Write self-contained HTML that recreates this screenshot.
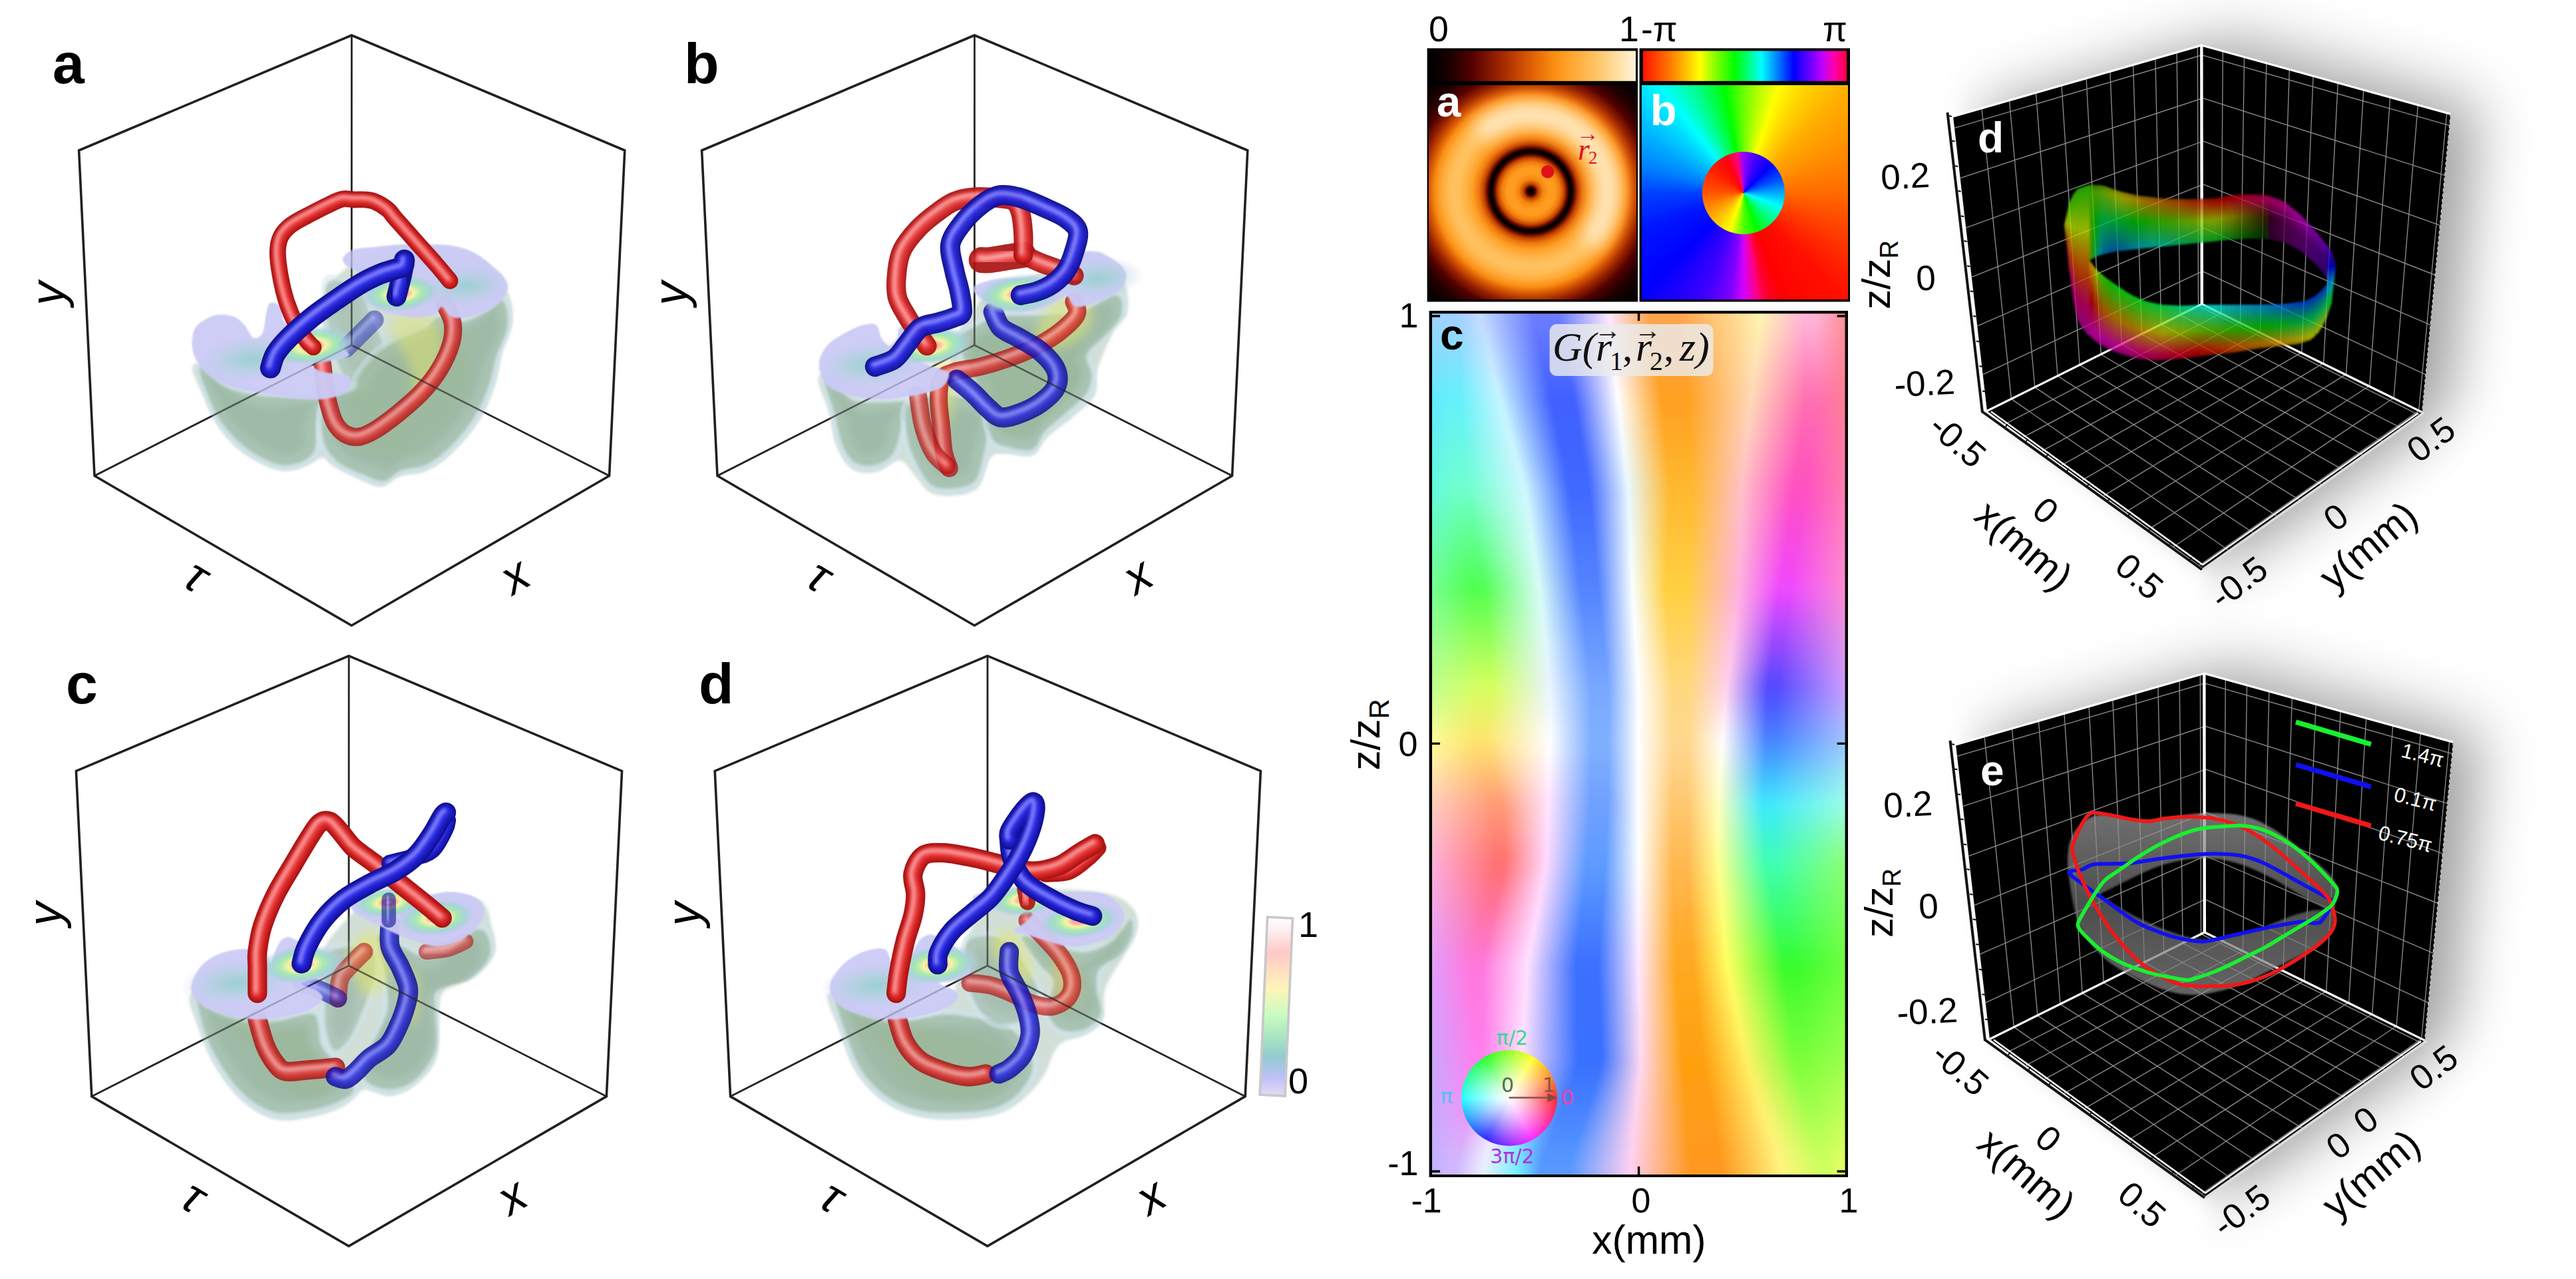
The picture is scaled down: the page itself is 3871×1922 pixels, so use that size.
<!DOCTYPE html>
<html><head><meta charset="utf-8"><title>figure</title>
<style>
html,body{margin:0;padding:0;background:#fff;}
body{width:3871px;height:1922px;position:relative;overflow:hidden;font-family:"Liberation Sans",sans-serif;}
svg{position:absolute;left:0;top:0;}
.abs{position:absolute;}
</style></head><body>
<svg width="3871" height="1922" viewBox="0 0 3871 1922" font-family="Liberation Sans, sans-serif"><defs>
<filter id="b1" x="-20%" y="-20%" width="140%" height="140%"><feGaussianBlur stdDeviation="1"/></filter>
<filter id="b2" x="-20%" y="-20%" width="140%" height="140%"><feGaussianBlur stdDeviation="2"/></filter>
<filter id="b4" x="-20%" y="-20%" width="140%" height="140%"><feGaussianBlur stdDeviation="4"/></filter>
<filter id="b8" x="-30%" y="-30%" width="160%" height="160%"><feGaussianBlur stdDeviation="8"/></filter>
<filter id="b14" x="-30%" y="-30%" width="160%" height="160%"><feGaussianBlur stdDeviation="14"/></filter>
<radialGradient id="core"><stop offset="0" stop-color="#fff"/><stop offset=".14" stop-color="#ff9a9a"/><stop offset=".32" stop-color="#f6f4a4"/><stop offset=".52" stop-color="#a8e8b2"/><stop offset=".74" stop-color="#a2d6d4" stop-opacity=".85"/><stop offset="1" stop-color="#c8c8f0" stop-opacity="0"/></radialGradient>
<radialGradient id="core2"><stop offset="0" stop-color="#8fd0c8" stop-opacity=".8"/><stop offset=".5" stop-color="#a8d4d8" stop-opacity=".55"/><stop offset="1" stop-color="#c8c8f0" stop-opacity="0"/></radialGradient>
<linearGradient id="cbar" x1="0" y1="0" x2="0" y2="1"><stop offset="0" stop-color="#fff"/><stop offset=".06" stop-color="#fdf2f2"/><stop offset=".2" stop-color="#ffc8c8"/><stop offset=".4" stop-color="#fff4b8"/><stop offset=".55" stop-color="#c8fcc0"/><stop offset=".68" stop-color="#a8e2c0"/><stop offset=".78" stop-color="#92ccd0"/><stop offset=".9" stop-color="#c0c0f8"/><stop offset="1" stop-color="#e2def2"/></linearGradient>
<linearGradient id="cr0"><stop offset="0%" stop-color="#99d4ff"/><stop offset="6%" stop-color="#a3d0ff"/><stop offset="7.3%" stop-color="#a3d0ff"/><stop offset="12.5%" stop-color="#c4dcff"/><stop offset="24.9%" stop-color="#6a7cff"/><stop offset="28%" stop-color="#6a7cff"/><stop offset="31%" stop-color="#6a7cff"/><stop offset="43%" stop-color="#fce8ff"/><stop offset="52.6%" stop-color="#ffa44c"/><stop offset="55%" stop-color="#ffa44c"/><stop offset="59.8%" stop-color="#ffa44c"/><stop offset="79%" stop-color="#fff2b0"/><stop offset="89.4%" stop-color="#ffb3d8"/><stop offset="92%" stop-color="#ffb3d8"/><stop offset="100%" stop-color="#ff8a90"/></linearGradient><linearGradient id="cr1"><stop offset="0%" stop-color="#8fd8ff"/><stop offset="5.8%" stop-color="#98d6fe"/><stop offset="7.3%" stop-color="#98d6fe"/><stop offset="13.3%" stop-color="#c5e0ff"/><stop offset="25.6%" stop-color="#6277ff"/><stop offset="28.7%" stop-color="#6277ff"/><stop offset="31.7%" stop-color="#6277ff"/><stop offset="43.4%" stop-color="#fdecff"/><stop offset="53.1%" stop-color="#ffa344"/><stop offset="55.5%" stop-color="#ffa344"/><stop offset="60.2%" stop-color="#ffa344"/><stop offset="78.6%" stop-color="#ffedb1"/><stop offset="89.5%" stop-color="#ffa8d1"/><stop offset="92.2%" stop-color="#ffa8d1"/><stop offset="100%" stop-color="#ff8890"/></linearGradient><linearGradient id="cr2"><stop offset="0%" stop-color="#85dbff"/><stop offset="5.6%" stop-color="#8ddbfe"/><stop offset="7.3%" stop-color="#8ddbfe"/><stop offset="14.1%" stop-color="#c5e4ff"/><stop offset="26.4%" stop-color="#5b72ff"/><stop offset="29.4%" stop-color="#5b72ff"/><stop offset="32.3%" stop-color="#5b72ff"/><stop offset="43.7%" stop-color="#fdf0ff"/><stop offset="53.6%" stop-color="#ffa33c"/><stop offset="56.1%" stop-color="#ffa33c"/><stop offset="60.5%" stop-color="#ffa33c"/><stop offset="78.3%" stop-color="#ffe9b3"/><stop offset="89.5%" stop-color="#ff9cca"/><stop offset="92.4%" stop-color="#ff9cca"/><stop offset="100%" stop-color="#ff8690"/></linearGradient><linearGradient id="cr3"><stop offset="0%" stop-color="#7cdfff"/><stop offset="5.5%" stop-color="#82e1fd"/><stop offset="7.4%" stop-color="#82e1fd"/><stop offset="14.9%" stop-color="#c6e9ff"/><stop offset="27.1%" stop-color="#546dff"/><stop offset="30.1%" stop-color="#546dff"/><stop offset="32.9%" stop-color="#546dff"/><stop offset="44.1%" stop-color="#fef4ff"/><stop offset="54.1%" stop-color="#ffa235"/><stop offset="56.6%" stop-color="#ffa235"/><stop offset="60.9%" stop-color="#ffa235"/><stop offset="77.9%" stop-color="#ffe4b4"/><stop offset="89.6%" stop-color="#ff90c3"/><stop offset="92.5%" stop-color="#ff90c3"/><stop offset="100%" stop-color="#ff8590"/></linearGradient><linearGradient id="cr4"><stop offset="0%" stop-color="#72e2ff"/><stop offset="5.3%" stop-color="#77e6fd"/><stop offset="7.4%" stop-color="#77e6fd"/><stop offset="15.6%" stop-color="#c7edff"/><stop offset="27.8%" stop-color="#4d69ff"/><stop offset="30.8%" stop-color="#4d69ff"/><stop offset="33.5%" stop-color="#4d69ff"/><stop offset="44.4%" stop-color="#fef8ff"/><stop offset="54.5%" stop-color="#ffa12d"/><stop offset="57.1%" stop-color="#ffa12d"/><stop offset="61.2%" stop-color="#ffa12d"/><stop offset="77.6%" stop-color="#ffe0b6"/><stop offset="89.7%" stop-color="#ff85bc"/><stop offset="92.7%" stop-color="#ff85bc"/><stop offset="100%" stop-color="#ff8390"/></linearGradient><linearGradient id="cr5"><stop offset="0%" stop-color="#68e5ff"/><stop offset="5.1%" stop-color="#6cecfc"/><stop offset="7.4%" stop-color="#6cecfc"/><stop offset="16.4%" stop-color="#c7f1ff"/><stop offset="28.5%" stop-color="#4664ff"/><stop offset="31.5%" stop-color="#4664ff"/><stop offset="34.1%" stop-color="#4664ff"/><stop offset="44.7%" stop-color="#fffcff"/><stop offset="55%" stop-color="#ffa126"/><stop offset="57.6%" stop-color="#ffa126"/><stop offset="61.5%" stop-color="#ffa126"/><stop offset="77.3%" stop-color="#ffdbb7"/><stop offset="89.7%" stop-color="#ff79b5"/><stop offset="92.9%" stop-color="#ff79b5"/><stop offset="100%" stop-color="#ff8190"/></linearGradient><linearGradient id="cr6"><stop offset="0%" stop-color="#60e9fe"/><stop offset="5%" stop-color="#64f1fb"/><stop offset="7.5%" stop-color="#64f1fb"/><stop offset="17.2%" stop-color="#c8f4ff"/><stop offset="29.1%" stop-color="#4060ff"/><stop offset="32.1%" stop-color="#4060ff"/><stop offset="34.7%" stop-color="#4060ff"/><stop offset="45.1%" stop-color="#feffff"/><stop offset="55.5%" stop-color="#ffa121"/><stop offset="58.1%" stop-color="#ffa121"/><stop offset="61.8%" stop-color="#ffa121"/><stop offset="76.9%" stop-color="#ffd7b9"/><stop offset="89.7%" stop-color="#ff6fb1"/><stop offset="92.9%" stop-color="#ff6fb1"/><stop offset="100%" stop-color="#ff8091"/></linearGradient><linearGradient id="cr7"><stop offset="0%" stop-color="#60ebf9"/><stop offset="5.2%" stop-color="#66f3f4"/><stop offset="7.8%" stop-color="#66f3f4"/><stop offset="18.1%" stop-color="#c9f5ff"/><stop offset="29.8%" stop-color="#4061ff"/><stop offset="32.7%" stop-color="#4061ff"/><stop offset="35.3%" stop-color="#4061ff"/><stop offset="45.5%" stop-color="#fbfeff"/><stop offset="55.8%" stop-color="#ffa423"/><stop offset="58.4%" stop-color="#ffa423"/><stop offset="62%" stop-color="#ffa423"/><stop offset="76.5%" stop-color="#ffd4bb"/><stop offset="89.3%" stop-color="#ff6ab3"/><stop offset="92.5%" stop-color="#ff6ab3"/><stop offset="100%" stop-color="#ff8096"/></linearGradient><linearGradient id="cr8"><stop offset="0%" stop-color="#60edf5"/><stop offset="5.3%" stop-color="#68f5ee"/><stop offset="8.1%" stop-color="#68f5ee"/><stop offset="19%" stop-color="#cbf5ff"/><stop offset="30.4%" stop-color="#4063ff"/><stop offset="33.3%" stop-color="#4063ff"/><stop offset="35.8%" stop-color="#4063ff"/><stop offset="45.8%" stop-color="#f7fdff"/><stop offset="56.1%" stop-color="#ffa825"/><stop offset="58.7%" stop-color="#ffa825"/><stop offset="62.2%" stop-color="#ffa825"/><stop offset="76.2%" stop-color="#ffd0bd"/><stop offset="88.8%" stop-color="#ff65b5"/><stop offset="92%" stop-color="#ff65b5"/><stop offset="100%" stop-color="#ff809b"/></linearGradient><linearGradient id="cr9"><stop offset="0%" stop-color="#60f0f0"/><stop offset="5.5%" stop-color="#6af7e7"/><stop offset="8.4%" stop-color="#6af7e7"/><stop offset="19.9%" stop-color="#ccf6ff"/><stop offset="31.1%" stop-color="#4064ff"/><stop offset="33.9%" stop-color="#4064ff"/><stop offset="36.4%" stop-color="#4064ff"/><stop offset="46.2%" stop-color="#f4fcff"/><stop offset="56.4%" stop-color="#ffab28"/><stop offset="59%" stop-color="#ffab28"/><stop offset="62.3%" stop-color="#ffab28"/><stop offset="75.8%" stop-color="#ffcdc0"/><stop offset="88.4%" stop-color="#ff61b8"/><stop offset="91.6%" stop-color="#ff61b8"/><stop offset="100%" stop-color="#ff809f"/></linearGradient><linearGradient id="cr10"><stop offset="0%" stop-color="#60f2ec"/><stop offset="5.6%" stop-color="#6bf9e1"/><stop offset="8.6%" stop-color="#6bf9e1"/><stop offset="20.7%" stop-color="#cdf6ff"/><stop offset="31.7%" stop-color="#4065ff"/><stop offset="34.5%" stop-color="#4065ff"/><stop offset="36.9%" stop-color="#4065ff"/><stop offset="46.6%" stop-color="#f1fbff"/><stop offset="56.7%" stop-color="#ffaf2a"/><stop offset="59.2%" stop-color="#ffaf2a"/><stop offset="62.5%" stop-color="#ffaf2a"/><stop offset="75.4%" stop-color="#ffc9c2"/><stop offset="88%" stop-color="#ff5cba"/><stop offset="91.1%" stop-color="#ff5cba"/><stop offset="100%" stop-color="#ff80a4"/></linearGradient><linearGradient id="cr11"><stop offset="0%" stop-color="#60f4e7"/><stop offset="5.8%" stop-color="#6dfcda"/><stop offset="8.9%" stop-color="#6dfcda"/><stop offset="21.6%" stop-color="#cef7ff"/><stop offset="32.4%" stop-color="#4066ff"/><stop offset="35.1%" stop-color="#4066ff"/><stop offset="37.5%" stop-color="#4066ff"/><stop offset="46.9%" stop-color="#edfaff"/><stop offset="57%" stop-color="#ffb32c"/><stop offset="59.5%" stop-color="#ffb32c"/><stop offset="62.6%" stop-color="#ffb32c"/><stop offset="75.1%" stop-color="#ffc5c4"/><stop offset="87.6%" stop-color="#ff57bc"/><stop offset="90.7%" stop-color="#ff57bc"/><stop offset="100%" stop-color="#ff80a9"/></linearGradient><linearGradient id="cr12"><stop offset="0%" stop-color="#60f7e3"/><stop offset="5.9%" stop-color="#6ffed4"/><stop offset="9.2%" stop-color="#6ffed4"/><stop offset="22.5%" stop-color="#cff8ff"/><stop offset="33%" stop-color="#4067ff"/><stop offset="35.7%" stop-color="#4067ff"/><stop offset="38%" stop-color="#4067ff"/><stop offset="47.3%" stop-color="#eaf9ff"/><stop offset="57.3%" stop-color="#ffb62f"/><stop offset="59.8%" stop-color="#ffb62f"/><stop offset="62.8%" stop-color="#ffb62f"/><stop offset="74.7%" stop-color="#ffc2c7"/><stop offset="87.1%" stop-color="#ff53bf"/><stop offset="90.2%" stop-color="#ff53bf"/><stop offset="100%" stop-color="#ff80ad"/></linearGradient><linearGradient id="cr13"><stop offset="0%" stop-color="#61f8dc"/><stop offset="6.2%" stop-color="#6effc8"/><stop offset="9.6%" stop-color="#6effc8"/><stop offset="23.2%" stop-color="#d0f8ff"/><stop offset="33.6%" stop-color="#416aff"/><stop offset="36.2%" stop-color="#416aff"/><stop offset="38.4%" stop-color="#416aff"/><stop offset="47.6%" stop-color="#e9f8ff"/><stop offset="57.4%" stop-color="#ffb931"/><stop offset="59.9%" stop-color="#ffb931"/><stop offset="62.8%" stop-color="#ffb931"/><stop offset="74.5%" stop-color="#ffbfc9"/><stop offset="86.7%" stop-color="#fe50c4"/><stop offset="89.8%" stop-color="#fe50c4"/><stop offset="100%" stop-color="#ff81b2"/></linearGradient><linearGradient id="cr14"><stop offset="0%" stop-color="#65f9d2"/><stop offset="6.8%" stop-color="#6affb7"/><stop offset="10.2%" stop-color="#6affb7"/><stop offset="23.7%" stop-color="#d2f9fe"/><stop offset="33.9%" stop-color="#446dff"/><stop offset="36.5%" stop-color="#446dff"/><stop offset="38.7%" stop-color="#446dff"/><stop offset="47.7%" stop-color="#ebf9ff"/><stop offset="57.3%" stop-color="#ffbd33"/><stop offset="59.7%" stop-color="#ffbd33"/><stop offset="62.6%" stop-color="#ffbd33"/><stop offset="74.4%" stop-color="#ffbdcd"/><stop offset="86.3%" stop-color="#fc4ecc"/><stop offset="89.2%" stop-color="#fc4ecc"/><stop offset="100%" stop-color="#ff83b6"/></linearGradient><linearGradient id="cr15"><stop offset="0%" stop-color="#68fac8"/><stop offset="7.3%" stop-color="#65ffa6"/><stop offset="10.7%" stop-color="#65ffa6"/><stop offset="24.2%" stop-color="#d3f9fd"/><stop offset="34.3%" stop-color="#4771ff"/><stop offset="36.8%" stop-color="#4771ff"/><stop offset="39%" stop-color="#4771ff"/><stop offset="47.8%" stop-color="#edfaff"/><stop offset="57.2%" stop-color="#ffc035"/><stop offset="59.5%" stop-color="#ffc035"/><stop offset="62.5%" stop-color="#ffc035"/><stop offset="74.3%" stop-color="#ffbbd0"/><stop offset="85.8%" stop-color="#fa4dd5"/><stop offset="88.7%" stop-color="#fa4dd5"/><stop offset="100%" stop-color="#ff85bb"/></linearGradient><linearGradient id="cr16"><stop offset="0%" stop-color="#6bfbbf"/><stop offset="7.9%" stop-color="#61ff94"/><stop offset="11.2%" stop-color="#61ff94"/><stop offset="24.6%" stop-color="#d4fafc"/><stop offset="34.7%" stop-color="#4975ff"/><stop offset="37.2%" stop-color="#4975ff"/><stop offset="39.3%" stop-color="#4975ff"/><stop offset="48%" stop-color="#effbff"/><stop offset="57%" stop-color="#ffc337"/><stop offset="59.3%" stop-color="#ffc337"/><stop offset="62.3%" stop-color="#ffc337"/><stop offset="74.3%" stop-color="#ffb9d3"/><stop offset="85.4%" stop-color="#f84cdd"/><stop offset="88.1%" stop-color="#f84cdd"/><stop offset="100%" stop-color="#ff87bf"/></linearGradient><linearGradient id="cr17"><stop offset="0%" stop-color="#6efcb5"/><stop offset="8.4%" stop-color="#5dff83"/><stop offset="11.7%" stop-color="#5dff83"/><stop offset="25.1%" stop-color="#d5fafb"/><stop offset="35%" stop-color="#4c79ff"/><stop offset="37.5%" stop-color="#4c79ff"/><stop offset="39.6%" stop-color="#4c79ff"/><stop offset="48.1%" stop-color="#f2fcff"/><stop offset="56.9%" stop-color="#ffc63a"/><stop offset="59.1%" stop-color="#ffc63a"/><stop offset="62.1%" stop-color="#ffc63a"/><stop offset="74.2%" stop-color="#ffb6d6"/><stop offset="84.9%" stop-color="#f64be6"/><stop offset="87.6%" stop-color="#f64be6"/><stop offset="100%" stop-color="#ff8ac3"/></linearGradient><linearGradient id="cr18"><stop offset="0%" stop-color="#72fdab"/><stop offset="8.9%" stop-color="#58ff72"/><stop offset="12.3%" stop-color="#58ff72"/><stop offset="25.6%" stop-color="#d6fbfa"/><stop offset="35.4%" stop-color="#4f7dff"/><stop offset="37.8%" stop-color="#4f7dff"/><stop offset="39.9%" stop-color="#4f7dff"/><stop offset="48.2%" stop-color="#f4fdff"/><stop offset="56.8%" stop-color="#ffca3c"/><stop offset="58.9%" stop-color="#ffca3c"/><stop offset="61.9%" stop-color="#ffca3c"/><stop offset="74.1%" stop-color="#ffb4da"/><stop offset="84.5%" stop-color="#f44aee"/><stop offset="87.1%" stop-color="#f44aee"/><stop offset="100%" stop-color="#ff8cc8"/></linearGradient><linearGradient id="cr19"><stop offset="0%" stop-color="#75fea1"/><stop offset="9.5%" stop-color="#54ff61"/><stop offset="12.8%" stop-color="#54ff61"/><stop offset="26%" stop-color="#d7fbf9"/><stop offset="35.7%" stop-color="#5180ff"/><stop offset="38.2%" stop-color="#5180ff"/><stop offset="40.2%" stop-color="#5180ff"/><stop offset="48.4%" stop-color="#f6feff"/><stop offset="56.6%" stop-color="#ffcd3e"/><stop offset="58.7%" stop-color="#ffcd3e"/><stop offset="61.8%" stop-color="#ffcd3e"/><stop offset="74.1%" stop-color="#ffb2dd"/><stop offset="84%" stop-color="#f249f7"/><stop offset="86.5%" stop-color="#f249f7"/><stop offset="100%" stop-color="#ff8ecc"/></linearGradient><linearGradient id="cr20"><stop offset="0%" stop-color="#78ff98"/><stop offset="10%" stop-color="#51ff50"/><stop offset="13.3%" stop-color="#51ff50"/><stop offset="26.5%" stop-color="#d8fcf8"/><stop offset="36.1%" stop-color="#5484ff"/><stop offset="38.5%" stop-color="#5484ff"/><stop offset="40.5%" stop-color="#5484ff"/><stop offset="48.5%" stop-color="#f8ffff"/><stop offset="56.5%" stop-color="#ffd040"/><stop offset="58.5%" stop-color="#ffd040"/><stop offset="61.6%" stop-color="#ffd040"/><stop offset="74%" stop-color="#ffb0e0"/><stop offset="83.6%" stop-color="#ef48ff"/><stop offset="86%" stop-color="#ef48ff"/><stop offset="100%" stop-color="#ff90d0"/></linearGradient><linearGradient id="cr21"><stop offset="0%" stop-color="#82ff97"/><stop offset="10.3%" stop-color="#63ff52"/><stop offset="13.6%" stop-color="#63ff52"/><stop offset="26.8%" stop-color="#dafbf9"/><stop offset="36.4%" stop-color="#5989ff"/><stop offset="38.8%" stop-color="#5989ff"/><stop offset="40.8%" stop-color="#5989ff"/><stop offset="48.7%" stop-color="#f9ffff"/><stop offset="56.7%" stop-color="#ffd149"/><stop offset="58.7%" stop-color="#ffd149"/><stop offset="61.7%" stop-color="#ffd149"/><stop offset="73.6%" stop-color="#ffb4e2"/><stop offset="83.2%" stop-color="#da48ff"/><stop offset="85.6%" stop-color="#da48ff"/><stop offset="100%" stop-color="#f892d7"/></linearGradient><linearGradient id="cr22"><stop offset="0%" stop-color="#8cff96"/><stop offset="10.5%" stop-color="#75ff54"/><stop offset="13.9%" stop-color="#75ff54"/><stop offset="27.2%" stop-color="#dcfafa"/><stop offset="36.8%" stop-color="#5e8eff"/><stop offset="39.2%" stop-color="#5e8eff"/><stop offset="41.1%" stop-color="#5e8eff"/><stop offset="48.9%" stop-color="#faffff"/><stop offset="56.9%" stop-color="#ffd252"/><stop offset="58.9%" stop-color="#ffd252"/><stop offset="61.8%" stop-color="#ffd252"/><stop offset="73.2%" stop-color="#ffb9e4"/><stop offset="82.8%" stop-color="#c448ff"/><stop offset="85.2%" stop-color="#c448ff"/><stop offset="100%" stop-color="#f294dd"/></linearGradient><linearGradient id="cr23"><stop offset="0%" stop-color="#95ff95"/><stop offset="10.8%" stop-color="#88ff57"/><stop offset="14.2%" stop-color="#88ff57"/><stop offset="27.5%" stop-color="#dff9fb"/><stop offset="37.1%" stop-color="#6393ff"/><stop offset="39.5%" stop-color="#6393ff"/><stop offset="41.4%" stop-color="#6393ff"/><stop offset="49.1%" stop-color="#fbffff"/><stop offset="57.1%" stop-color="#ffd35a"/><stop offset="59.1%" stop-color="#ffd35a"/><stop offset="61.8%" stop-color="#ffd35a"/><stop offset="72.8%" stop-color="#ffbde7"/><stop offset="82.4%" stop-color="#af48ff"/><stop offset="84.8%" stop-color="#af48ff"/><stop offset="100%" stop-color="#ec97e3"/></linearGradient><linearGradient id="cr24"><stop offset="0%" stop-color="#9fff94"/><stop offset="11.1%" stop-color="#9aff59"/><stop offset="14.4%" stop-color="#9aff59"/><stop offset="27.9%" stop-color="#e1f8fc"/><stop offset="37.5%" stop-color="#6898ff"/><stop offset="39.9%" stop-color="#6898ff"/><stop offset="41.7%" stop-color="#6898ff"/><stop offset="49.3%" stop-color="#fcffff"/><stop offset="57.3%" stop-color="#ffd463"/><stop offset="59.3%" stop-color="#ffd463"/><stop offset="61.9%" stop-color="#ffd463"/><stop offset="72.4%" stop-color="#ffc1e9"/><stop offset="82%" stop-color="#9948ff"/><stop offset="84.4%" stop-color="#9948ff"/><stop offset="100%" stop-color="#e599ea"/></linearGradient><linearGradient id="cr25"><stop offset="0%" stop-color="#a9ff93"/><stop offset="11.4%" stop-color="#acff5b"/><stop offset="14.7%" stop-color="#acff5b"/><stop offset="28.2%" stop-color="#e3f7fd"/><stop offset="37.8%" stop-color="#6c9cff"/><stop offset="40.2%" stop-color="#6c9cff"/><stop offset="42.1%" stop-color="#6c9cff"/><stop offset="49.5%" stop-color="#fdffff"/><stop offset="57.5%" stop-color="#ffd56b"/><stop offset="59.5%" stop-color="#ffd56b"/><stop offset="62%" stop-color="#ffd56b"/><stop offset="72%" stop-color="#ffc6eb"/><stop offset="81.6%" stop-color="#8448ff"/><stop offset="84%" stop-color="#8448ff"/><stop offset="100%" stop-color="#df9bf0"/></linearGradient><linearGradient id="cr26"><stop offset="0%" stop-color="#b3ff91"/><stop offset="11.6%" stop-color="#bfff5d"/><stop offset="15%" stop-color="#bfff5d"/><stop offset="28.5%" stop-color="#e5f5fe"/><stop offset="38.1%" stop-color="#71a1ff"/><stop offset="40.5%" stop-color="#71a1ff"/><stop offset="42.4%" stop-color="#71a1ff"/><stop offset="49.7%" stop-color="#feffff"/><stop offset="57.7%" stop-color="#ffd774"/><stop offset="59.7%" stop-color="#ffd774"/><stop offset="62.1%" stop-color="#ffd774"/><stop offset="71.6%" stop-color="#ffcaed"/><stop offset="81.2%" stop-color="#6e48ff"/><stop offset="83.6%" stop-color="#6e48ff"/><stop offset="100%" stop-color="#d99df6"/></linearGradient><linearGradient id="cr27"><stop offset="0%" stop-color="#bcff90"/><stop offset="11.9%" stop-color="#d1ff5f"/><stop offset="15.3%" stop-color="#d1ff5f"/><stop offset="28.9%" stop-color="#e7f4ff"/><stop offset="38.5%" stop-color="#76a6ff"/><stop offset="40.9%" stop-color="#76a6ff"/><stop offset="42.7%" stop-color="#76a6ff"/><stop offset="49.9%" stop-color="#ffffff"/><stop offset="57.9%" stop-color="#ffd87d"/><stop offset="59.9%" stop-color="#ffd87d"/><stop offset="62.2%" stop-color="#ffd87d"/><stop offset="71.2%" stop-color="#ffceef"/><stop offset="80.8%" stop-color="#5848ff"/><stop offset="83.2%" stop-color="#5848ff"/><stop offset="100%" stop-color="#d29ffd"/></linearGradient><linearGradient id="cr28"><stop offset="0%" stop-color="#c9ff92"/><stop offset="11.7%" stop-color="#defb62"/><stop offset="15.2%" stop-color="#defb62"/><stop offset="29%" stop-color="#ebf6ff"/><stop offset="38.6%" stop-color="#79a9ff"/><stop offset="41%" stop-color="#79a9ff"/><stop offset="42.8%" stop-color="#79a9ff"/><stop offset="50%" stop-color="#ffffff"/><stop offset="58%" stop-color="#ffd882"/><stop offset="60%" stop-color="#ffd882"/><stop offset="62.2%" stop-color="#ffd882"/><stop offset="70.8%" stop-color="#ffd7f2"/><stop offset="80.6%" stop-color="#4f52ff"/><stop offset="83%" stop-color="#4f52ff"/><stop offset="100%" stop-color="#c9a6ff"/></linearGradient><linearGradient id="cr29"><stop offset="0%" stop-color="#d9ff96"/><stop offset="11.2%" stop-color="#e7f466"/><stop offset="14.8%" stop-color="#e7f466"/><stop offset="29%" stop-color="#f1f8ff"/><stop offset="38.6%" stop-color="#7babff"/><stop offset="41%" stop-color="#7babff"/><stop offset="42.8%" stop-color="#7babff"/><stop offset="50%" stop-color="#ffffff"/><stop offset="58%" stop-color="#ffd886"/><stop offset="60%" stop-color="#ffd886"/><stop offset="62.1%" stop-color="#ffd886"/><stop offset="70.6%" stop-color="#ffe3f6"/><stop offset="80.5%" stop-color="#4d61ff"/><stop offset="83%" stop-color="#4d61ff"/><stop offset="100%" stop-color="#bdb0ff"/></linearGradient><linearGradient id="cr30"><stop offset="0%" stop-color="#e9ff9a"/><stop offset="10.7%" stop-color="#f1ee6a"/><stop offset="14.4%" stop-color="#f1ee6a"/><stop offset="29%" stop-color="#f7fbff"/><stop offset="38.6%" stop-color="#7dadff"/><stop offset="41%" stop-color="#7dadff"/><stop offset="42.8%" stop-color="#7dadff"/><stop offset="50%" stop-color="#ffffff"/><stop offset="58%" stop-color="#ffd88a"/><stop offset="60%" stop-color="#ffd88a"/><stop offset="62.1%" stop-color="#ffd88a"/><stop offset="70.4%" stop-color="#ffeefa"/><stop offset="80.5%" stop-color="#4b71ff"/><stop offset="83%" stop-color="#4b71ff"/><stop offset="100%" stop-color="#b1baff"/></linearGradient><linearGradient id="cr31"><stop offset="0%" stop-color="#f8ff9e"/><stop offset="10.2%" stop-color="#fbe76e"/><stop offset="14%" stop-color="#fbe76e"/><stop offset="29%" stop-color="#fcfeff"/><stop offset="38.6%" stop-color="#7fafff"/><stop offset="41%" stop-color="#7fafff"/><stop offset="42.8%" stop-color="#7fafff"/><stop offset="50%" stop-color="#ffffff"/><stop offset="58%" stop-color="#ffd88e"/><stop offset="60%" stop-color="#ffd88e"/><stop offset="62%" stop-color="#ffd88e"/><stop offset="70.1%" stop-color="#fffafd"/><stop offset="80.4%" stop-color="#4981ff"/><stop offset="83%" stop-color="#4981ff"/><stop offset="100%" stop-color="#a5c4ff"/></linearGradient><linearGradient id="cr32"><stop offset="0%" stop-color="#fff9a4"/><stop offset="10.6%" stop-color="#ffdb71"/><stop offset="14.3%" stop-color="#ffdb71"/><stop offset="28.9%" stop-color="#fffcff"/><stop offset="38.6%" stop-color="#7eaeff"/><stop offset="41%" stop-color="#7eaeff"/><stop offset="42.8%" stop-color="#7eaeff"/><stop offset="50%" stop-color="#ffffff"/><stop offset="58%" stop-color="#ffd68c"/><stop offset="60%" stop-color="#ffd68c"/><stop offset="62%" stop-color="#ffd68c"/><stop offset="69.9%" stop-color="#fffff7"/><stop offset="80.3%" stop-color="#4794ff"/><stop offset="82.9%" stop-color="#4794ff"/><stop offset="100%" stop-color="#a0cffc"/></linearGradient><linearGradient id="cr33"><stop offset="0%" stop-color="#ffefab"/><stop offset="11.7%" stop-color="#ffcb73"/><stop offset="15.2%" stop-color="#ffcb73"/><stop offset="28.8%" stop-color="#fff6ff"/><stop offset="38.6%" stop-color="#7aaaff"/><stop offset="41%" stop-color="#7aaaff"/><stop offset="42.8%" stop-color="#7aaaff"/><stop offset="50%" stop-color="#ffffff"/><stop offset="58%" stop-color="#ffd285"/><stop offset="60%" stop-color="#ffd285"/><stop offset="61.9%" stop-color="#ffd285"/><stop offset="69.7%" stop-color="#ffffe9"/><stop offset="80.1%" stop-color="#45aaff"/><stop offset="82.7%" stop-color="#45aaff"/><stop offset="100%" stop-color="#a0dbf7"/></linearGradient><linearGradient id="cr34"><stop offset="0%" stop-color="#ffe4b2"/><stop offset="12.9%" stop-color="#ffbb75"/><stop offset="16%" stop-color="#ffbb75"/><stop offset="28.7%" stop-color="#fff0ff"/><stop offset="38.5%" stop-color="#77a7ff"/><stop offset="41%" stop-color="#77a7ff"/><stop offset="42.8%" stop-color="#77a7ff"/><stop offset="50%" stop-color="#ffffff"/><stop offset="58%" stop-color="#ffcf7e"/><stop offset="60%" stop-color="#ffcf7e"/><stop offset="61.9%" stop-color="#ffcf7e"/><stop offset="69.4%" stop-color="#ffffdb"/><stop offset="79.8%" stop-color="#43bfff"/><stop offset="82.4%" stop-color="#43bfff"/><stop offset="100%" stop-color="#a0e8f2"/></linearGradient><linearGradient id="cr35"><stop offset="0%" stop-color="#ffd9ba"/><stop offset="14%" stop-color="#ffab76"/><stop offset="16.9%" stop-color="#ffab76"/><stop offset="28.6%" stop-color="#ffe9ff"/><stop offset="38.5%" stop-color="#73a3ff"/><stop offset="41%" stop-color="#73a3ff"/><stop offset="42.8%" stop-color="#73a3ff"/><stop offset="50%" stop-color="#ffffff"/><stop offset="58%" stop-color="#ffcb76"/><stop offset="60%" stop-color="#ffcb76"/><stop offset="61.8%" stop-color="#ffcb76"/><stop offset="69.2%" stop-color="#ffffcd"/><stop offset="79.6%" stop-color="#42d5ff"/><stop offset="82.2%" stop-color="#42d5ff"/><stop offset="100%" stop-color="#a0f4ed"/></linearGradient><linearGradient id="cr36"><stop offset="0%" stop-color="#ffcfc1"/><stop offset="15%" stop-color="#ff9b78"/><stop offset="17.7%" stop-color="#ff9b78"/><stop offset="28.5%" stop-color="#ffe4ff"/><stop offset="38.5%" stop-color="#70a0ff"/><stop offset="41%" stop-color="#70a0ff"/><stop offset="42.8%" stop-color="#70a0ff"/><stop offset="50%" stop-color="#ffffff"/><stop offset="58%" stop-color="#ffc86f"/><stop offset="60%" stop-color="#ffc86f"/><stop offset="61.8%" stop-color="#ffc86f"/><stop offset="69%" stop-color="#ffffbf"/><stop offset="79.4%" stop-color="#40e9fd"/><stop offset="82%" stop-color="#40e9fd"/><stop offset="100%" stop-color="#a0ffe5"/></linearGradient><linearGradient id="cr37"><stop offset="0%" stop-color="#ffc8c8"/><stop offset="15.2%" stop-color="#ff9176"/><stop offset="17.9%" stop-color="#ff9176"/><stop offset="28.4%" stop-color="#ffe1ff"/><stop offset="38.3%" stop-color="#6b9fff"/><stop offset="40.8%" stop-color="#6b9fff"/><stop offset="42.6%" stop-color="#6b9fff"/><stop offset="50%" stop-color="#ffffff"/><stop offset="58%" stop-color="#ffc468"/><stop offset="60%" stop-color="#ffc468"/><stop offset="61.8%" stop-color="#ffc468"/><stop offset="69%" stop-color="#ffffb4"/><stop offset="79.6%" stop-color="#40eeec"/><stop offset="82.2%" stop-color="#40eeec"/><stop offset="100%" stop-color="#9cffcb"/></linearGradient><linearGradient id="cr38"><stop offset="0%" stop-color="#ffc1cf"/><stop offset="15.5%" stop-color="#ff8874"/><stop offset="18%" stop-color="#ff8874"/><stop offset="28.3%" stop-color="#ffdfff"/><stop offset="38.1%" stop-color="#679eff"/><stop offset="40.5%" stop-color="#679eff"/><stop offset="42.4%" stop-color="#679eff"/><stop offset="50%" stop-color="#ffffff"/><stop offset="58%" stop-color="#ffc161"/><stop offset="60%" stop-color="#ffc161"/><stop offset="61.8%" stop-color="#ffc161"/><stop offset="69%" stop-color="#ffffaa"/><stop offset="79.8%" stop-color="#40f3db"/><stop offset="82.5%" stop-color="#40f3db"/><stop offset="100%" stop-color="#99ffb1"/></linearGradient><linearGradient id="cr39"><stop offset="0%" stop-color="#ffbad6"/><stop offset="15.7%" stop-color="#ff7e73"/><stop offset="18.2%" stop-color="#ff7e73"/><stop offset="28.2%" stop-color="#ffdcff"/><stop offset="37.9%" stop-color="#639dff"/><stop offset="40.3%" stop-color="#639dff"/><stop offset="42.3%" stop-color="#639dff"/><stop offset="50%" stop-color="#ffffff"/><stop offset="58%" stop-color="#ffbd5a"/><stop offset="60%" stop-color="#ffbd5a"/><stop offset="61.8%" stop-color="#ffbd5a"/><stop offset="69%" stop-color="#ffffa0"/><stop offset="79.9%" stop-color="#40f8ca"/><stop offset="82.7%" stop-color="#40f8ca"/><stop offset="100%" stop-color="#95ff97"/></linearGradient><linearGradient id="cr40"><stop offset="0%" stop-color="#ffb3dd"/><stop offset="15.9%" stop-color="#ff7571"/><stop offset="18.3%" stop-color="#ff7571"/><stop offset="28.1%" stop-color="#ffd9ff"/><stop offset="37.7%" stop-color="#5e9cff"/><stop offset="40.1%" stop-color="#5e9cff"/><stop offset="42.1%" stop-color="#5e9cff"/><stop offset="50%" stop-color="#ffffff"/><stop offset="58%" stop-color="#ffba53"/><stop offset="60%" stop-color="#ffba53"/><stop offset="61.8%" stop-color="#ffba53"/><stop offset="69%" stop-color="#ffff95"/><stop offset="80.1%" stop-color="#40fdb9"/><stop offset="82.9%" stop-color="#40fdb9"/><stop offset="100%" stop-color="#92ff7d"/></linearGradient><linearGradient id="cr41"><stop offset="0%" stop-color="#fdafe2"/><stop offset="15.6%" stop-color="#ff7177"/><stop offset="18%" stop-color="#ff7177"/><stop offset="27.7%" stop-color="#ffd9ff"/><stop offset="37.4%" stop-color="#5a99ff"/><stop offset="39.9%" stop-color="#5a99ff"/><stop offset="41.9%" stop-color="#5a99ff"/><stop offset="50%" stop-color="#fffdff"/><stop offset="58.1%" stop-color="#ffb74d"/><stop offset="60.1%" stop-color="#ffb74d"/><stop offset="61.9%" stop-color="#ffb74d"/><stop offset="69.1%" stop-color="#ffff8d"/><stop offset="80.5%" stop-color="#3fffa7"/><stop offset="83.3%" stop-color="#3fffa7"/><stop offset="100%" stop-color="#8eff6d"/></linearGradient><linearGradient id="cr42"><stop offset="0%" stop-color="#f9ade6"/><stop offset="14.8%" stop-color="#ff7286"/><stop offset="17.2%" stop-color="#ff7286"/><stop offset="27.1%" stop-color="#ffdaff"/><stop offset="37.1%" stop-color="#5693ff"/><stop offset="39.6%" stop-color="#5693ff"/><stop offset="41.7%" stop-color="#5693ff"/><stop offset="50%" stop-color="#fffaff"/><stop offset="58.2%" stop-color="#ffb546"/><stop offset="60.2%" stop-color="#ffb546"/><stop offset="62%" stop-color="#ffb546"/><stop offset="69.4%" stop-color="#ffff86"/><stop offset="81.1%" stop-color="#3efe95"/><stop offset="84%" stop-color="#3efe95"/><stop offset="100%" stop-color="#8aff66"/></linearGradient><linearGradient id="cr43"><stop offset="0%" stop-color="#f5abea"/><stop offset="14%" stop-color="#ff7394"/><stop offset="16.5%" stop-color="#ff7394"/><stop offset="26.5%" stop-color="#ffdbff"/><stop offset="36.8%" stop-color="#518dff"/><stop offset="39.3%" stop-color="#518dff"/><stop offset="41.5%" stop-color="#518dff"/><stop offset="50%" stop-color="#fff7ff"/><stop offset="58.3%" stop-color="#ffb340"/><stop offset="60.3%" stop-color="#ffb340"/><stop offset="62.2%" stop-color="#ffb340"/><stop offset="69.7%" stop-color="#ffff80"/><stop offset="81.7%" stop-color="#3dfe83"/><stop offset="84.7%" stop-color="#3dfe83"/><stop offset="100%" stop-color="#85ff60"/></linearGradient><linearGradient id="cr44"><stop offset="0%" stop-color="#f0a8ef"/><stop offset="13.2%" stop-color="#ff74a3"/><stop offset="15.7%" stop-color="#ff74a3"/><stop offset="25.9%" stop-color="#ffdcff"/><stop offset="36.4%" stop-color="#4d87ff"/><stop offset="39.1%" stop-color="#4d87ff"/><stop offset="41.2%" stop-color="#4d87ff"/><stop offset="50%" stop-color="#fff4ff"/><stop offset="58.4%" stop-color="#ffb039"/><stop offset="60.5%" stop-color="#ffb039"/><stop offset="62.4%" stop-color="#ffb039"/><stop offset="69.9%" stop-color="#ffff79"/><stop offset="82.3%" stop-color="#3cfe72"/><stop offset="85.4%" stop-color="#3cfe72"/><stop offset="100%" stop-color="#81ff59"/></linearGradient><linearGradient id="cr45"><stop offset="0%" stop-color="#eca6f3"/><stop offset="12.4%" stop-color="#ff75b2"/><stop offset="14.9%" stop-color="#ff75b2"/><stop offset="25.3%" stop-color="#ffddff"/><stop offset="36.1%" stop-color="#4981ff"/><stop offset="38.8%" stop-color="#4981ff"/><stop offset="41%" stop-color="#4981ff"/><stop offset="50%" stop-color="#fff1ff"/><stop offset="58.5%" stop-color="#ffae33"/><stop offset="60.6%" stop-color="#ffae33"/><stop offset="62.5%" stop-color="#ffae33"/><stop offset="70.2%" stop-color="#ffff73"/><stop offset="82.9%" stop-color="#3bfd60"/><stop offset="86%" stop-color="#3bfd60"/><stop offset="100%" stop-color="#7dff53"/></linearGradient><linearGradient id="cr46"><stop offset="0%" stop-color="#e8a4f7"/><stop offset="11.6%" stop-color="#ff76c0"/><stop offset="14.2%" stop-color="#ff76c0"/><stop offset="24.7%" stop-color="#ffdeff"/><stop offset="35.7%" stop-color="#447bff"/><stop offset="38.5%" stop-color="#447bff"/><stop offset="40.8%" stop-color="#447bff"/><stop offset="50%" stop-color="#ffeeff"/><stop offset="58.6%" stop-color="#ffac2c"/><stop offset="60.7%" stop-color="#ffac2c"/><stop offset="62.7%" stop-color="#ffac2c"/><stop offset="70.5%" stop-color="#ffff6c"/><stop offset="83.5%" stop-color="#3afd4e"/><stop offset="86.7%" stop-color="#3afd4e"/><stop offset="100%" stop-color="#78ff4c"/></linearGradient><linearGradient id="cr47"><stop offset="0%" stop-color="#e4a2fb"/><stop offset="10.7%" stop-color="#ff77cf"/><stop offset="13.4%" stop-color="#ff77cf"/><stop offset="24.1%" stop-color="#ffdfff"/><stop offset="35.4%" stop-color="#4075ff"/><stop offset="38.2%" stop-color="#4075ff"/><stop offset="40.6%" stop-color="#4075ff"/><stop offset="50%" stop-color="#ffebff"/><stop offset="58.7%" stop-color="#ffaa26"/><stop offset="60.9%" stop-color="#ffaa26"/><stop offset="62.9%" stop-color="#ffaa26"/><stop offset="70.8%" stop-color="#ffff66"/><stop offset="84.1%" stop-color="#39fc3c"/><stop offset="87.4%" stop-color="#39fc3c"/><stop offset="100%" stop-color="#74ff46"/></linearGradient><linearGradient id="cr48"><stop offset="0%" stop-color="#e0a0ff"/><stop offset="10%" stop-color="#ff78dc"/><stop offset="12.7%" stop-color="#ff78dc"/><stop offset="23.5%" stop-color="#ffe0ff"/><stop offset="35.1%" stop-color="#3c70ff"/><stop offset="38%" stop-color="#3c70ff"/><stop offset="40.4%" stop-color="#3c70ff"/><stop offset="50%" stop-color="#ffe8ff"/><stop offset="58.8%" stop-color="#ffa820"/><stop offset="61%" stop-color="#ffa820"/><stop offset="63%" stop-color="#ffa820"/><stop offset="71.1%" stop-color="#ffff60"/><stop offset="84.6%" stop-color="#39fc2c"/><stop offset="88%" stop-color="#39fc2c"/><stop offset="100%" stop-color="#71ff40"/></linearGradient><linearGradient id="cr49"><stop offset="0%" stop-color="#dda1ff"/><stop offset="10.1%" stop-color="#ff79df"/><stop offset="12.8%" stop-color="#ff79df"/><stop offset="23.3%" stop-color="#ffe0ff"/><stop offset="35.2%" stop-color="#3b70ff"/><stop offset="38.1%" stop-color="#3b70ff"/><stop offset="40.5%" stop-color="#3b70ff"/><stop offset="50.1%" stop-color="#ffe6fd"/><stop offset="59%" stop-color="#ffa71e"/><stop offset="61.3%" stop-color="#ffa71e"/><stop offset="63.4%" stop-color="#ffa71e"/><stop offset="71.7%" stop-color="#fffd61"/><stop offset="85%" stop-color="#42fc2e"/><stop offset="88.3%" stop-color="#42fc2e"/><stop offset="100%" stop-color="#77ff42"/></linearGradient><linearGradient id="cr50"><stop offset="0%" stop-color="#d9a2ff"/><stop offset="10.3%" stop-color="#ff7ae2"/><stop offset="12.8%" stop-color="#ff7ae2"/><stop offset="23.1%" stop-color="#ffe0ff"/><stop offset="35.2%" stop-color="#3b70ff"/><stop offset="38.3%" stop-color="#3b70ff"/><stop offset="40.7%" stop-color="#3b70ff"/><stop offset="50.1%" stop-color="#ffe4fb"/><stop offset="59.3%" stop-color="#ffa61c"/><stop offset="61.6%" stop-color="#ffa61c"/><stop offset="63.7%" stop-color="#ffa61c"/><stop offset="72.4%" stop-color="#fffb61"/><stop offset="85.3%" stop-color="#4cfd30"/><stop offset="88.6%" stop-color="#4cfd30"/><stop offset="100%" stop-color="#7dff44"/></linearGradient><linearGradient id="cr51"><stop offset="0%" stop-color="#d6a3ff"/><stop offset="10.4%" stop-color="#ff7be4"/><stop offset="12.9%" stop-color="#ff7be4"/><stop offset="22.9%" stop-color="#ffe0ff"/><stop offset="35.3%" stop-color="#3a70ff"/><stop offset="38.4%" stop-color="#3a70ff"/><stop offset="40.8%" stop-color="#3a70ff"/><stop offset="50.2%" stop-color="#ffe1f9"/><stop offset="59.5%" stop-color="#ffa519"/><stop offset="61.8%" stop-color="#ffa519"/><stop offset="64.1%" stop-color="#ffa519"/><stop offset="73.1%" stop-color="#fff962"/><stop offset="85.7%" stop-color="#56fd33"/><stop offset="88.8%" stop-color="#56fd33"/><stop offset="100%" stop-color="#84ff47"/></linearGradient><linearGradient id="cr52"><stop offset="0%" stop-color="#d3a4ff"/><stop offset="10.6%" stop-color="#ff7ce7"/><stop offset="13%" stop-color="#ff7ce7"/><stop offset="22.7%" stop-color="#ffe0ff"/><stop offset="35.4%" stop-color="#3a70ff"/><stop offset="38.6%" stop-color="#3a70ff"/><stop offset="40.9%" stop-color="#3a70ff"/><stop offset="50.3%" stop-color="#ffdff7"/><stop offset="59.7%" stop-color="#ffa417"/><stop offset="62.1%" stop-color="#ffa417"/><stop offset="64.4%" stop-color="#ffa417"/><stop offset="73.8%" stop-color="#fff762"/><stop offset="86%" stop-color="#60fe35"/><stop offset="89.1%" stop-color="#60fe35"/><stop offset="100%" stop-color="#8aff49"/></linearGradient><linearGradient id="cr53"><stop offset="0%" stop-color="#d0a5ff"/><stop offset="10.7%" stop-color="#ff7dea"/><stop offset="13%" stop-color="#ff7dea"/><stop offset="22.5%" stop-color="#ffe0ff"/><stop offset="35.4%" stop-color="#3970ff"/><stop offset="38.7%" stop-color="#3970ff"/><stop offset="41%" stop-color="#3970ff"/><stop offset="50.3%" stop-color="#ffddf5"/><stop offset="60%" stop-color="#ffa315"/><stop offset="62.4%" stop-color="#ffa315"/><stop offset="64.8%" stop-color="#ffa315"/><stop offset="74.4%" stop-color="#fff563"/><stop offset="86.4%" stop-color="#69fe37"/><stop offset="89.4%" stop-color="#69fe37"/><stop offset="100%" stop-color="#91ff4b"/></linearGradient><linearGradient id="cr54"><stop offset="0%" stop-color="#cca7ff"/><stop offset="10.8%" stop-color="#ff7fec"/><stop offset="13.1%" stop-color="#ff7fec"/><stop offset="22.3%" stop-color="#ffe0ff"/><stop offset="35.5%" stop-color="#3970ff"/><stop offset="38.8%" stop-color="#3970ff"/><stop offset="41.1%" stop-color="#3970ff"/><stop offset="50.4%" stop-color="#ffdbf3"/><stop offset="60.2%" stop-color="#ffa113"/><stop offset="62.6%" stop-color="#ffa113"/><stop offset="65.1%" stop-color="#ffa113"/><stop offset="75.1%" stop-color="#fff363"/><stop offset="86.7%" stop-color="#73fe39"/><stop offset="89.6%" stop-color="#73fe39"/><stop offset="100%" stop-color="#97ff4d"/></linearGradient><linearGradient id="cr55"><stop offset="0%" stop-color="#c9a8ff"/><stop offset="11%" stop-color="#ff80ef"/><stop offset="13.2%" stop-color="#ff80ef"/><stop offset="22.1%" stop-color="#ffe0ff"/><stop offset="35.6%" stop-color="#3870ff"/><stop offset="39%" stop-color="#3870ff"/><stop offset="41.3%" stop-color="#3870ff"/><stop offset="50.5%" stop-color="#ffd9f1"/><stop offset="60.4%" stop-color="#ffa011"/><stop offset="62.9%" stop-color="#ffa011"/><stop offset="65.5%" stop-color="#ffa011"/><stop offset="75.8%" stop-color="#fff164"/><stop offset="87.1%" stop-color="#7dff3b"/><stop offset="89.9%" stop-color="#7dff3b"/><stop offset="100%" stop-color="#9eff4f"/></linearGradient><linearGradient id="cr56"><stop offset="0%" stop-color="#c7a9ff"/><stop offset="10.5%" stop-color="#fb85f1"/><stop offset="12.6%" stop-color="#fb85f1"/><stop offset="21.2%" stop-color="#fde1ff"/><stop offset="34.8%" stop-color="#3b74ff"/><stop offset="38.2%" stop-color="#3b74ff"/><stop offset="40.6%" stop-color="#3b74ff"/><stop offset="50.3%" stop-color="#ffd7f0"/><stop offset="60.7%" stop-color="#ff9f11"/><stop offset="63.3%" stop-color="#ff9f11"/><stop offset="66%" stop-color="#ff9f11"/><stop offset="76.7%" stop-color="#fff066"/><stop offset="87.7%" stop-color="#87ff3f"/><stop offset="90.4%" stop-color="#87ff3f"/><stop offset="100%" stop-color="#a6ff51"/></linearGradient><linearGradient id="cr57"><stop offset="0%" stop-color="#c6aaff"/><stop offset="9.7%" stop-color="#f48df3"/><stop offset="11.7%" stop-color="#f48df3"/><stop offset="20%" stop-color="#fbe4ff"/><stop offset="33.6%" stop-color="#3f79ff"/><stop offset="37%" stop-color="#3f79ff"/><stop offset="39.6%" stop-color="#3f79ff"/><stop offset="49.9%" stop-color="#ffd6f0"/><stop offset="60.9%" stop-color="#ff9e14"/><stop offset="63.7%" stop-color="#ff9e14"/><stop offset="66.5%" stop-color="#ff9e14"/><stop offset="77.8%" stop-color="#fff16a"/><stop offset="88.5%" stop-color="#92ff44"/><stop offset="91.1%" stop-color="#92ff44"/><stop offset="100%" stop-color="#b0ff54"/></linearGradient><linearGradient id="cr58"><stop offset="0%" stop-color="#c5abff"/><stop offset="8.8%" stop-color="#ee94f5"/><stop offset="10.8%" stop-color="#ee94f5"/><stop offset="18.8%" stop-color="#f8e6ff"/><stop offset="21%" stop-color="#cdd9ff"/><stop offset="32.4%" stop-color="#437eff"/><stop offset="35.8%" stop-color="#437eff"/><stop offset="38.5%" stop-color="#437eff"/><stop offset="49.6%" stop-color="#ffd5f0"/><stop offset="61.2%" stop-color="#ff9d16"/><stop offset="64.1%" stop-color="#ff9d16"/><stop offset="67%" stop-color="#ff9d16"/><stop offset="78.9%" stop-color="#fff16e"/><stop offset="89.2%" stop-color="#9dff49"/><stop offset="91.8%" stop-color="#9dff49"/><stop offset="100%" stop-color="#baff56"/></linearGradient><linearGradient id="cr59"><stop offset="0%" stop-color="#c4acff"/><stop offset="8%" stop-color="#e89cf7"/><stop offset="9.9%" stop-color="#e89cf7"/><stop offset="17.6%" stop-color="#f6e8ff"/><stop offset="21%" stop-color="#aedaff"/><stop offset="31.2%" stop-color="#4884ff"/><stop offset="34.6%" stop-color="#4884ff"/><stop offset="37.5%" stop-color="#4884ff"/><stop offset="49.3%" stop-color="#ffd4f0"/><stop offset="61.4%" stop-color="#ff9c18"/><stop offset="64.5%" stop-color="#ff9c18"/><stop offset="67.6%" stop-color="#ff9c18"/><stop offset="79.9%" stop-color="#fff272"/><stop offset="90%" stop-color="#a7ff4e"/><stop offset="92.5%" stop-color="#a7ff4e"/><stop offset="100%" stop-color="#c4ff58"/></linearGradient><linearGradient id="cr60"><stop offset="0%" stop-color="#c3adff"/><stop offset="7.2%" stop-color="#e1a3f9"/><stop offset="9.1%" stop-color="#e1a3f9"/><stop offset="16.3%" stop-color="#f3eaff"/><stop offset="21%" stop-color="#96deff"/><stop offset="29.9%" stop-color="#4c89ff"/><stop offset="33.3%" stop-color="#4c89ff"/><stop offset="36.5%" stop-color="#4c89ff"/><stop offset="48.9%" stop-color="#ffd3f0"/><stop offset="61.7%" stop-color="#ff9b1a"/><stop offset="64.9%" stop-color="#ff9b1a"/><stop offset="68.1%" stop-color="#ff9b1a"/><stop offset="81%" stop-color="#fff376"/><stop offset="90.7%" stop-color="#b2ff53"/><stop offset="93.1%" stop-color="#b2ff53"/><stop offset="100%" stop-color="#cdff5a"/></linearGradient><linearGradient id="cr61"><stop offset="0%" stop-color="#c2aeff"/><stop offset="6.4%" stop-color="#dbabfb"/><stop offset="8.2%" stop-color="#dbabfb"/><stop offset="15.1%" stop-color="#f1ecff"/><stop offset="21%" stop-color="#85e5ff"/><stop offset="28.7%" stop-color="#508fff"/><stop offset="32.1%" stop-color="#508fff"/><stop offset="35.4%" stop-color="#508fff"/><stop offset="48.6%" stop-color="#ffd2f0"/><stop offset="61.9%" stop-color="#ff9a1c"/><stop offset="65.3%" stop-color="#ff9a1c"/><stop offset="68.7%" stop-color="#ff9a1c"/><stop offset="82.1%" stop-color="#fff379"/><stop offset="91.5%" stop-color="#bdff57"/><stop offset="93.8%" stop-color="#bdff57"/><stop offset="100%" stop-color="#d7ff5c"/></linearGradient><linearGradient id="cr62"><stop offset="0%" stop-color="#c1afff"/><stop offset="5.6%" stop-color="#d5b2fd"/><stop offset="7.3%" stop-color="#d5b2fd"/><stop offset="13.9%" stop-color="#eeeeff"/><stop offset="21%" stop-color="#7aedff"/><stop offset="27.5%" stop-color="#5594ff"/><stop offset="30.9%" stop-color="#5594ff"/><stop offset="34.4%" stop-color="#5594ff"/><stop offset="48.3%" stop-color="#ffd1f0"/><stop offset="62.2%" stop-color="#ff991e"/><stop offset="65.7%" stop-color="#ff991e"/><stop offset="69.2%" stop-color="#ff991e"/><stop offset="83.2%" stop-color="#fff47d"/><stop offset="92.2%" stop-color="#c8ff5c"/><stop offset="94.5%" stop-color="#c8ff5c"/><stop offset="100%" stop-color="#e1ff5e"/></linearGradient><linearGradient id="cr63"><stop offset="0%" stop-color="#c0b0ff"/><stop offset="5%" stop-color="#d0b8ff"/><stop offset="6.6%" stop-color="#d0b8ff"/><stop offset="13%" stop-color="#ecf0ff"/><stop offset="21%" stop-color="#78f0ff"/><stop offset="26.6%" stop-color="#5898ff"/><stop offset="30%" stop-color="#5898ff"/><stop offset="33.6%" stop-color="#5898ff"/><stop offset="48%" stop-color="#ffd0f0"/><stop offset="62.4%" stop-color="#ff9820"/><stop offset="66%" stop-color="#ff9820"/><stop offset="69.6%" stop-color="#ff9820"/><stop offset="84%" stop-color="#fff480"/><stop offset="92.8%" stop-color="#d0ff60"/><stop offset="95%" stop-color="#d0ff60"/><stop offset="100%" stop-color="#e8ff60"/></linearGradient><clipPath id="cclip"><rect x="2152" y="471.2" width="620.6" height="1293.8"/></clipPath><filter id="cblur" x="-5%" y="-5%" width="110%" height="110%"><feGaussianBlur stdDeviation="0 9"/></filter><linearGradient id="hotbar"><stop offset="0%" stop-color="#000000"/><stop offset="5%" stop-color="#100000"/><stop offset="10%" stop-color="#200000"/><stop offset="15%" stop-color="#390000"/><stop offset="20%" stop-color="#520000"/><stop offset="25%" stop-color="#6d0d00"/><stop offset="30%" stop-color="#891b00"/><stop offset="35%" stop-color="#a42800"/><stop offset="40%" stop-color="#b93b01"/><stop offset="45%" stop-color="#cd4f03"/><stop offset="50%" stop-color="#e26204"/><stop offset="55%" stop-color="#ee780c"/><stop offset="60%" stop-color="#fa8d13"/><stop offset="65%" stop-color="#ff9d22"/><stop offset="70%" stop-color="#ffaa37"/><stop offset="75%" stop-color="#ffb64b"/><stop offset="80%" stop-color="#ffc260"/><stop offset="85%" stop-color="#ffcf7e"/><stop offset="90%" stop-color="#ffdd9c"/><stop offset="95%" stop-color="#ffe9bb"/><stop offset="100%" stop-color="#fff4dc"/></linearGradient><linearGradient id="hsvbar"><stop offset="0%" stop-color="#ff1100"/><stop offset="14%" stop-color="#ff8000"/><stop offset="28%" stop-color="#ffff00"/><stop offset="36%" stop-color="#80ff00"/><stop offset="45%" stop-color="#00ff00"/><stop offset="52%" stop-color="#00ff80"/><stop offset="58%" stop-color="#00ffff"/><stop offset="66%" stop-color="#0080ff"/><stop offset="74%" stop-color="#0000ff"/><stop offset="82%" stop-color="#6a00ff"/><stop offset="88%" stop-color="#bf00ff"/><stop offset="94%" stop-color="#ff00aa"/><stop offset="100%" stop-color="#ff0040"/></linearGradient><radialGradient id="inten" gradientUnits="userSpaceOnUse" cx="2300.5" cy="287.5" r="235"><stop offset="0%" stop-color="#000000"/><stop offset="0.9%" stop-color="#000000"/><stop offset="2.6%" stop-color="#390000"/><stop offset="4.7%" stop-color="#c14302"/><stop offset="7.7%" stop-color="#f58510"/><stop offset="11.1%" stop-color="#ff9b1e"/><stop offset="15.3%" stop-color="#ff9b1e"/><stop offset="18.7%" stop-color="#f07c0d"/><stop offset="21.3%" stop-color="#c14302"/><stop offset="23%" stop-color="#6d0d00"/><stop offset="24.5%" stop-color="#130000"/><stop offset="25.5%" stop-color="#000000"/><stop offset="26.6%" stop-color="#130000"/><stop offset="28.1%" stop-color="#6d0d00"/><stop offset="30.2%" stop-color="#c14302"/><stop offset="33.2%" stop-color="#ee780c"/><stop offset="37.4%" stop-color="#ffa026"/><stop offset="41.7%" stop-color="#ffb347"/><stop offset="46%" stop-color="#ffc05c"/><stop offset="49.4%" stop-color="#ffc260"/><stop offset="52.8%" stop-color="#ffbb54"/><stop offset="57%" stop-color="#ffaa37"/><stop offset="61.3%" stop-color="#fa8d13"/><stop offset="65.5%" stop-color="#d65603"/><stop offset="70.6%" stop-color="#992300"/><stop offset="76.6%" stop-color="#520000"/><stop offset="83.8%" stop-color="#200000"/><stop offset="91.5%" stop-color="#0a0000"/><stop offset="100%" stop-color="#000000"/></radialGradient><radialGradient id="whl"><stop offset="0" stop-color="#fff" stop-opacity="1"/><stop offset="1" stop-color="#fff" stop-opacity="0"/></radialGradient><filter id="crb" filterUnits="userSpaceOnUse" x="2100" y="80" width="420" height="420"><feGaussianBlur stdDeviation="13"/></filter><clipPath id="aclip"><rect x="2147" y="128" width="312" height="322"/></clipPath><filter id="shb" x="-30%" y="-30%" width="160%" height="160%"><feGaussianBlur stdDeviation="44"/></filter><filter id="rb" x="-10%" y="-10%" width="120%" height="120%"><feGaussianBlur stdDeviation="1.6"/></filter><linearGradient id="gband" x1="0" y1="0" x2="0" y2="1"><stop offset="0" stop-color="#9a9a9a"/><stop offset=".5" stop-color="#6c6c6c"/><stop offset="1" stop-color="#8a8a8a"/></linearGradient><linearGradient id="rg0" x1="0" y1="0" x2="0" y2="1"><stop offset="0" stop-color="#22cc00"/><stop offset="0.3" stop-color="#bfe600"/><stop offset="0.6" stop-color="#d94800"/><stop offset="0.8" stop-color="#cc0066"/><stop offset="1" stop-color="#b200a4"/></linearGradient><linearGradient id="rg1" x1="0" y1="0" x2="0" y2="1"><stop offset="0" stop-color="#22cc00"/><stop offset="0.3" stop-color="#bfe600"/><stop offset="0.6" stop-color="#d94800"/><stop offset="0.8" stop-color="#cc0066"/><stop offset="1" stop-color="#b200a4"/></linearGradient><linearGradient id="rg2" x1="0" y1="0" x2="0" y2="1"><stop offset="0" stop-color="#22cc00"/><stop offset="0.3" stop-color="#bfe600"/><stop offset="0.6" stop-color="#d94800"/><stop offset="0.8" stop-color="#cc0066"/><stop offset="1" stop-color="#b200a4"/></linearGradient><linearGradient id="rg3" x1="0" y1="0" x2="0" y2="1"><stop offset="0" stop-color="#22cc00"/><stop offset="0.3" stop-color="#bfe600"/><stop offset="0.6" stop-color="#d94800"/><stop offset="0.8" stop-color="#cc0066"/><stop offset="1" stop-color="#b200a4"/></linearGradient><linearGradient id="rg4" x1="0" y1="0" x2="0" y2="1"><stop offset="0" stop-color="#22cc00"/><stop offset="0.3" stop-color="#bfe600"/><stop offset="0.6" stop-color="#d94800"/><stop offset="0.8" stop-color="#cc0066"/><stop offset="1" stop-color="#b200a4"/></linearGradient><linearGradient id="rg5" x1="0" y1="0" x2="0" y2="1"><stop offset="0" stop-color="#22cc00"/><stop offset="0.3" stop-color="#bfe600"/><stop offset="0.6" stop-color="#d94800"/><stop offset="0.8" stop-color="#cc0066"/><stop offset="1" stop-color="#b200a4"/></linearGradient><linearGradient id="rg6" x1="0" y1="0" x2="0" y2="1"><stop offset="0" stop-color="#3c9900"/><stop offset="0.1" stop-color="#4dc700"/><stop offset="0.5" stop-color="#3ec900"/><stop offset="1" stop-color="#2bbf00"/></linearGradient><linearGradient id="rg7" x1="0" y1="0" x2="0" y2="1"><stop offset="0" stop-color="#f2c100"/><stop offset="0.5" stop-color="#cc0007"/><stop offset="0.9" stop-color="#d900bc"/><stop offset="1" stop-color="#990085"/></linearGradient><linearGradient id="rg8" x1="0" y1="0" x2="0" y2="1"><stop offset="0" stop-color="#459900"/><stop offset="0.1" stop-color="#5ac700"/><stop offset="0.5" stop-color="#00c903"/><stop offset="1" stop-color="#00bf5c"/></linearGradient><linearGradient id="rg9" x1="0" y1="0" x2="0" y2="1"><stop offset="0" stop-color="#b2f200"/><stop offset="0.5" stop-color="#cc2900"/><stop offset="0.9" stop-color="#d900bb"/><stop offset="1" stop-color="#990084"/></linearGradient><linearGradient id="rg10" x1="0" y1="0" x2="0" y2="1"><stop offset="0" stop-color="#539900"/><stop offset="0.1" stop-color="#6cc700"/><stop offset="0.5" stop-color="#00c940"/><stop offset="1" stop-color="#009cbf"/></linearGradient><linearGradient id="rg11" x1="0" y1="0" x2="0" y2="1"><stop offset="0" stop-color="#40f200"/><stop offset="0.5" stop-color="#cc5a00"/><stop offset="0.9" stop-color="#d900b9"/><stop offset="1" stop-color="#990083"/></linearGradient><linearGradient id="rg12" x1="0" y1="0" x2="0" y2="1"><stop offset="0" stop-color="#619900"/><stop offset="0.1" stop-color="#7ec700"/><stop offset="0.5" stop-color="#00c94a"/><stop offset="1" stop-color="#0078bf"/></linearGradient><linearGradient id="rg13" x1="0" y1="0" x2="0" y2="1"><stop offset="0" stop-color="#19f200"/><stop offset="0.5" stop-color="#cc6b00"/><stop offset="0.9" stop-color="#d900b7"/><stop offset="1" stop-color="#990081"/></linearGradient><linearGradient id="rg14" x1="0" y1="0" x2="0" y2="1"><stop offset="0" stop-color="#6f9900"/><stop offset="0.1" stop-color="#90c700"/><stop offset="0.5" stop-color="#00c946"/><stop offset="1" stop-color="#006ebf"/></linearGradient><linearGradient id="rg15" x1="0" y1="0" x2="0" y2="1"><stop offset="0" stop-color="#05f200"/><stop offset="0.5" stop-color="#cc7500"/><stop offset="0.9" stop-color="#d900b6"/><stop offset="1" stop-color="#990080"/></linearGradient><linearGradient id="rg16" x1="0" y1="0" x2="0" y2="1"><stop offset="0" stop-color="#7d9900"/><stop offset="0.1" stop-color="#a2c700"/><stop offset="0.5" stop-color="#00c942"/><stop offset="1" stop-color="#0064bf"/></linearGradient><linearGradient id="rg17" x1="0" y1="0" x2="0" y2="1"><stop offset="0" stop-color="#00f20f"/><stop offset="0.5" stop-color="#cc7f00"/><stop offset="0.9" stop-color="#d900b1"/><stop offset="1" stop-color="#99007d"/></linearGradient><linearGradient id="rg18" x1="0" y1="0" x2="0" y2="1"><stop offset="0" stop-color="#8b9900"/><stop offset="0.1" stop-color="#b4c700"/><stop offset="0.5" stop-color="#00c938"/><stop offset="1" stop-color="#0066bf"/></linearGradient><linearGradient id="rg19" x1="0" y1="0" x2="0" y2="1"><stop offset="0" stop-color="#00f218"/><stop offset="0.5" stop-color="#cc8700"/><stop offset="0.9" stop-color="#d900a8"/><stop offset="1" stop-color="#990077"/></linearGradient><linearGradient id="rg20" x1="0" y1="0" x2="0" y2="1"><stop offset="0" stop-color="#979900"/><stop offset="0.1" stop-color="#c4c700"/><stop offset="0.5" stop-color="#00c92a"/><stop offset="1" stop-color="#0072bf"/></linearGradient><linearGradient id="rg21" x1="0" y1="0" x2="0" y2="1"><stop offset="0" stop-color="#00f216"/><stop offset="0.5" stop-color="#cc8a00"/><stop offset="0.9" stop-color="#d900a0"/><stop offset="1" stop-color="#990071"/></linearGradient><linearGradient id="rg22" x1="0" y1="0" x2="0" y2="1"><stop offset="0" stop-color="#999300"/><stop offset="0.1" stop-color="#c7bf00"/><stop offset="0.5" stop-color="#00c91e"/><stop offset="1" stop-color="#007fbf"/></linearGradient><linearGradient id="rg23" x1="0" y1="0" x2="0" y2="1"><stop offset="0" stop-color="#00f215"/><stop offset="0.5" stop-color="#cc8e00"/><stop offset="0.9" stop-color="#d90097"/><stop offset="1" stop-color="#99006a"/></linearGradient><linearGradient id="rg24" x1="0" y1="0" x2="0" y2="1"><stop offset="0" stop-color="#998a00"/><stop offset="0.1" stop-color="#c7b400"/><stop offset="0.5" stop-color="#00c912"/><stop offset="1" stop-color="#008bbf"/></linearGradient><linearGradient id="rg25" x1="0" y1="0" x2="0" y2="1"><stop offset="0" stop-color="#00f217"/><stop offset="0.5" stop-color="#cc9300"/><stop offset="0.9" stop-color="#d9008e"/><stop offset="1" stop-color="#990064"/></linearGradient><linearGradient id="rg26" x1="0" y1="0" x2="0" y2="1"><stop offset="0" stop-color="#998200"/><stop offset="0.1" stop-color="#c7a900"/><stop offset="0.5" stop-color="#00c906"/><stop offset="1" stop-color="#0097bf"/></linearGradient><linearGradient id="rg27" x1="0" y1="0" x2="0" y2="1"><stop offset="0" stop-color="#00f21e"/><stop offset="0.5" stop-color="#cc9a00"/><stop offset="0.9" stop-color="#d90085"/><stop offset="1" stop-color="#99005e"/></linearGradient><linearGradient id="rg28" x1="0" y1="0" x2="0" y2="1"><stop offset="0" stop-color="#997a00"/><stop offset="0.1" stop-color="#c79e00"/><stop offset="0.5" stop-color="#05c900"/><stop offset="1" stop-color="#00a2bf"/></linearGradient><linearGradient id="rg29" x1="0" y1="0" x2="0" y2="1"><stop offset="0" stop-color="#00f225"/><stop offset="0.5" stop-color="#cca100"/><stop offset="0.9" stop-color="#d9007c"/><stop offset="1" stop-color="#990057"/></linearGradient><linearGradient id="rg30" x1="0" y1="0" x2="0" y2="1"><stop offset="0" stop-color="#997100"/><stop offset="0.1" stop-color="#c79300"/><stop offset="0.5" stop-color="#10c900"/><stop offset="1" stop-color="#00adbf"/></linearGradient><linearGradient id="rg31" x1="0" y1="0" x2="0" y2="1"><stop offset="0" stop-color="#00f22d"/><stop offset="0.5" stop-color="#cca900"/><stop offset="0.9" stop-color="#d90073"/><stop offset="1" stop-color="#990051"/></linearGradient><linearGradient id="rg32" x1="0" y1="0" x2="0" y2="1"><stop offset="0" stop-color="#996a00"/><stop offset="0.1" stop-color="#c78900"/><stop offset="0.5" stop-color="#1bc900"/><stop offset="1" stop-color="#00b7bf"/></linearGradient><linearGradient id="rg33" x1="0" y1="0" x2="0" y2="1"><stop offset="0" stop-color="#00f234"/><stop offset="0.5" stop-color="#ccb000"/><stop offset="0.9" stop-color="#d9006a"/><stop offset="1" stop-color="#99004b"/></linearGradient><linearGradient id="rg34" x1="0" y1="0" x2="0" y2="1"><stop offset="0" stop-color="#996400"/><stop offset="0.1" stop-color="#c78200"/><stop offset="0.5" stop-color="#24c900"/><stop offset="1" stop-color="#00bfbd"/></linearGradient><linearGradient id="rg35" x1="0" y1="0" x2="0" y2="1"><stop offset="0" stop-color="#00f23c"/><stop offset="0.5" stop-color="#ccb800"/><stop offset="0.9" stop-color="#d90061"/><stop offset="1" stop-color="#990045"/></linearGradient><linearGradient id="rg36" x1="0" y1="0" x2="0" y2="1"><stop offset="0" stop-color="#995f00"/><stop offset="0.1" stop-color="#c77c00"/><stop offset="0.5" stop-color="#2dc900"/><stop offset="1" stop-color="#00bfb2"/></linearGradient><linearGradient id="rg37" x1="0" y1="0" x2="0" y2="1"><stop offset="0" stop-color="#00f243"/><stop offset="0.5" stop-color="#ccbf00"/><stop offset="0.9" stop-color="#d90058"/><stop offset="1" stop-color="#99003e"/></linearGradient><linearGradient id="rg38" x1="0" y1="0" x2="0" y2="1"><stop offset="0" stop-color="#995a00"/><stop offset="0.1" stop-color="#c77500"/><stop offset="0.5" stop-color="#36c900"/><stop offset="1" stop-color="#00bfa8"/></linearGradient><linearGradient id="rg39" x1="0" y1="0" x2="0" y2="1"><stop offset="0" stop-color="#00f24b"/><stop offset="0.5" stop-color="#ccc600"/><stop offset="0.9" stop-color="#d9004f"/><stop offset="1" stop-color="#990038"/></linearGradient><linearGradient id="rg40" x1="0" y1="0" x2="0" y2="1"><stop offset="0" stop-color="#995400"/><stop offset="0.1" stop-color="#c76e00"/><stop offset="0.5" stop-color="#3fc900"/><stop offset="1" stop-color="#00bf9d"/></linearGradient><linearGradient id="rg41" x1="0" y1="0" x2="0" y2="1"><stop offset="0" stop-color="#00f254"/><stop offset="0.5" stop-color="#cacc00"/><stop offset="0.9" stop-color="#d90046"/><stop offset="1" stop-color="#990032"/></linearGradient><linearGradient id="rg42" x1="0" y1="0" x2="0" y2="1"><stop offset="0" stop-color="#994f00"/><stop offset="0.1" stop-color="#c76700"/><stop offset="0.5" stop-color="#49c900"/><stop offset="1" stop-color="#00bf91"/></linearGradient><linearGradient id="rg43" x1="0" y1="0" x2="0" y2="1"><stop offset="0" stop-color="#00f263"/><stop offset="0.5" stop-color="#bfcc00"/><stop offset="0.9" stop-color="#d9003d"/><stop offset="1" stop-color="#99002b"/></linearGradient><linearGradient id="rg44" x1="0" y1="0" x2="0" y2="1"><stop offset="0" stop-color="#994a00"/><stop offset="0.1" stop-color="#c76000"/><stop offset="0.5" stop-color="#53c900"/><stop offset="1" stop-color="#00bf85"/></linearGradient><linearGradient id="rg45" x1="0" y1="0" x2="0" y2="1"><stop offset="0" stop-color="#00f272"/><stop offset="0.5" stop-color="#b5cc00"/><stop offset="0.9" stop-color="#d90035"/><stop offset="1" stop-color="#990025"/></linearGradient><linearGradient id="rg46" x1="0" y1="0" x2="0" y2="1"><stop offset="0" stop-color="#994400"/><stop offset="0.1" stop-color="#c75900"/><stop offset="0.5" stop-color="#5cc900"/><stop offset="1" stop-color="#00bf79"/></linearGradient><linearGradient id="rg47" x1="0" y1="0" x2="0" y2="1"><stop offset="0" stop-color="#00f281"/><stop offset="0.5" stop-color="#aacc00"/><stop offset="0.9" stop-color="#d9002c"/><stop offset="1" stop-color="#99001f"/></linearGradient><linearGradient id="rg48" x1="0" y1="0" x2="0" y2="1"><stop offset="0" stop-color="#993f00"/><stop offset="0.1" stop-color="#c75200"/><stop offset="0.5" stop-color="#66c900"/><stop offset="1" stop-color="#00bf6e"/></linearGradient><linearGradient id="rg49" x1="0" y1="0" x2="0" y2="1"><stop offset="0" stop-color="#00f290"/><stop offset="0.5" stop-color="#a0cc00"/><stop offset="0.9" stop-color="#d90023"/><stop offset="1" stop-color="#990019"/></linearGradient><linearGradient id="rg50" x1="0" y1="0" x2="0" y2="1"><stop offset="0" stop-color="#993800"/><stop offset="0.1" stop-color="#c74900"/><stop offset="0.5" stop-color="#70c900"/><stop offset="1" stop-color="#00bf62"/></linearGradient><linearGradient id="rg51" x1="0" y1="0" x2="0" y2="1"><stop offset="0" stop-color="#00f29f"/><stop offset="0.5" stop-color="#95cc00"/><stop offset="0.9" stop-color="#d9001a"/><stop offset="1" stop-color="#990012"/></linearGradient><linearGradient id="rg52" x1="0" y1="0" x2="0" y2="1"><stop offset="0" stop-color="#993200"/><stop offset="0.1" stop-color="#c74100"/><stop offset="0.5" stop-color="#7bc900"/><stop offset="1" stop-color="#00bf56"/></linearGradient><linearGradient id="rg53" x1="0" y1="0" x2="0" y2="1"><stop offset="0" stop-color="#00f2ae"/><stop offset="0.5" stop-color="#8bcc00"/><stop offset="0.9" stop-color="#d90011"/><stop offset="1" stop-color="#99000c"/></linearGradient><linearGradient id="rg54" x1="0" y1="0" x2="0" y2="1"><stop offset="0" stop-color="#992c00"/><stop offset="0.1" stop-color="#c73900"/><stop offset="0.5" stop-color="#85c900"/><stop offset="1" stop-color="#00bf4a"/></linearGradient><linearGradient id="rg55" x1="0" y1="0" x2="0" y2="1"><stop offset="0" stop-color="#00f2bd"/><stop offset="0.5" stop-color="#80cc00"/><stop offset="0.9" stop-color="#d90008"/><stop offset="1" stop-color="#990006"/></linearGradient><linearGradient id="rg56" x1="0" y1="0" x2="0" y2="1"><stop offset="0" stop-color="#992600"/><stop offset="0.1" stop-color="#c73100"/><stop offset="0.5" stop-color="#8fc900"/><stop offset="1" stop-color="#00bf3f"/></linearGradient><linearGradient id="rg57" x1="0" y1="0" x2="0" y2="1"><stop offset="0" stop-color="#00f2cb"/><stop offset="0.5" stop-color="#76cc00"/><stop offset="0.9" stop-color="#d90100"/><stop offset="1" stop-color="#990100"/></linearGradient><linearGradient id="rg58" x1="0" y1="0" x2="0" y2="1"><stop offset="0" stop-color="#991f00"/><stop offset="0.1" stop-color="#c72900"/><stop offset="0.5" stop-color="#96c900"/><stop offset="1" stop-color="#00bf39"/></linearGradient><linearGradient id="rg59" x1="0" y1="0" x2="0" y2="1"><stop offset="0" stop-color="#00f2d5"/><stop offset="0.5" stop-color="#6ecc00"/><stop offset="0.9" stop-color="#d90a00"/><stop offset="1" stop-color="#990700"/></linearGradient><linearGradient id="rg60" x1="0" y1="0" x2="0" y2="1"><stop offset="0" stop-color="#991900"/><stop offset="0.1" stop-color="#c72000"/><stop offset="0.5" stop-color="#9dc900"/><stop offset="1" stop-color="#00bf33"/></linearGradient><linearGradient id="rg61" x1="0" y1="0" x2="0" y2="1"><stop offset="0" stop-color="#00f2df"/><stop offset="0.5" stop-color="#65cc00"/><stop offset="0.9" stop-color="#d91300"/><stop offset="1" stop-color="#990d00"/></linearGradient><linearGradient id="rg62" x1="0" y1="0" x2="0" y2="1"><stop offset="0" stop-color="#991300"/><stop offset="0.1" stop-color="#c71800"/><stop offset="0.5" stop-color="#a5c900"/><stop offset="1" stop-color="#00bf2d"/></linearGradient><linearGradient id="rg63" x1="0" y1="0" x2="0" y2="1"><stop offset="0" stop-color="#00f2e9"/><stop offset="0.5" stop-color="#5dcc00"/><stop offset="0.9" stop-color="#d91c00"/><stop offset="1" stop-color="#991400"/></linearGradient><linearGradient id="rg64" x1="0" y1="0" x2="0" y2="1"><stop offset="0" stop-color="#990c00"/><stop offset="0.1" stop-color="#c71000"/><stop offset="0.5" stop-color="#abc800"/><stop offset="1" stop-color="#00bf27"/></linearGradient><linearGradient id="rg65" x1="0" y1="0" x2="0" y2="1"><stop offset="0" stop-color="#00f2f2"/><stop offset="0.5" stop-color="#55cc00"/><stop offset="0.9" stop-color="#d92500"/><stop offset="1" stop-color="#991a00"/></linearGradient><linearGradient id="rg66" x1="0" y1="0" x2="0" y2="1"><stop offset="0" stop-color="#990600"/><stop offset="0.1" stop-color="#c70800"/><stop offset="0.5" stop-color="#a8bc00"/><stop offset="1" stop-color="#00b31f"/></linearGradient><linearGradient id="rg67" x1="0" y1="0" x2="0" y2="1"><stop offset="0" stop-color="#00e8f2"/><stop offset="0.5" stop-color="#4ccc00"/><stop offset="0.9" stop-color="#d92e00"/><stop offset="1" stop-color="#992000"/></linearGradient><linearGradient id="rg68" x1="0" y1="0" x2="0" y2="1"><stop offset="0" stop-color="#990000"/><stop offset="0.1" stop-color="#c70000"/><stop offset="0.5" stop-color="#a3b000"/><stop offset="1" stop-color="#00a818"/></linearGradient><linearGradient id="rg69" x1="0" y1="0" x2="0" y2="1"><stop offset="0" stop-color="#00def2"/><stop offset="0.5" stop-color="#44cc00"/><stop offset="0.9" stop-color="#d93600"/><stop offset="1" stop-color="#992600"/></linearGradient><linearGradient id="rg70" x1="0" y1="0" x2="0" y2="1"><stop offset="0" stop-color="#990006"/><stop offset="0.1" stop-color="#c70008"/><stop offset="0.5" stop-color="#9ea400"/><stop offset="1" stop-color="#009c12"/></linearGradient><linearGradient id="rg71" x1="0" y1="0" x2="0" y2="1"><stop offset="0" stop-color="#00d4f2"/><stop offset="0.5" stop-color="#3bcc00"/><stop offset="0.9" stop-color="#d93f00"/><stop offset="1" stop-color="#992d00"/></linearGradient><linearGradient id="rg72" x1="0" y1="0" x2="0" y2="1"><stop offset="0" stop-color="#99000d"/><stop offset="0.1" stop-color="#c70011"/><stop offset="0.5" stop-color="#989800"/><stop offset="1" stop-color="#00900c"/></linearGradient><linearGradient id="rg73" x1="0" y1="0" x2="0" y2="1"><stop offset="0" stop-color="#00caf2"/><stop offset="0.5" stop-color="#33cc00"/><stop offset="0.9" stop-color="#d94800"/><stop offset="1" stop-color="#993300"/></linearGradient><linearGradient id="rg74" x1="0" y1="0" x2="0" y2="1"><stop offset="0" stop-color="#990013"/><stop offset="0.1" stop-color="#c70019"/><stop offset="0.5" stop-color="#8c8800"/><stop offset="1" stop-color="#008509"/></linearGradient><linearGradient id="rg75" x1="0" y1="0" x2="0" y2="1"><stop offset="0" stop-color="#00c2f2"/><stop offset="0.5" stop-color="#2ccc00"/><stop offset="0.9" stop-color="#d95100"/><stop offset="1" stop-color="#993900"/></linearGradient><linearGradient id="rg76" x1="0" y1="0" x2="0" y2="1"><stop offset="0" stop-color="#990019"/><stop offset="0.1" stop-color="#c70021"/><stop offset="0.5" stop-color="#7f7800"/><stop offset="1" stop-color="#007907"/></linearGradient><linearGradient id="rg77" x1="0" y1="0" x2="0" y2="1"><stop offset="0" stop-color="#00bbf2"/><stop offset="0.5" stop-color="#24cc00"/><stop offset="0.9" stop-color="#d95a00"/><stop offset="1" stop-color="#994000"/></linearGradient><linearGradient id="rg78" x1="0" y1="0" x2="0" y2="1"><stop offset="0" stop-color="#990022"/><stop offset="0.1" stop-color="#c7002c"/><stop offset="0.5" stop-color="#736900"/><stop offset="1" stop-color="#006e05"/></linearGradient><linearGradient id="rg79" x1="0" y1="0" x2="0" y2="1"><stop offset="0" stop-color="#00b3f2"/><stop offset="0.5" stop-color="#1dcc00"/><stop offset="0.9" stop-color="#d96300"/><stop offset="1" stop-color="#994600"/></linearGradient><linearGradient id="rg80" x1="0" y1="0" x2="0" y2="1"><stop offset="0" stop-color="#99002a"/><stop offset="0.1" stop-color="#c70037"/><stop offset="0.5" stop-color="#675a00"/><stop offset="1" stop-color="#006203"/></linearGradient><linearGradient id="rg81" x1="0" y1="0" x2="0" y2="1"><stop offset="0" stop-color="#00acf2"/><stop offset="0.5" stop-color="#16cc00"/><stop offset="0.9" stop-color="#d96c00"/><stop offset="1" stop-color="#994c00"/></linearGradient><linearGradient id="rg82" x1="0" y1="0" x2="0" y2="1"><stop offset="0" stop-color="#990033"/><stop offset="0.1" stop-color="#c70042"/><stop offset="0.5" stop-color="#5b4d00"/><stop offset="1" stop-color="#005701"/></linearGradient><linearGradient id="rg83" x1="0" y1="0" x2="0" y2="1"><stop offset="0" stop-color="#00a4f2"/><stop offset="0.5" stop-color="#0fcc00"/><stop offset="0.9" stop-color="#d97300"/><stop offset="1" stop-color="#995100"/></linearGradient><linearGradient id="rg84" x1="0" y1="0" x2="0" y2="1"><stop offset="0" stop-color="#99003b"/><stop offset="0.1" stop-color="#c7004d"/><stop offset="0.5" stop-color="#4f4000"/><stop offset="1" stop-color="#004b00"/></linearGradient><linearGradient id="rg85" x1="0" y1="0" x2="0" y2="1"><stop offset="0" stop-color="#009df2"/><stop offset="0.5" stop-color="#09cc00"/><stop offset="0.9" stop-color="#d97900"/><stop offset="1" stop-color="#995600"/></linearGradient><linearGradient id="rg86" x1="0" y1="0" x2="0" y2="1"><stop offset="0" stop-color="#990043"/><stop offset="0.1" stop-color="#c70058"/><stop offset="0.5" stop-color="#433400"/><stop offset="1" stop-color="#014000"/></linearGradient><linearGradient id="rg87" x1="0" y1="0" x2="0" y2="1"><stop offset="0" stop-color="#0095f2"/><stop offset="0.5" stop-color="#03cc00"/><stop offset="0.9" stop-color="#d98000"/><stop offset="1" stop-color="#995a00"/></linearGradient><linearGradient id="rg88" x1="0" y1="0" x2="0" y2="1"><stop offset="0" stop-color="#99004c"/><stop offset="0.1" stop-color="#c70062"/><stop offset="0.5" stop-color="#372800"/><stop offset="1" stop-color="#023400"/></linearGradient><linearGradient id="rg89" x1="0" y1="0" x2="0" y2="1"><stop offset="0" stop-color="#008ef2"/><stop offset="0.5" stop-color="#00cc04"/><stop offset="0.9" stop-color="#d98700"/><stop offset="1" stop-color="#995f00"/></linearGradient><linearGradient id="rg90" x1="0" y1="0" x2="0" y2="1"><stop offset="0" stop-color="#990055"/><stop offset="0.1" stop-color="#c7006f"/><stop offset="0.5" stop-color="#3d002c"/><stop offset="1" stop-color="#3a0033"/></linearGradient><linearGradient id="rg91" x1="0" y1="0" x2="0" y2="1"><stop offset="0" stop-color="#0084f2"/><stop offset="0.5" stop-color="#00cc0b"/><stop offset="0.9" stop-color="#d98e00"/><stop offset="1" stop-color="#996400"/></linearGradient><linearGradient id="rg92" x1="0" y1="0" x2="0" y2="1"><stop offset="0" stop-color="#99005e"/><stop offset="0.1" stop-color="#c7007b"/><stop offset="0.5" stop-color="#450035"/><stop offset="1" stop-color="#41003d"/></linearGradient><linearGradient id="rg93" x1="0" y1="0" x2="0" y2="1"><stop offset="0" stop-color="#007af2"/><stop offset="0.5" stop-color="#00cc12"/><stop offset="0.9" stop-color="#d99400"/><stop offset="1" stop-color="#996900"/></linearGradient><linearGradient id="rg94" x1="0" y1="0" x2="0" y2="1"><stop offset="0" stop-color="#990068"/><stop offset="0.1" stop-color="#c70087"/><stop offset="0.5" stop-color="#4d0040"/><stop offset="1" stop-color="#490047"/></linearGradient><linearGradient id="rg95" x1="0" y1="0" x2="0" y2="1"><stop offset="0" stop-color="#0070f2"/><stop offset="0.5" stop-color="#00cc1a"/><stop offset="0.9" stop-color="#d99b00"/><stop offset="1" stop-color="#996d00"/></linearGradient><linearGradient id="rg96" x1="0" y1="0" x2="0" y2="1"><stop offset="0" stop-color="#990071"/><stop offset="0.1" stop-color="#c70093"/><stop offset="0.5" stop-color="#55004b"/><stop offset="1" stop-color="#4e0051"/></linearGradient><linearGradient id="rg97" x1="0" y1="0" x2="0" y2="1"><stop offset="0" stop-color="#0066f2"/><stop offset="0.5" stop-color="#00cc21"/><stop offset="0.9" stop-color="#d9a200"/><stop offset="1" stop-color="#997200"/></linearGradient><linearGradient id="rg98" x1="0" y1="0" x2="0" y2="1"><stop offset="0" stop-color="#99007b"/><stop offset="0.1" stop-color="#c700a0"/><stop offset="0.5" stop-color="#5c0057"/><stop offset="1" stop-color="#510058"/></linearGradient><linearGradient id="rg99" x1="0" y1="0" x2="0" y2="1"><stop offset="0" stop-color="#005cf2"/><stop offset="0.5" stop-color="#00cc29"/><stop offset="0.9" stop-color="#d9aa00"/><stop offset="1" stop-color="#997800"/></linearGradient><linearGradient id="rg100" x1="0" y1="0" x2="0" y2="1"><stop offset="0" stop-color="#990084"/><stop offset="0.1" stop-color="#c700ac"/><stop offset="0.5" stop-color="#640064"/><stop offset="1" stop-color="#530060"/></linearGradient><linearGradient id="rg101" x1="0" y1="0" x2="0" y2="1"><stop offset="0" stop-color="#0052f2"/><stop offset="0.5" stop-color="#00cc32"/><stop offset="0.9" stop-color="#d9b300"/><stop offset="1" stop-color="#997e00"/></linearGradient><linearGradient id="rg102" x1="0" y1="0" x2="0" y2="1"><stop offset="0" stop-color="#99008e"/><stop offset="0.1" stop-color="#c700b8"/><stop offset="0.5" stop-color="#66006c"/><stop offset="1" stop-color="#540067"/></linearGradient><linearGradient id="rg103" x1="0" y1="0" x2="0" y2="1"><stop offset="0" stop-color="#0048f2"/><stop offset="0.5" stop-color="#00cc3a"/><stop offset="0.9" stop-color="#d9bc00"/><stop offset="1" stop-color="#998500"/></linearGradient><linearGradient id="rg104" x1="0" y1="0" x2="0" y2="1"><stop offset="0" stop-color="#990097"/><stop offset="0.1" stop-color="#c700c4"/><stop offset="0.5" stop-color="#670074"/><stop offset="1" stop-color="#55006f"/></linearGradient><linearGradient id="rg105" x1="0" y1="0" x2="0" y2="1"><stop offset="0" stop-color="#003ff2"/><stop offset="0.5" stop-color="#00cc42"/><stop offset="0.9" stop-color="#d9c500"/><stop offset="1" stop-color="#998b00"/></linearGradient><linearGradient id="rg106" x1="0" y1="0" x2="0" y2="1"><stop offset="0" stop-color="#900099"/><stop offset="0.1" stop-color="#bc00c7"/><stop offset="0.5" stop-color="#67007c"/><stop offset="1" stop-color="#550076"/></linearGradient><linearGradient id="rg107" x1="0" y1="0" x2="0" y2="1"><stop offset="0" stop-color="#0039f2"/><stop offset="0.5" stop-color="#00cc49"/><stop offset="0.9" stop-color="#d9ce00"/><stop offset="1" stop-color="#999100"/></linearGradient><linearGradient id="rg108" x1="0" y1="0" x2="0" y2="1"><stop offset="0" stop-color="#860099"/><stop offset="0.1" stop-color="#ae00c7"/><stop offset="0.5" stop-color="#660084"/><stop offset="1" stop-color="#54007e"/></linearGradient><linearGradient id="rg109" x1="0" y1="0" x2="0" y2="1"><stop offset="0" stop-color="#0034f2"/><stop offset="0.5" stop-color="#00cc4f"/><stop offset="0.9" stop-color="#d9d700"/><stop offset="1" stop-color="#999800"/></linearGradient><linearGradient id="rg110" x1="0" y1="0" x2="0" y2="1"><stop offset="0" stop-color="#7b0099"/><stop offset="0.1" stop-color="#a000c7"/><stop offset="0.5" stop-color="#5f0086"/><stop offset="1" stop-color="#4e0080"/></linearGradient><linearGradient id="rg111" x1="0" y1="0" x2="0" y2="1"><stop offset="0" stop-color="#002ff2"/><stop offset="0.5" stop-color="#00cc56"/><stop offset="0.9" stop-color="#d0d900"/><stop offset="1" stop-color="#939900"/></linearGradient><linearGradient id="rg112" x1="0" y1="0" x2="0" y2="1"><stop offset="0" stop-color="#700099"/><stop offset="0.1" stop-color="#9200c7"/><stop offset="0.5" stop-color="#570086"/><stop offset="1" stop-color="#480080"/></linearGradient><linearGradient id="rg113" x1="0" y1="0" x2="0" y2="1"><stop offset="0" stop-color="#002af2"/><stop offset="0.5" stop-color="#00cc5e"/><stop offset="0.9" stop-color="#c4d900"/><stop offset="1" stop-color="#8b9900"/></linearGradient><linearGradient id="rg114" x1="0" y1="0" x2="0" y2="1"><stop offset="0" stop-color="#650099"/><stop offset="0.1" stop-color="#8400c7"/><stop offset="0.5" stop-color="#4f0086"/><stop offset="1" stop-color="#410080"/></linearGradient><linearGradient id="rg115" x1="0" y1="0" x2="0" y2="1"><stop offset="0" stop-color="#0025f2"/><stop offset="0.5" stop-color="#00cc65"/><stop offset="0.9" stop-color="#b9d900"/><stop offset="1" stop-color="#829900"/></linearGradient><linearGradient id="rg116" x1="0" y1="0" x2="0" y2="1"><stop offset="0" stop-color="#5b0099"/><stop offset="0.1" stop-color="#7600c7"/><stop offset="0.5" stop-color="#460086"/><stop offset="1" stop-color="#3b0080"/></linearGradient><linearGradient id="rg117" x1="0" y1="0" x2="0" y2="1"><stop offset="0" stop-color="#0020f2"/><stop offset="0.5" stop-color="#00cc6d"/><stop offset="0.9" stop-color="#add900"/><stop offset="1" stop-color="#7a9900"/></linearGradient><linearGradient id="rg118" x1="0" y1="0" x2="0" y2="1"><stop offset="0" stop-color="#5900b2"/><stop offset="0.3" stop-color="#0000d9"/><stop offset="0.6" stop-color="#00bfe6"/><stop offset="0.8" stop-color="#00e626"/><stop offset="1" stop-color="#88cc00"/></linearGradient><linearGradient id="rg119" x1="0" y1="0" x2="0" y2="1"><stop offset="0" stop-color="#5900b2"/><stop offset="0.3" stop-color="#0000d9"/><stop offset="0.6" stop-color="#00bfe6"/><stop offset="0.8" stop-color="#00e626"/><stop offset="1" stop-color="#88cc00"/></linearGradient><mask id="shc0" maskUnits="userSpaceOnUse" x="2700" y="-80" width="1200" height="1100"><path d="M2890 -60L2940 170L2990 622L3316 866L3300 1000L3900 1000L3900 -60Z" fill="#fff" filter="url(#b14)"/></mask><mask id="shc944" maskUnits="userSpaceOnUse" x="2700" y="864" width="1200" height="1100"><path d="M2894 884L2944 1114L2994 1566L3320 1810L3304 1944L3904 1944L3904 884Z" fill="#fff" filter="url(#b14)"/></mask></defs><path d="M528.4 53L528.3 518.6M142 715L528.3 518.6L915.6 715" fill="none" stroke="#262626" stroke-width="2.6"/><path d="M293 547.1C280 549.7 302.8 586.2 308.6 601.8C314.5 617.4 319.7 628.5 328.2 640.9C336.6 653.3 347.7 666.3 359.5 676.1C371.2 685.9 386.8 694.3 398.5 699.5C410.3 704.7 419.4 707.4 429.8 707.4C440.2 707.4 452 702.8 461.1 699.5C470.2 696.3 478 687.8 484.5 687.8C491.1 687.8 489.8 693.7 500.2 699.5C510.6 705.4 534.7 717.8 547.1 723C559.5 728.2 565.3 732.1 574.4 730.8C583.6 729.5 590.7 719.1 601.8 715.2C612.9 711.3 627.9 713.2 640.9 707.4C653.9 701.5 667 692.4 680 680C693 667.6 708.7 649.4 719.1 633.1C729.5 616.8 736.7 599.2 742.5 582.3C748.4 565.3 749.7 547.7 754.3 531.4C758.8 515.2 768.6 500.2 769.9 484.5C771.2 468.9 770.5 453.9 762.1 437.6C753.6 421.3 739.3 397.9 719.1 386.8C698.9 375.7 667 372.5 640.9 371.2C614.8 369.9 586.2 370.5 562.7 379C539.3 387.5 513.2 407 500.2 422C487.1 437 487.1 440.2 484.5 468.9C481.9 497.6 500.8 574.4 484.5 594C468.3 613.5 418.7 594 386.8 586.2C354.9 578.4 306 544.5 293 547.1Z" fill="#b4ccc0" fill-opacity=".62" filter="url(#b2)"/><path d="M293 547.1C289.7 551.6 302.8 586.2 308.6 601.8C314.5 617.4 319.7 628.5 328.2 640.9C336.6 653.3 347.7 666.3 359.5 676.1C371.2 685.9 386.8 694.3 398.5 699.5C410.3 704.7 419.4 707.4 429.8 707.4C440.2 707.4 452.6 704.1 461.1 699.5C469.6 695 476.7 689.8 480.6 680C484.5 670.2 482.6 653.9 484.5 640.9C486.5 627.9 492.4 609.6 492.4 601.8C492.4 594 502.1 596.6 484.5 594C466.9 591.4 412.9 589.4 386.8 586.2C360.8 582.9 343.8 581 328.2 574.4C312.5 567.9 296.3 542.5 293 547.1Z" fill="#cfe4ec" fill-opacity="0.65" filter="url(#b1)"/><path d="M300 552.7C297 556.8 310.9 590.2 317.1 604.8C323.3 619.3 329 629.3 337.1 640.1C345.3 651 355.6 661.5 365.9 669.9C376.3 678.3 389 685.7 399.1 690.6C409.2 695.4 417.4 698.5 426.7 698.9C436 699.3 447.4 696.7 455.1 692.8C462.8 688.9 469.4 684.2 472.9 675.5C476.3 666.7 473.7 652 475.6 640.2C477.4 628.4 483.8 611.9 483.9 604.9C484.1 597.9 492.2 599.7 476.5 598C460.8 596.3 413.2 597.7 389.6 594.7C366.1 591.7 350.1 587.1 335.2 580.1C320.3 573.1 303 548.6 300 552.7Z" fill="#9ab7a1" fill-opacity="0.72" filter="url(#b2)"/><path d="M313.3 563.3C310.8 566.6 326.4 597.8 333.2 610.4C340 622.9 346.6 630.8 354.1 638.7C361.6 646.7 370.5 652.3 378.2 658.1C385.9 663.9 393.1 669.4 400.2 673.6C407.3 677.7 413.5 681.9 420.8 683C428 684.1 437.5 682.9 443.7 680.2C449.9 677.5 455.7 673.8 458.2 666.9C460.7 660 457 648.3 458.6 638.9C460.2 629.5 467.5 616.3 467.9 610.7C468.4 605.2 473.4 605.5 461.3 605.6C449.1 605.6 413.8 613.3 394.9 610.9C376.1 608.4 362 598.7 348.4 590.8C334.8 582.8 315.9 560 313.3 563.3Z" fill="#86a78e" fill-opacity="0.27" filter="url(#b4)"/><path d="M484.5 422C489.8 404.4 513.2 416.1 523.6 418.1C534.1 420 540.6 425.3 547.1 433.7C553.6 442.2 556.9 453.9 562.7 468.9C568.6 483.9 582.3 508 582.3 523.6C582.3 539.3 572.5 552.9 562.7 562.7C552.9 572.5 535.4 588.8 523.6 582.3C511.9 575.8 498.9 550.3 492.4 523.6C485.8 496.9 479.3 439.6 484.5 422Z" fill="#cfe4ec" fill-opacity="0.45" filter="url(#b1)"/><path d="M489.8 429.3C494 414.1 515.7 424.8 525 427C534.2 429.2 540.1 434.6 545.2 442.5C550.4 450.5 550.9 461.9 555.8 474.6C560.7 487.3 574.2 505.3 574.8 518.6C575.4 531.9 567.8 545.2 559.4 554.3C551.1 563.5 534.7 579.4 524.7 573.3C514.8 567.3 505.4 542.2 499.6 518.2C493.7 494.2 485.6 444.5 489.8 429.3Z" fill="#9ab7a1" fill-opacity="0.52" filter="url(#b2)"/><path d="M499.7 443.1C502.1 432.4 520.5 441.1 527.5 443.8C534.5 446.5 539.1 452.3 541.7 459.2C544.4 466 540.1 476.6 543.2 485C546.4 493.3 559 500.2 560.7 509.2C562.3 518.1 558.8 530.6 553.2 538.5C547.6 546.4 533.5 561.5 526.8 556.5C520.2 551.4 517.7 527 513.2 508.1C508.7 489.2 497.3 453.8 499.7 443.1Z" fill="#86a78e" fill-opacity="0.18000000000000002" filter="url(#b4)"/><path d="M480.6 601.8C472.8 614.2 473.5 644.2 476.7 660.4C480 676.7 488.4 689.1 500.2 699.5C511.9 710 534.7 717.8 547.1 723C559.5 728.2 565.3 732.1 574.4 730.8C583.6 729.5 590.7 719.1 601.8 715.2C612.9 711.3 627.9 713.2 640.9 707.4C653.9 701.5 667 692.4 680 680C693 667.6 708.7 649.4 719.1 633.1C729.5 616.8 736.7 599.2 742.5 582.3C748.4 565.3 749.7 547.7 754.3 531.4C758.8 515.2 768.6 498.9 769.9 484.5C771.2 470.2 767.3 449.4 762.1 445.5C756.9 441.5 749 455.9 738.6 461.1C728.2 466.3 712.6 475.4 699.5 476.7C686.5 478 670.2 467.6 660.4 468.9C650.7 470.2 650.7 479.3 640.9 484.5C631.1 489.8 614.8 493.7 601.8 500.2C588.8 506.7 574.4 513.2 562.7 523.6C551 534.1 538 552.3 531.4 562.7C524.9 573.1 532.1 579.7 523.6 586.2C515.2 592.7 488.4 589.4 480.6 601.8Z" fill="#cfe4ec" fill-opacity="0.65" filter="url(#b1)"/><path d="M489.6 600.7C481.6 612.5 481.9 640.9 484.8 656.4C487.6 671.9 495.7 683.7 506.9 693.5C518 703.3 539.9 710.4 551.6 715.2C563.4 720 568.9 723.8 577.6 722.4C586.2 720.9 593.2 710.4 603.6 706.4C614 702.4 628 704.1 640 698.4C652.1 692.7 663.9 683.6 675.8 672C687.6 660.4 701.6 643.7 711.2 628.8C720.8 613.8 727.7 598 733.5 582.4C739.3 566.7 741.1 550.4 746 534.9C750.8 519.5 760.9 503.6 762.5 489.7C764.2 475.9 760.8 455.6 755.8 451.9C750.9 448.3 742.8 462.4 732.6 467.8C722.4 473.2 707 482.6 694.6 484.2C682.2 485.9 667.2 476 658.1 477.6C648.9 479.1 648.7 488.3 639.8 493.5C630.9 498.7 616.3 502.7 604.6 508.7C592.9 514.8 580.1 520.4 569.4 529.7C558.7 539 546.4 555.2 540.2 564.6C534.1 574 541.1 579.9 532.6 586C524.2 592 497.5 589 489.6 600.7Z" fill="#9ab7a1" fill-opacity="0.72" filter="url(#b2)"/><path d="M506.4 598.7C498.2 609.2 497.8 634.8 499.9 648.7C502.1 662.7 509.5 673.5 519.5 682.2C529.6 690.8 549.6 696.5 560.3 700.6C570.9 704.6 575.7 708.2 583.5 706.4C591.3 704.6 597.9 693.9 607.1 689.7C616.2 685.6 628.3 686.9 638.4 681.5C648.5 676 658.2 667.2 667.8 657C677.5 646.9 688.2 633 696.3 620.6C704.4 608.2 710.9 595.8 716.5 582.6C722.2 569.4 724.9 555.3 730.3 541.5C735.6 527.6 746.3 512.4 748.6 499.5C750.9 486.6 748.6 467.4 744.1 464.2C739.5 461 731.1 474.8 721.3 480.5C711.5 486.2 696.5 496.2 685.2 498.4C673.9 500.7 661.5 492 653.6 494C645.7 496 645.1 505.2 637.8 510.4C630.5 515.5 619.2 519.8 609.8 524.9C600.5 530 590.8 533.9 582 541.1C573.1 548.3 562.3 560.8 556.9 568.2C551.5 575.6 558 580.5 549.6 585.6C541.2 590.7 514.7 588.1 506.4 598.7Z" fill="#86a78e" fill-opacity="0.27" filter="url(#b4)"/><path d="M531.4 570.5C538 552.3 551 542.5 562.7 531.4C574.4 520.4 588.8 510.6 601.8 504.1C614.8 497.6 629.2 493 640.9 492.4C652.6 491.7 662.4 495 672.2 500.2C681.9 505.4 693 513.2 699.5 523.6C706.1 534.1 714.5 546.4 711.3 562.7C708 579 691.7 605.1 680 621.4C668.3 637.6 655.2 649.4 640.9 660.4C626.6 671.5 609.6 684.6 594 687.8C578.4 691.1 558.8 687.8 547.1 680C535.4 672.2 526.2 659.1 523.6 640.9C521 622.7 524.9 588.8 531.4 570.5Z" fill="#9ab690" fill-opacity="0.4" filter="url(#b8)"/><path d="M586.2 484.5C590.1 475.4 613.5 468.9 625.3 468.9C637 468.9 650 474.1 656.5 484.5C663.1 495 667 515.2 664.4 531.4C661.7 547.7 647.4 570.5 640.9 582.3C634.4 594 629.2 606.4 625.3 601.8C621.4 597.2 621.4 567.9 617.4 554.9C613.5 541.9 607 535.4 601.8 523.6C596.6 511.9 582.3 493.7 586.2 484.5Z" fill="#e2e672" fill-opacity="0.5" filter="url(#b8)"/><g opacity="0.82" fill="none" stroke-linecap="round" stroke-linejoin="round"><path d="M668.3 457.2C670.2 461.7 678.4 474.8 680 484.5C681.6 494.3 681.3 504.1 678 515.8C674.8 527.5 667.9 542.5 660.4 554.9C653 567.3 643.5 579 633.1 590.1C622.7 601.2 609.6 611.9 597.9 621.4C586.2 630.8 572.5 640.9 562.7 646.8C552.9 652.6 546.4 655.6 539.3 656.5C532.1 657.5 525.6 655.9 519.7 652.6C513.9 649.4 508.3 644.2 504.1 637C499.9 629.8 496.9 619.4 494.3 609.6C491.7 599.9 490.1 588.8 488.4 578.4C486.8 567.9 485.2 552.3 484.5 547.1" stroke="#a81414" stroke-width="27"/><g filter="url(#b2)"><path d="M668.3 457.2C670.2 461.7 678.4 474.8 680 484.5C681.6 494.3 681.3 504.1 678 515.8C674.8 527.5 667.9 542.5 660.4 554.9C653 567.3 643.5 579 633.1 590.1C622.7 601.2 609.6 611.9 597.9 621.4C586.2 630.8 572.5 640.9 562.7 646.8C552.9 652.6 546.4 655.6 539.3 656.5C532.1 657.5 525.6 655.9 519.7 652.6C513.9 649.4 508.3 644.2 504.1 637C499.9 629.8 496.9 619.4 494.3 609.6C491.7 599.9 490.1 588.8 488.4 578.4C486.8 567.9 485.2 552.3 484.5 547.1" stroke="#d42424" stroke-width="19.4"/><path d="M668.3 457.2C670.2 461.7 678.4 474.8 680 484.5C681.6 494.3 681.3 504.1 678 515.8C674.8 527.5 667.9 542.5 660.4 554.9C653 567.3 643.5 579 633.1 590.1C622.7 601.2 609.6 611.9 597.9 621.4C586.2 630.8 572.5 640.9 562.7 646.8C552.9 652.6 546.4 655.6 539.3 656.5C532.1 657.5 525.6 655.9 519.7 652.6C513.9 649.4 508.3 644.2 504.1 637C499.9 629.8 496.9 619.4 494.3 609.6C491.7 599.9 490.1 588.8 488.4 578.4C486.8 567.9 485.2 552.3 484.5 547.1" stroke="#ee4848" stroke-width="11.3" transform="translate(-1.5,-2)"/><path d="M668.3 457.2C670.2 461.7 678.4 474.8 680 484.5C681.6 494.3 681.3 504.1 678 515.8C674.8 527.5 667.9 542.5 660.4 554.9C653 567.3 643.5 579 633.1 590.1C622.7 601.2 609.6 611.9 597.9 621.4C586.2 630.8 572.5 640.9 562.7 646.8C552.9 652.6 546.4 655.6 539.3 656.5C532.1 657.5 525.6 655.9 519.7 652.6C513.9 649.4 508.3 644.2 504.1 637C499.9 629.8 496.9 619.4 494.3 609.6C491.7 599.9 490.1 588.8 488.4 578.4C486.8 567.9 485.2 552.3 484.5 547.1" stroke="#ffb4b4" stroke-width="3.8" transform="translate(-2.5,-3)" opacity=".8"/></g></g><g opacity="0.45" fill="none" stroke-linecap="round" stroke-linejoin="round"><path d="M519.7 523.6C523 520.4 532.1 511.3 539.3 504.1C546.4 496.9 558.8 484.5 562.7 480.6" stroke="#121292" stroke-width="28.1"/><g filter="url(#b2)"><path d="M519.7 523.6C523 520.4 532.1 511.3 539.3 504.1C546.4 496.9 558.8 484.5 562.7 480.6" stroke="#1a1ac6" stroke-width="20.2"/><path d="M519.7 523.6C523 520.4 532.1 511.3 539.3 504.1C546.4 496.9 558.8 484.5 562.7 480.6" stroke="#3636ee" stroke-width="11.8" transform="translate(-1.5,-2)"/><path d="M519.7 523.6C523 520.4 532.1 511.3 539.3 504.1C546.4 496.9 558.8 484.5 562.7 480.6" stroke="#9c9cff" stroke-width="3.9" transform="translate(-2.5,-3)" opacity=".8"/></g></g><path opacity=".55" d="M528.4 53L528.3 518.6M142 715L528.3 518.6L915.6 715" fill="none" stroke="#262626" stroke-width="2.6"/><path d="M289.1 508C290.1 500.8 291 494.2 296.9 488.4C302.8 482.7 315.2 475.7 324.3 473.6C333.4 471.5 344.5 473.5 351.6 475.9C358.8 478.4 362.4 483.1 367.3 488.4C372.2 493.8 376.4 506 381 508C385.5 509.9 391.4 506.7 394.6 500.2C397.9 493.7 398.5 476.4 400.5 468.9C402.5 461.4 402.8 456.5 406.4 455.2C409.9 453.9 418.4 456.2 422 461.1C425.6 466 422.6 478 427.9 484.5C433.1 491.1 443.8 496.3 453.3 500.2C462.7 504.1 474.1 504.1 484.5 508C495 511.9 509.3 519.1 515.8 523.6C522.3 528.2 526.2 532.4 523.6 535.4C521 538.3 509.3 539.3 500.2 541.2C491.1 543.2 471.5 544.2 468.9 547.1C466.3 550 476.7 556.2 484.5 558.8C492.4 561.4 508.6 560.8 515.8 562.7C523 564.7 526.9 566 527.5 570.5C528.2 575.1 526.9 585.2 519.7 590.1C512.6 595 498.2 598.6 484.5 599.9C470.9 601.2 453.9 599.5 437.6 597.9C421.3 596.3 403.1 593.3 386.8 590.1C370.5 586.8 353.6 584.2 339.9 578.4C326.2 572.5 312.9 562.7 304.7 554.9C296.6 547.1 293.7 539.3 291 531.4C288.4 523.6 288.1 515.2 289.1 508Z" fill="#cbcbf6" opacity="0.96" filter="url(#b1)"/><path d="M515.8 386.8C517.8 382.9 523.6 377.7 531.4 375.1C539.3 372.5 551 372.5 562.7 371.2C574.4 369.9 588.8 367.9 601.8 367.3C614.8 366.6 627.9 366.9 640.9 367.3C653.9 367.6 668.3 367.3 680 369.2C691.7 371.2 701.5 374.1 711.3 379C721 383.9 730.8 392 738.6 398.5C746.4 405.1 754.3 411.6 758.2 418.1C762.1 424.6 764.7 430.5 762.1 437.6C759.5 444.8 751 454.9 742.5 461.1C734.1 467.3 721.7 472.2 711.3 474.8C700.8 477.4 687.8 479 680 476.7C672.2 474.4 668.9 461.7 664.4 461.1C659.8 460.4 659.8 470.2 652.6 472.8C645.5 475.4 633.1 477.4 621.4 476.7C609.6 476.1 593.3 472.8 582.3 468.9C571.2 465 560.8 459.1 554.9 453.3C549 447.4 549.7 440.9 547.1 433.7C544.5 426.6 543.8 416.1 539.3 410.3C534.7 404.4 523.6 402.5 519.7 398.5C515.8 394.6 513.9 390.7 515.8 386.8Z" fill="#cbcbf6" opacity="0.96" filter="url(#b1)"/><ellipse cx="379" cy="539.3" rx="85" ry="36" fill="url(#core2)" transform="rotate(-5 379 539.3)"/><ellipse cx="699.5" cy="429.8" rx="70" ry="32" fill="url(#core2)" transform="rotate(-5 699.5 429.8)"/><ellipse cx="468.9" cy="519.7" rx="66" ry="30" fill="url(#core)" transform="rotate(-6 468.9 519.7)"/><ellipse cx="601.8" cy="441.5" rx="62" ry="28" fill="url(#core)" transform="rotate(-6 601.8 441.5)"/><path opacity=".22" d="M528.4 53L528.3 518.6M142 715L528.3 518.6L915.6 715" fill="none" stroke="#262626" stroke-width="2.6"/><g opacity="1" fill="none" stroke-linecap="round" stroke-linejoin="round"><path d="M595.9 445.5C597.2 440.2 601.8 423 603.8 414.2C605.7 405.4 607 396.3 607.7 392.7" stroke="#121292" stroke-width="30.2"/><g filter="url(#b2)"><path d="M595.9 445.5C597.2 440.2 601.8 423 603.8 414.2C605.7 405.4 607 396.3 607.7 392.7" stroke="#1a1ac6" stroke-width="21.8"/><path d="M595.9 445.5C597.2 440.2 601.8 423 603.8 414.2C605.7 405.4 607 396.3 607.7 392.7" stroke="#3636ee" stroke-width="12.7" transform="translate(-1.5,-2)"/><path d="M595.9 445.5C597.2 440.2 601.8 423 603.8 414.2C605.7 405.4 607 396.3 607.7 392.7" stroke="#9c9cff" stroke-width="4.2" transform="translate(-2.5,-3)" opacity=".8"/></g></g><g opacity="1" fill="none" stroke-linecap="round" stroke-linejoin="round"><path d="M676.1 422C672.8 418.1 665 408.3 656.5 398.5C648.1 388.8 635.7 375.1 625.3 363.4C614.8 351.6 601.2 336.3 594 328.2C586.8 320 587.5 318.7 582.3 314.5C577.1 310.3 568.6 305.2 562.7 302.8C556.9 300.4 552.3 300.5 547.1 300C541.9 299.6 536.7 300.2 531.4 300C526.2 299.8 521 298.1 515.8 298.9C510.6 299.6 508 301.1 500.2 304.7C492.4 308.3 479.3 314.8 468.9 320.4C458.5 325.9 445.4 332.1 437.6 338C429.8 343.8 425.4 348.7 422 355.5C418.6 362.4 417.4 369.2 417.3 379C417.2 388.8 419 401.8 421.2 414.2C423.4 426.6 426.6 440.9 430.6 453.3C434.6 465.6 440.4 478.7 445.5 488.4C450.5 498.2 456.9 506.4 461.1 511.9C465.3 517.4 469.2 520 470.9 521.7" stroke="#a81414" stroke-width="24.8"/><g filter="url(#b2)"><path d="M676.1 422C672.8 418.1 665 408.3 656.5 398.5C648.1 388.8 635.7 375.1 625.3 363.4C614.8 351.6 601.2 336.3 594 328.2C586.8 320 587.5 318.7 582.3 314.5C577.1 310.3 568.6 305.2 562.7 302.8C556.9 300.4 552.3 300.5 547.1 300C541.9 299.6 536.7 300.2 531.4 300C526.2 299.8 521 298.1 515.8 298.9C510.6 299.6 508 301.1 500.2 304.7C492.4 308.3 479.3 314.8 468.9 320.4C458.5 325.9 445.4 332.1 437.6 338C429.8 343.8 425.4 348.7 422 355.5C418.6 362.4 417.4 369.2 417.3 379C417.2 388.8 419 401.8 421.2 414.2C423.4 426.6 426.6 440.9 430.6 453.3C434.6 465.6 440.4 478.7 445.5 488.4C450.5 498.2 456.9 506.4 461.1 511.9C465.3 517.4 469.2 520 470.9 521.7" stroke="#d42424" stroke-width="17.9"/><path d="M676.1 422C672.8 418.1 665 408.3 656.5 398.5C648.1 388.8 635.7 375.1 625.3 363.4C614.8 351.6 601.2 336.3 594 328.2C586.8 320 587.5 318.7 582.3 314.5C577.1 310.3 568.6 305.2 562.7 302.8C556.9 300.4 552.3 300.5 547.1 300C541.9 299.6 536.7 300.2 531.4 300C526.2 299.8 521 298.1 515.8 298.9C510.6 299.6 508 301.1 500.2 304.7C492.4 308.3 479.3 314.8 468.9 320.4C458.5 325.9 445.4 332.1 437.6 338C429.8 343.8 425.4 348.7 422 355.5C418.6 362.4 417.4 369.2 417.3 379C417.2 388.8 419 401.8 421.2 414.2C423.4 426.6 426.6 440.9 430.6 453.3C434.6 465.6 440.4 478.7 445.5 488.4C450.5 498.2 456.9 506.4 461.1 511.9C465.3 517.4 469.2 520 470.9 521.7" stroke="#ee4848" stroke-width="10.4" transform="translate(-1.5,-2)"/><path d="M676.1 422C672.8 418.1 665 408.3 656.5 398.5C648.1 388.8 635.7 375.1 625.3 363.4C614.8 351.6 601.2 336.3 594 328.2C586.8 320 587.5 318.7 582.3 314.5C577.1 310.3 568.6 305.2 562.7 302.8C556.9 300.4 552.3 300.5 547.1 300C541.9 299.6 536.7 300.2 531.4 300C526.2 299.8 521 298.1 515.8 298.9C510.6 299.6 508 301.1 500.2 304.7C492.4 308.3 479.3 314.8 468.9 320.4C458.5 325.9 445.4 332.1 437.6 338C429.8 343.8 425.4 348.7 422 355.5C418.6 362.4 417.4 369.2 417.3 379C417.2 388.8 419 401.8 421.2 414.2C423.4 426.6 426.6 440.9 430.6 453.3C434.6 465.6 440.4 478.7 445.5 488.4C450.5 498.2 456.9 506.4 461.1 511.9C465.3 517.4 469.2 520 470.9 521.7" stroke="#ffb4b4" stroke-width="3.5" transform="translate(-2.5,-3)" opacity=".8"/></g></g><g opacity="1" fill="none" stroke-linecap="round" stroke-linejoin="round"><path d="M406.4 552.9C407.7 549.4 409.6 538.9 414.2 531.4C418.7 524 424.6 517.1 433.7 508C442.8 498.9 457.2 486.2 468.9 476.7C480.6 467.3 492.4 459.5 504.1 451.3C515.8 443.2 528.2 434.4 539.3 427.9C550.3 421.3 561.4 416.1 570.5 412.2C579.7 408.3 588.1 406.4 594 404.4C599.9 402.5 603.4 402.8 605.7 400.5C608 398.2 607.3 392.4 607.7 390.7" stroke="#121292" stroke-width="31.3"/><g filter="url(#b2)"><path d="M406.4 552.9C407.7 549.4 409.6 538.9 414.2 531.4C418.7 524 424.6 517.1 433.7 508C442.8 498.9 457.2 486.2 468.9 476.7C480.6 467.3 492.4 459.5 504.1 451.3C515.8 443.2 528.2 434.4 539.3 427.9C550.3 421.3 561.4 416.1 570.5 412.2C579.7 408.3 588.1 406.4 594 404.4C599.9 402.5 603.4 402.8 605.7 400.5C608 398.2 607.3 392.4 607.7 390.7" stroke="#1a1ac6" stroke-width="22.6"/><path d="M406.4 552.9C407.7 549.4 409.6 538.9 414.2 531.4C418.7 524 424.6 517.1 433.7 508C442.8 498.9 457.2 486.2 468.9 476.7C480.6 467.3 492.4 459.5 504.1 451.3C515.8 443.2 528.2 434.4 539.3 427.9C550.3 421.3 561.4 416.1 570.5 412.2C579.7 408.3 588.1 406.4 594 404.4C599.9 402.5 603.4 402.8 605.7 400.5C608 398.2 607.3 392.4 607.7 390.7" stroke="#3636ee" stroke-width="13.2" transform="translate(-1.5,-2)"/><path d="M406.4 552.9C407.7 549.4 409.6 538.9 414.2 531.4C418.7 524 424.6 517.1 433.7 508C442.8 498.9 457.2 486.2 468.9 476.7C480.6 467.3 492.4 459.5 504.1 451.3C515.8 443.2 528.2 434.4 539.3 427.9C550.3 421.3 561.4 416.1 570.5 412.2C579.7 408.3 588.1 406.4 594 404.4C599.9 402.5 603.4 402.8 605.7 400.5C608 398.2 607.3 392.4 607.7 390.7" stroke="#9c9cff" stroke-width="4.4" transform="translate(-2.5,-3)" opacity=".8"/></g></g><path d="M528.4 53L118.6 226L142 715L528.3 940L915.6 715L938.8 226Z" fill="none" stroke="#202020" stroke-width="3.6" stroke-linejoin="miter"/><text x="79" y="124.6" font-size="86" font-weight="bold">a</text><g font-size="72" font-style="italic" text-anchor="middle"><text transform="translate(96 441) rotate(-90)">y</text><text transform="translate(283 886) rotate(31)">τ</text><text transform="translate(786 886) rotate(-31)">x</text></g><path d="M1464.4 53L1464.3 518.6M1078 715L1464.3 518.6L1851.6 715" fill="none" stroke="#262626" stroke-width="2.6"/><path d="M1234.7 562.7C1219.7 566.6 1242.5 603.1 1246.5 621.4C1250.4 639.6 1252.3 658.2 1258.2 672.2C1264 686.2 1271.9 699.2 1281.6 705.4C1291.4 711.6 1305.1 711.6 1316.8 709.3C1328.5 707 1342.2 690.7 1352 691.7C1361.8 692.7 1367.6 707 1375.5 715.2C1383.3 723.3 1389.1 735.7 1398.9 740.6C1408.7 745.5 1422.4 745.8 1434.1 744.5C1445.8 743.2 1460.1 742.2 1469.3 732.8C1478.4 723.3 1481.6 696.3 1488.8 687.8C1496 679.3 1501.8 682.6 1512.3 681.9C1522.7 681.3 1540.9 688.1 1551.4 683.9C1561.8 679.7 1564.4 666.3 1574.8 656.5C1585.2 646.8 1602.2 635.7 1613.9 625.3C1625.6 614.8 1639.3 605.7 1645.2 594C1651 582.3 1644.5 570.5 1649.1 554.9C1653.6 539.3 1665 514.5 1672.5 500.2C1680 485.8 1691.4 481.9 1694 468.9C1696.6 455.9 1695.7 437 1688.2 422C1680.7 407 1668.6 381.6 1649.1 379C1629.5 376.4 1597 396.6 1570.9 406.4C1544.8 416.1 1512.3 425.9 1492.7 437.6C1473.2 449.4 1463.4 463.7 1453.6 476.7C1443.9 489.8 1440.6 498.2 1434.1 515.8C1427.6 533.4 1430.8 568.6 1414.5 582.3C1398.3 595.9 1366.3 601.2 1336.4 597.9C1306.4 594.6 1249.7 558.8 1234.7 562.7Z" fill="#b4ccc0" fill-opacity=".62" filter="url(#b2)"/><path d="M1234.7 562.7C1229.5 567.3 1242.5 603.1 1246.5 621.4C1250.4 639.6 1252.3 658.5 1258.2 672.2C1264 685.9 1271.9 697.6 1281.6 703.4C1291.4 709.3 1305.7 710 1316.8 707.4C1327.9 704.7 1340.3 698.9 1348.1 687.8C1355.9 676.7 1359.8 655.2 1363.7 640.9C1367.6 626.6 1376.1 609 1371.5 601.8C1367 594.6 1352 599.2 1336.4 597.9C1320.7 596.6 1294.7 599.9 1277.7 594C1260.8 588.1 1239.9 558.2 1234.7 562.7Z" fill="#cfe4ec" fill-opacity="0.65" filter="url(#b1)"/><path d="M1240.8 569.4C1236.2 573.1 1250.9 607.8 1255.1 624C1259.2 640.2 1260.5 655 1265.4 666.9C1270.4 678.7 1276.3 689.6 1284.5 694.9C1292.8 700.2 1305.5 700.8 1315.1 698.5C1324.7 696.2 1335.4 690.8 1342 681.2C1348.6 671.5 1351.1 653.1 1354.7 640.6C1358.3 628.1 1367.6 612.1 1363.6 606.1C1359.6 600.2 1344.3 605.6 1330.7 604.9C1317.2 604.2 1297.2 607.7 1282.2 601.8C1267.2 595.9 1245.3 565.7 1240.8 569.4Z" fill="#9ab7a1" fill-opacity="0.72" filter="url(#b2)"/><path d="M1252.1 582C1248.9 584.1 1266.8 616.5 1271.3 629C1275.8 641.5 1276 648.5 1279.2 656.8C1282.3 665.1 1284.5 674.7 1290 678.8C1295.4 683 1305.1 683.5 1311.9 681.8C1318.6 680.1 1326.3 675.6 1330.6 668.6C1334.9 661.6 1334.7 649.1 1337.7 640.1C1340.8 631 1351.7 617.9 1348.7 614.3C1345.8 610.6 1329.8 617.8 1320.1 618.2C1310.4 618.6 1302 622.6 1290.7 616.5C1279.3 610.5 1255.4 579.9 1252.1 582Z" fill="#86a78e" fill-opacity="0.27" filter="url(#b4)"/><path d="M1359.8 601.8C1348.7 614.2 1353.3 642.2 1355.9 660.4C1358.5 678.7 1368.3 698.2 1375.5 711.3C1382.6 724.3 1389.1 733.4 1398.9 738.6C1408.7 743.8 1422.4 743.8 1434.1 742.5C1445.8 741.2 1460.8 739.3 1469.3 730.8C1477.7 722.3 1481 706.7 1484.9 691.7C1488.8 676.7 1492.7 655.9 1492.7 640.9C1492.7 625.9 1496.6 610.9 1484.9 601.8C1473.2 592.7 1443.2 586.2 1422.4 586.2C1401.5 586.2 1370.9 589.4 1359.8 601.8Z" fill="#cfe4ec" fill-opacity="0.65" filter="url(#b1)"/><path d="M1366.1 608.2C1356.5 619.3 1362.1 645.4 1364.8 661.7C1367.6 678 1376.3 694.3 1382.6 705.7C1388.8 717.2 1394 725.7 1402.4 730.3C1410.9 735 1423 734.7 1433.3 733.6C1443.6 732.4 1457 730.9 1464.2 723.4C1471.4 715.9 1473.1 701.7 1476.5 688.6C1479.9 675.5 1484.1 658 1484.5 644.6C1485 631.3 1489.4 617 1479.2 608.7C1468.9 600.5 1441.8 595.2 1422.9 595.2C1404.1 595.1 1375.8 597.1 1366.1 608.2Z" fill="#9ab7a1" fill-opacity="0.72" filter="url(#b2)"/><path d="M1378.1 620.3C1371 629 1378.7 651.6 1381.6 664.1C1384.6 676.6 1391.4 686.9 1396 695.3C1400.6 703.8 1403.1 711.1 1409.1 714.7C1415.1 718.3 1424.3 717.5 1431.8 716.6C1439.4 715.7 1449.7 715 1454.5 709.4C1459.3 703.7 1458.1 692.3 1460.5 682.7C1462.9 673.1 1467.8 661.9 1469.1 651.7C1470.4 641.6 1475.8 628.4 1468.3 621.8C1460.8 615.2 1439.1 612.4 1424 612.1C1409 611.9 1385.2 611.6 1378.1 620.3Z" fill="#86a78e" fill-opacity="0.27" filter="url(#b4)"/><path d="M1434.1 504.1C1438 496.3 1451.7 490.4 1461.4 484.5C1471.2 478.7 1474.5 472.2 1492.7 468.9C1511 465.6 1548.1 466.3 1570.9 465C1593.7 463.7 1610.6 465.6 1629.5 461.1C1648.4 456.5 1673.8 436.3 1684.3 437.6C1694.7 438.9 1694.7 458.5 1692.1 468.9C1689.5 479.3 1677.1 489.8 1668.6 500.2C1660.2 510.6 1644.5 521 1641.3 531.4C1638 541.9 1649.1 552.3 1649.1 562.7C1649.1 573.1 1647.8 583.6 1641.3 594C1634.7 604.4 1621.7 614.8 1610 625.3C1598.3 635.7 1580.7 646.8 1570.9 656.5C1561.1 666.3 1561.1 680 1551.4 683.9C1541.6 687.8 1523.3 683.2 1512.3 680C1501.2 676.7 1492.1 677.4 1484.9 664.4C1477.7 651.3 1474.5 618.7 1469.3 601.8C1464.1 584.9 1458.8 574.4 1453.6 562.7C1448.4 551 1441.3 541.2 1438 531.4C1434.7 521.7 1430.2 511.9 1434.1 504.1Z" fill="#cfe4ec" fill-opacity="0.65" filter="url(#b1)"/><path d="M1442.5 507.3C1446.2 500 1459.6 494.8 1468.9 489.6C1478.2 484.4 1481.6 478.5 1498.4 475.9C1515.3 473.3 1548.9 475.2 1569.9 473.9C1590.8 472.7 1606.1 473.3 1624.1 468.3C1642.1 463.2 1667.6 442.8 1677.7 443.7C1687.7 444.7 1687.3 463.7 1684.5 473.7C1681.6 483.8 1669.2 494.1 1660.5 504.1C1651.9 514.1 1635.9 524.1 1632.5 533.7C1629.1 543.2 1640 552.3 1640.1 561.6C1640.3 571 1639.2 580.5 1633.3 589.8C1627.4 599.2 1615.5 608.2 1605 617.8C1594.4 627.4 1578.9 638.1 1570 647.6C1561.2 657.1 1561.1 670.9 1552 674.9C1542.9 678.9 1525.8 674.6 1515.5 671.6C1505.1 668.6 1496.3 669.2 1489.9 656.9C1483.6 644.5 1481.7 613.3 1477.2 597.5C1472.6 581.6 1467.6 572.6 1462.6 561.8C1457.5 551 1450.2 542 1446.9 532.9C1443.5 523.8 1438.8 514.5 1442.5 507.3Z" fill="#9ab7a1" fill-opacity="0.72" filter="url(#b2)"/><path d="M1458.4 513.2C1461.6 507.2 1474.5 503.2 1483 499.1C1491.4 495.1 1495.1 490.4 1509.2 489C1523.4 487.6 1550.5 492 1567.9 490.8C1585.3 489.6 1597.6 487.7 1613.8 481.8C1630 475.9 1655.8 455.1 1665.2 455.3C1674.6 455.4 1673.4 473.4 1670.1 482.8C1666.8 492.1 1654.2 502.2 1645.2 511.4C1636.2 520.6 1619.7 529.8 1616.1 537.8C1612.4 545.9 1622.9 552.2 1623.3 559.5C1623.6 566.9 1622.9 574.6 1618.2 581.9C1613.6 589.3 1603.8 595.5 1595.5 603.7C1587.2 611.8 1575.5 621.6 1568.4 630.7C1561.4 639.7 1561 653.8 1553.2 658C1545.4 662.1 1530.4 658.2 1521.5 655.7C1512.5 653.1 1504.3 653.9 1499.4 642.8C1494.5 631.7 1495.4 603.1 1492.1 589.3C1488.8 575.6 1484.2 569 1479.5 560.1C1474.8 551.1 1467.2 543.5 1463.6 535.7C1460.1 527.9 1455.2 519.3 1458.4 513.2Z" fill="#86a78e" fill-opacity="0.27" filter="url(#b4)"/><path d="M1453.6 523.6C1458.8 511.9 1476.4 505.4 1492.7 500.2C1509 495 1531.8 492.4 1551.4 492.4C1570.9 492.4 1597 491.1 1610 500.2C1623 509.3 1630.8 530.1 1629.5 547.1C1628.2 564 1614.6 586.2 1602.2 601.8C1589.8 617.4 1570.9 633.1 1555.3 640.9C1539.6 648.7 1521.4 652.6 1508.4 648.7C1495.3 644.8 1484.9 630.5 1477.1 617.4C1469.3 604.4 1465.4 586.2 1461.4 570.5C1457.5 554.9 1448.4 535.4 1453.6 523.6Z" fill="#98b48e" fill-opacity="0.4" filter="url(#b8)"/><path d="M1398.9 547.1C1403.5 536.7 1423.7 534.1 1430.2 539.3C1436.7 544.5 1438 564 1438 578.4C1438 592.7 1434.1 614.8 1430.2 625.3C1426.3 635.7 1419.1 644.8 1414.5 640.9C1410 637 1405.4 617.4 1402.8 601.8C1400.2 586.2 1394.3 557.5 1398.9 547.1Z" fill="#e2e672" fill-opacity="0.5" filter="url(#b8)"/><path d="M1586.5 453.3C1598.9 445.5 1620.4 448.1 1629.5 453.3C1638.7 458.5 1644.5 474.1 1641.3 484.5C1638 495 1621.7 509.3 1610 515.8C1598.3 522.3 1580 526.2 1570.9 523.6C1561.8 521 1552.7 511.9 1555.3 500.2C1557.9 488.4 1574.2 461.1 1586.5 453.3Z" fill="#e2e672" fill-opacity="0.55" filter="url(#b8)"/><g opacity="0.78" fill="none" stroke-linecap="round" stroke-linejoin="round"><path d="M1613.9 453.3C1614.6 456.5 1621.7 465 1617.8 472.8C1613.9 480.6 1601.5 491.7 1590.4 500.2C1579.4 508.6 1564.4 517.1 1551.4 523.6C1538.3 530.1 1525.3 534.7 1512.3 539.3C1499.2 543.8 1486.2 547.7 1473.2 551C1460.1 554.3 1443.9 555.6 1434.1 558.8C1424.3 562.1 1418.4 563.4 1414.5 570.5C1410.6 577.7 1410.6 590.1 1410.6 601.8C1410.6 613.5 1413.2 627.9 1414.5 640.9C1415.8 653.9 1416.5 669.6 1418.4 680C1420.4 690.4 1425 699.5 1426.3 703.4" stroke="#a81414" stroke-width="27"/><g filter="url(#b2)"><path d="M1613.9 453.3C1614.6 456.5 1621.7 465 1617.8 472.8C1613.9 480.6 1601.5 491.7 1590.4 500.2C1579.4 508.6 1564.4 517.1 1551.4 523.6C1538.3 530.1 1525.3 534.7 1512.3 539.3C1499.2 543.8 1486.2 547.7 1473.2 551C1460.1 554.3 1443.9 555.6 1434.1 558.8C1424.3 562.1 1418.4 563.4 1414.5 570.5C1410.6 577.7 1410.6 590.1 1410.6 601.8C1410.6 613.5 1413.2 627.9 1414.5 640.9C1415.8 653.9 1416.5 669.6 1418.4 680C1420.4 690.4 1425 699.5 1426.3 703.4" stroke="#d42424" stroke-width="19.4"/><path d="M1613.9 453.3C1614.6 456.5 1621.7 465 1617.8 472.8C1613.9 480.6 1601.5 491.7 1590.4 500.2C1579.4 508.6 1564.4 517.1 1551.4 523.6C1538.3 530.1 1525.3 534.7 1512.3 539.3C1499.2 543.8 1486.2 547.7 1473.2 551C1460.1 554.3 1443.9 555.6 1434.1 558.8C1424.3 562.1 1418.4 563.4 1414.5 570.5C1410.6 577.7 1410.6 590.1 1410.6 601.8C1410.6 613.5 1413.2 627.9 1414.5 640.9C1415.8 653.9 1416.5 669.6 1418.4 680C1420.4 690.4 1425 699.5 1426.3 703.4" stroke="#ee4848" stroke-width="11.3" transform="translate(-1.5,-2)"/><path d="M1613.9 453.3C1614.6 456.5 1621.7 465 1617.8 472.8C1613.9 480.6 1601.5 491.7 1590.4 500.2C1579.4 508.6 1564.4 517.1 1551.4 523.6C1538.3 530.1 1525.3 534.7 1512.3 539.3C1499.2 543.8 1486.2 547.7 1473.2 551C1460.1 554.3 1443.9 555.6 1434.1 558.8C1424.3 562.1 1418.4 563.4 1414.5 570.5C1410.6 577.7 1410.6 590.1 1410.6 601.8C1410.6 613.5 1413.2 627.9 1414.5 640.9C1415.8 653.9 1416.5 669.6 1418.4 680C1420.4 690.4 1425 699.5 1426.3 703.4" stroke="#ffb4b4" stroke-width="3.8" transform="translate(-2.5,-3)" opacity=".8"/></g></g><g opacity="0.7" fill="none" stroke-linecap="round" stroke-linejoin="round"><path d="M1379.4 594C1380.7 601.8 1383.3 626.6 1387.2 640.9C1391.1 655.2 1396.9 670.2 1402.8 680C1408.7 689.8 1419.1 696.3 1422.4 699.5" stroke="#a81414" stroke-width="27"/><g filter="url(#b2)"><path d="M1379.4 594C1380.7 601.8 1383.3 626.6 1387.2 640.9C1391.1 655.2 1396.9 670.2 1402.8 680C1408.7 689.8 1419.1 696.3 1422.4 699.5" stroke="#d42424" stroke-width="19.4"/><path d="M1379.4 594C1380.7 601.8 1383.3 626.6 1387.2 640.9C1391.1 655.2 1396.9 670.2 1402.8 680C1408.7 689.8 1419.1 696.3 1422.4 699.5" stroke="#ee4848" stroke-width="11.3" transform="translate(-1.5,-2)"/><path d="M1379.4 594C1380.7 601.8 1383.3 626.6 1387.2 640.9C1391.1 655.2 1396.9 670.2 1402.8 680C1408.7 689.8 1419.1 696.3 1422.4 699.5" stroke="#ffb4b4" stroke-width="3.8" transform="translate(-2.5,-3)" opacity=".8"/></g></g><g opacity="0.85" fill="none" stroke-linecap="round" stroke-linejoin="round"><path d="M1492.7 468.9C1494.7 472.8 1497.9 485.8 1504.4 492.4C1511 498.9 1522 502.1 1531.8 508C1541.6 513.9 1554 519.7 1563.1 527.5C1572.2 535.4 1582.6 545.8 1586.5 554.9C1590.4 564 1590.4 573.8 1586.5 582.3C1582.6 590.7 1572.2 599.2 1563.1 605.7C1554 612.2 1541.6 617.8 1531.8 621.4C1522 624.9 1512.3 628.5 1504.4 627.2C1496.6 625.9 1492.1 619.7 1484.9 613.5C1477.7 607.3 1469.3 597.2 1461.4 590.1C1453.6 582.9 1441.9 573.8 1438 570.5" stroke="#121292" stroke-width="30.2"/><g filter="url(#b2)"><path d="M1492.7 468.9C1494.7 472.8 1497.9 485.8 1504.4 492.4C1511 498.9 1522 502.1 1531.8 508C1541.6 513.9 1554 519.7 1563.1 527.5C1572.2 535.4 1582.6 545.8 1586.5 554.9C1590.4 564 1590.4 573.8 1586.5 582.3C1582.6 590.7 1572.2 599.2 1563.1 605.7C1554 612.2 1541.6 617.8 1531.8 621.4C1522 624.9 1512.3 628.5 1504.4 627.2C1496.6 625.9 1492.1 619.7 1484.9 613.5C1477.7 607.3 1469.3 597.2 1461.4 590.1C1453.6 582.9 1441.9 573.8 1438 570.5" stroke="#1a1ac6" stroke-width="21.8"/><path d="M1492.7 468.9C1494.7 472.8 1497.9 485.8 1504.4 492.4C1511 498.9 1522 502.1 1531.8 508C1541.6 513.9 1554 519.7 1563.1 527.5C1572.2 535.4 1582.6 545.8 1586.5 554.9C1590.4 564 1590.4 573.8 1586.5 582.3C1582.6 590.7 1572.2 599.2 1563.1 605.7C1554 612.2 1541.6 617.8 1531.8 621.4C1522 624.9 1512.3 628.5 1504.4 627.2C1496.6 625.9 1492.1 619.7 1484.9 613.5C1477.7 607.3 1469.3 597.2 1461.4 590.1C1453.6 582.9 1441.9 573.8 1438 570.5" stroke="#3636ee" stroke-width="12.7" transform="translate(-1.5,-2)"/><path d="M1492.7 468.9C1494.7 472.8 1497.9 485.8 1504.4 492.4C1511 498.9 1522 502.1 1531.8 508C1541.6 513.9 1554 519.7 1563.1 527.5C1572.2 535.4 1582.6 545.8 1586.5 554.9C1590.4 564 1590.4 573.8 1586.5 582.3C1582.6 590.7 1572.2 599.2 1563.1 605.7C1554 612.2 1541.6 617.8 1531.8 621.4C1522 624.9 1512.3 628.5 1504.4 627.2C1496.6 625.9 1492.1 619.7 1484.9 613.5C1477.7 607.3 1469.3 597.2 1461.4 590.1C1453.6 582.9 1441.9 573.8 1438 570.5" stroke="#9c9cff" stroke-width="4.2" transform="translate(-2.5,-3)" opacity=".8"/></g></g><path opacity=".55" d="M1464.4 53L1464.3 518.6M1078 715L1464.3 518.6L1851.6 715" fill="none" stroke="#262626" stroke-width="2.6"/><path d="M1230.8 547.1C1230.8 537.3 1236 527.5 1242.5 519.7C1249.1 511.9 1260.8 505.4 1269.9 500.2C1279 495 1289.5 490.4 1297.3 488.4C1305.1 486.5 1312.3 485.2 1316.8 488.4C1321.4 491.7 1321.4 502.8 1324.6 508C1327.9 513.2 1332.5 519.7 1336.4 519.7C1340.3 519.7 1345.5 512.6 1348.1 508C1350.7 503.4 1347.4 496.3 1352 492.4C1356.6 488.4 1365 483.9 1375.5 484.5C1385.9 485.2 1404.8 491.7 1414.5 496.3C1424.3 500.8 1430.2 506.7 1434.1 511.9C1438 517.1 1441.3 523 1438 527.5C1434.7 532.1 1423.7 536.7 1414.5 539.3C1405.4 541.9 1383.3 540.6 1383.3 543.2C1383.3 545.8 1407.4 551.6 1414.5 554.9C1421.7 558.2 1426.3 558.2 1426.3 562.7C1426.3 567.3 1423 577.1 1414.5 582.3C1406.1 587.5 1389.8 591.1 1375.5 594C1361.1 596.9 1344.8 599.9 1328.5 599.9C1312.3 599.9 1292.1 597.6 1277.7 594C1263.4 590.4 1250.4 586.2 1242.5 578.4C1234.7 570.5 1230.8 556.9 1230.8 547.1Z" fill="#cbcbf6" opacity="0.96" filter="url(#b1)"/><path d="M1461.4 433.7C1462.1 428.5 1475.8 424.6 1484.9 422C1494 419.4 1504.4 418.1 1516.2 418.1C1527.9 418.1 1543.5 419.4 1555.3 422C1567 424.6 1579 435 1586.5 433.7C1594 432.4 1596.3 422.6 1600.2 414.2C1604.1 405.7 1601.8 388.8 1610 382.9C1618.1 377 1636.7 376.4 1649.1 379C1661.5 381.6 1677.1 392 1684.3 398.5C1691.4 405.1 1692.7 411.6 1692.1 418.1C1691.4 424.6 1687.5 431.8 1680.4 437.6C1673.2 443.5 1659.5 449.4 1649.1 453.3C1638.7 457.2 1625.6 462.4 1617.8 461.1C1610 459.8 1608.7 446.1 1602.2 445.5C1595.7 444.8 1587.8 453.6 1578.7 457.2C1569.6 460.8 1558.5 465.6 1547.4 466.9C1536.4 468.3 1523.3 467.3 1512.3 465C1501.2 462.7 1489.5 458.5 1481 453.3C1472.5 448.1 1460.8 438.9 1461.4 433.7Z" fill="#cbcbf6" opacity="0.96" filter="url(#b1)"/><ellipse cx="1309" cy="547.1" rx="85" ry="36" fill="url(#core2)" transform="rotate(-5 1309 547.1)"/><ellipse cx="1649.1" cy="418.1" rx="70" ry="32" fill="url(#core2)" transform="rotate(-5 1649.1 418.1)"/><ellipse cx="1398.9" cy="519.7" rx="64" ry="30" fill="url(#core)" transform="rotate(-6 1398.9 519.7)"/><ellipse cx="1531.8" cy="441.5" rx="66" ry="30" fill="url(#core)" transform="rotate(-6 1531.8 441.5)"/><path opacity=".22" d="M1464.4 53L1464.3 518.6M1078 715L1464.3 518.6L1851.6 715" fill="none" stroke="#262626" stroke-width="2.6"/><g opacity="0.92" fill="none" stroke-linecap="round" stroke-linejoin="round"><path d="M1475.1 390.7C1477.4 390.7 1482.6 391.4 1488.8 390.7C1495 390.1 1504.1 388.1 1512.3 386.8C1520.4 385.5 1533.4 383.6 1537.7 382.9" stroke="#a81414" stroke-width="38.9"/><g filter="url(#b2)"><path d="M1475.1 390.7C1477.4 390.7 1482.6 391.4 1488.8 390.7C1495 390.1 1504.1 388.1 1512.3 386.8C1520.4 385.5 1533.4 383.6 1537.7 382.9" stroke="#d42424" stroke-width="28"/><path d="M1475.1 390.7C1477.4 390.7 1482.6 391.4 1488.8 390.7C1495 390.1 1504.1 388.1 1512.3 386.8C1520.4 385.5 1533.4 383.6 1537.7 382.9" stroke="#ee4848" stroke-width="16.3" transform="translate(-1.5,-2)"/><path d="M1475.1 390.7C1477.4 390.7 1482.6 391.4 1488.8 390.7C1495 390.1 1504.1 388.1 1512.3 386.8C1520.4 385.5 1533.4 383.6 1537.7 382.9" stroke="#ffb4b4" stroke-width="5.4" transform="translate(-2.5,-3)" opacity=".8"/></g></g><g opacity="0.92" fill="none" stroke-linecap="round" stroke-linejoin="round"><path d="M1537.7 382.9C1541.9 384.9 1554.3 391 1563.1 394.6C1571.9 398.2 1582 401.1 1590.4 404.4C1598.9 407.7 1610 412.5 1613.9 414.2" stroke="#a81414" stroke-width="29.2"/><g filter="url(#b2)"><path d="M1537.7 382.9C1541.9 384.9 1554.3 391 1563.1 394.6C1571.9 398.2 1582 401.1 1590.4 404.4C1598.9 407.7 1610 412.5 1613.9 414.2" stroke="#d42424" stroke-width="21"/><path d="M1537.7 382.9C1541.9 384.9 1554.3 391 1563.1 394.6C1571.9 398.2 1582 401.1 1590.4 404.4C1598.9 407.7 1610 412.5 1613.9 414.2" stroke="#ee4848" stroke-width="12.2" transform="translate(-1.5,-2)"/><path d="M1537.7 382.9C1541.9 384.9 1554.3 391 1563.1 394.6C1571.9 398.2 1582 401.1 1590.4 404.4C1598.9 407.7 1610 412.5 1613.9 414.2" stroke="#ffb4b4" stroke-width="4.1" transform="translate(-2.5,-3)" opacity=".8"/></g></g><g opacity="0.95" fill="none" stroke-linecap="round" stroke-linejoin="round"><path d="M1393 519.7C1390.8 516.5 1384.2 507.3 1379.4 500.2C1374.5 493 1368.9 485.8 1363.7 476.7C1358.5 467.6 1350.7 457.2 1348.1 445.5C1345.5 433.7 1346.8 418.1 1348.1 406.4C1349.4 394.6 1350.7 385.5 1355.9 375.1C1361.1 364.7 1370.9 352.9 1379.4 343.8C1387.8 334.7 1397.6 327.2 1406.7 320.4C1415.8 313.5 1424.3 306.8 1434.1 302.8C1443.9 298.7 1454.3 297 1465.4 296.1C1476.4 295.3 1490.8 296.6 1500.5 297.7C1510.3 298.8 1518.5 299 1524 302.8C1529.5 306.6 1531.5 312.2 1533.8 320.4C1536 328.5 1537 341.2 1537.7 351.6C1538.3 362.1 1537.7 377.7 1537.7 382.9" stroke="#a81414" stroke-width="29.2"/><g filter="url(#b2)"><path d="M1393 519.7C1390.8 516.5 1384.2 507.3 1379.4 500.2C1374.5 493 1368.9 485.8 1363.7 476.7C1358.5 467.6 1350.7 457.2 1348.1 445.5C1345.5 433.7 1346.8 418.1 1348.1 406.4C1349.4 394.6 1350.7 385.5 1355.9 375.1C1361.1 364.7 1370.9 352.9 1379.4 343.8C1387.8 334.7 1397.6 327.2 1406.7 320.4C1415.8 313.5 1424.3 306.8 1434.1 302.8C1443.9 298.7 1454.3 297 1465.4 296.1C1476.4 295.3 1490.8 296.6 1500.5 297.7C1510.3 298.8 1518.5 299 1524 302.8C1529.5 306.6 1531.5 312.2 1533.8 320.4C1536 328.5 1537 341.2 1537.7 351.6C1538.3 362.1 1537.7 377.7 1537.7 382.9" stroke="#d42424" stroke-width="21"/><path d="M1393 519.7C1390.8 516.5 1384.2 507.3 1379.4 500.2C1374.5 493 1368.9 485.8 1363.7 476.7C1358.5 467.6 1350.7 457.2 1348.1 445.5C1345.5 433.7 1346.8 418.1 1348.1 406.4C1349.4 394.6 1350.7 385.5 1355.9 375.1C1361.1 364.7 1370.9 352.9 1379.4 343.8C1387.8 334.7 1397.6 327.2 1406.7 320.4C1415.8 313.5 1424.3 306.8 1434.1 302.8C1443.9 298.7 1454.3 297 1465.4 296.1C1476.4 295.3 1490.8 296.6 1500.5 297.7C1510.3 298.8 1518.5 299 1524 302.8C1529.5 306.6 1531.5 312.2 1533.8 320.4C1536 328.5 1537 341.2 1537.7 351.6C1538.3 362.1 1537.7 377.7 1537.7 382.9" stroke="#ee4848" stroke-width="12.2" transform="translate(-1.5,-2)"/><path d="M1393 519.7C1390.8 516.5 1384.2 507.3 1379.4 500.2C1374.5 493 1368.9 485.8 1363.7 476.7C1358.5 467.6 1350.7 457.2 1348.1 445.5C1345.5 433.7 1346.8 418.1 1348.1 406.4C1349.4 394.6 1350.7 385.5 1355.9 375.1C1361.1 364.7 1370.9 352.9 1379.4 343.8C1387.8 334.7 1397.6 327.2 1406.7 320.4C1415.8 313.5 1424.3 306.8 1434.1 302.8C1443.9 298.7 1454.3 297 1465.4 296.1C1476.4 295.3 1490.8 296.6 1500.5 297.7C1510.3 298.8 1518.5 299 1524 302.8C1529.5 306.6 1531.5 312.2 1533.8 320.4C1536 328.5 1537 341.2 1537.7 351.6C1538.3 362.1 1537.7 377.7 1537.7 382.9" stroke="#ffb4b4" stroke-width="4.1" transform="translate(-2.5,-3)" opacity=".8"/></g></g><g opacity="0.97" fill="none" stroke-linecap="round" stroke-linejoin="round"><path d="M1314.9 551C1319.7 549 1336 545.1 1344.2 539.3C1352.3 533.4 1357.2 523.6 1363.7 515.8C1370.2 508 1375.5 497.6 1383.3 492.4C1391.1 487.1 1402.2 487.1 1410.6 484.5C1419.1 481.9 1428.2 479.3 1434.1 476.7C1439.9 474.1 1444.5 475.4 1445.8 468.9C1447.1 462.4 1443.9 448.1 1441.9 437.6C1439.9 427.2 1436.4 418.1 1434.1 406.4C1431.8 394.6 1426.3 379 1428.2 367.3C1430.2 355.5 1438.3 345.8 1445.8 336C1453.3 326.2 1464.1 315.7 1473.2 308.6C1482.3 301.6 1490.8 295.7 1500.5 293.8C1510.3 291.8 1520.1 293.8 1531.8 296.9C1543.5 300 1559.2 307.3 1570.9 312.5C1582.6 317.8 1594 322.3 1602.2 328.2C1610.3 334 1617.8 339.3 1619.8 347.7C1621.7 356.2 1616.8 369.2 1613.9 379C1611 388.8 1607.4 398.5 1602.2 406.4C1597 414.2 1589.8 420.7 1582.6 425.9C1575.5 431.1 1567.3 434.7 1559.2 437.6C1551 440.6 1538 442.5 1533.8 443.5" stroke="#121292" stroke-width="30.2"/><g filter="url(#b2)"><path d="M1314.9 551C1319.7 549 1336 545.1 1344.2 539.3C1352.3 533.4 1357.2 523.6 1363.7 515.8C1370.2 508 1375.5 497.6 1383.3 492.4C1391.1 487.1 1402.2 487.1 1410.6 484.5C1419.1 481.9 1428.2 479.3 1434.1 476.7C1439.9 474.1 1444.5 475.4 1445.8 468.9C1447.1 462.4 1443.9 448.1 1441.9 437.6C1439.9 427.2 1436.4 418.1 1434.1 406.4C1431.8 394.6 1426.3 379 1428.2 367.3C1430.2 355.5 1438.3 345.8 1445.8 336C1453.3 326.2 1464.1 315.7 1473.2 308.6C1482.3 301.6 1490.8 295.7 1500.5 293.8C1510.3 291.8 1520.1 293.8 1531.8 296.9C1543.5 300 1559.2 307.3 1570.9 312.5C1582.6 317.8 1594 322.3 1602.2 328.2C1610.3 334 1617.8 339.3 1619.8 347.7C1621.7 356.2 1616.8 369.2 1613.9 379C1611 388.8 1607.4 398.5 1602.2 406.4C1597 414.2 1589.8 420.7 1582.6 425.9C1575.5 431.1 1567.3 434.7 1559.2 437.6C1551 440.6 1538 442.5 1533.8 443.5" stroke="#1a1ac6" stroke-width="21.8"/><path d="M1314.9 551C1319.7 549 1336 545.1 1344.2 539.3C1352.3 533.4 1357.2 523.6 1363.7 515.8C1370.2 508 1375.5 497.6 1383.3 492.4C1391.1 487.1 1402.2 487.1 1410.6 484.5C1419.1 481.9 1428.2 479.3 1434.1 476.7C1439.9 474.1 1444.5 475.4 1445.8 468.9C1447.1 462.4 1443.9 448.1 1441.9 437.6C1439.9 427.2 1436.4 418.1 1434.1 406.4C1431.8 394.6 1426.3 379 1428.2 367.3C1430.2 355.5 1438.3 345.8 1445.8 336C1453.3 326.2 1464.1 315.7 1473.2 308.6C1482.3 301.6 1490.8 295.7 1500.5 293.8C1510.3 291.8 1520.1 293.8 1531.8 296.9C1543.5 300 1559.2 307.3 1570.9 312.5C1582.6 317.8 1594 322.3 1602.2 328.2C1610.3 334 1617.8 339.3 1619.8 347.7C1621.7 356.2 1616.8 369.2 1613.9 379C1611 388.8 1607.4 398.5 1602.2 406.4C1597 414.2 1589.8 420.7 1582.6 425.9C1575.5 431.1 1567.3 434.7 1559.2 437.6C1551 440.6 1538 442.5 1533.8 443.5" stroke="#3636ee" stroke-width="12.7" transform="translate(-1.5,-2)"/><path d="M1314.9 551C1319.7 549 1336 545.1 1344.2 539.3C1352.3 533.4 1357.2 523.6 1363.7 515.8C1370.2 508 1375.5 497.6 1383.3 492.4C1391.1 487.1 1402.2 487.1 1410.6 484.5C1419.1 481.9 1428.2 479.3 1434.1 476.7C1439.9 474.1 1444.5 475.4 1445.8 468.9C1447.1 462.4 1443.9 448.1 1441.9 437.6C1439.9 427.2 1436.4 418.1 1434.1 406.4C1431.8 394.6 1426.3 379 1428.2 367.3C1430.2 355.5 1438.3 345.8 1445.8 336C1453.3 326.2 1464.1 315.7 1473.2 308.6C1482.3 301.6 1490.8 295.7 1500.5 293.8C1510.3 291.8 1520.1 293.8 1531.8 296.9C1543.5 300 1559.2 307.3 1570.9 312.5C1582.6 317.8 1594 322.3 1602.2 328.2C1610.3 334 1617.8 339.3 1619.8 347.7C1621.7 356.2 1616.8 369.2 1613.9 379C1611 388.8 1607.4 398.5 1602.2 406.4C1597 414.2 1589.8 420.7 1582.6 425.9C1575.5 431.1 1567.3 434.7 1559.2 437.6C1551 440.6 1538 442.5 1533.8 443.5" stroke="#9c9cff" stroke-width="4.2" transform="translate(-2.5,-3)" opacity=".8"/></g></g><path d="M1464.4 53L1054.6 226L1078 715L1464.3 940L1851.6 715L1874.8 226Z" fill="none" stroke="#202020" stroke-width="3.6" stroke-linejoin="miter"/><text x="1028" y="124.6" font-size="86" font-weight="bold">b</text><g font-size="72" font-style="italic" text-anchor="middle"><text transform="translate(1032 441) rotate(-90)">y</text><text transform="translate(1219 886) rotate(31)">τ</text><text transform="translate(1722 886) rotate(-31)">x</text></g><path d="M524.2 985.6L524.1 1451.2M137.8 1647.6L524.1 1451.2L911.4 1647.6" fill="none" stroke="#262626" stroke-width="2.6"/><path d="M289.1 1492.7C275.4 1496 294.3 1531.8 300.8 1551.4C307.3 1570.9 317.1 1592.4 328.2 1610C339.3 1627.6 352.9 1644.8 367.3 1656.9C381.6 1669 397.2 1678.7 414.2 1682.3C431.1 1685.9 452 1681.7 468.9 1678.4C485.8 1675.1 502.8 1669.6 515.8 1662.8C528.8 1655.9 535.4 1640 547.1 1637.4C558.8 1634.7 573.1 1648.4 586.2 1647.1C599.2 1645.8 613.5 1639.6 625.3 1629.5C637 1619.4 650 1609.3 656.5 1586.5C663.1 1563.7 655.2 1512.3 664.4 1492.7C673.5 1473.2 698.2 1479 711.3 1469.3C724.3 1459.5 738 1447.1 742.5 1434.1C747.1 1421.1 742.5 1404.8 738.6 1391.1C734.7 1377.4 735.4 1359.8 719.1 1352C702.8 1344.2 667 1344.8 640.9 1344.2C614.8 1343.5 582.9 1341.6 562.7 1348.1C542.5 1354.6 532.8 1369.6 519.7 1383.3C506.7 1396.9 491.7 1411.9 484.5 1430.2C477.4 1448.4 479.3 1478.4 476.7 1492.7C474.1 1507.1 484.5 1509.7 468.9 1516.2C453.3 1522.7 412.9 1535.7 382.9 1531.8C352.9 1527.9 302.8 1489.5 289.1 1492.7Z" fill="#b4ccc0" fill-opacity=".62" filter="url(#b2)"/><path d="M289.1 1492.7C287.8 1499.2 294.3 1531.8 300.8 1551.4C307.3 1570.9 317.1 1592.4 328.2 1610C339.3 1627.6 352.9 1645.2 367.3 1656.9C381.6 1668.6 397.2 1677.1 414.2 1680.4C431.1 1683.6 452 1679.7 468.9 1676.4C485.8 1673.2 504.1 1666.7 515.8 1660.8C527.5 1654.9 538 1649.7 539.3 1641.3C540.6 1632.8 531.4 1621.7 523.6 1610C515.8 1598.3 498.9 1583.9 492.4 1570.9C485.8 1557.9 488.4 1540.9 484.5 1531.8C480.6 1522.7 485.8 1516.2 468.9 1516.2C452 1516.2 409.6 1532.5 382.9 1531.8C356.2 1531.2 324.3 1518.8 308.6 1512.3C293 1505.8 290.4 1486.2 289.1 1492.7Z" fill="#cfe4ec" fill-opacity="0.65" filter="url(#b1)"/><path d="M296.4 1498C295.2 1504.2 302.6 1535.7 309.4 1554C316.2 1572.4 326.4 1592 337 1608C347.5 1623.9 359.8 1639.2 372.8 1649.8C385.8 1660.4 399.5 1668.2 414.8 1671.4C430.1 1674.5 448.9 1671.2 464.5 1668.6C480.2 1665.9 497.5 1660.5 508.6 1655.4C519.7 1650.2 530 1645.5 531 1637.6C532.1 1629.8 522.7 1618.9 514.8 1608.2C506.9 1597.4 489.8 1584.8 483.6 1573.1C477.5 1561.3 481.1 1546 477.8 1537.8C474.5 1529.5 478.9 1523.4 463.9 1523.7C448.9 1523.9 412.5 1540.4 387.8 1539.3C363.2 1538.3 331.3 1524.2 316.1 1517.4C300.8 1510.5 297.5 1491.9 296.4 1498Z" fill="#9ab7a1" fill-opacity="0.72" filter="url(#b2)"/><path d="M310.1 1508.1C309.3 1513.4 318.4 1543.1 325.6 1559.1C332.9 1575.1 343.9 1591.3 353.5 1604.2C363.1 1617 372.8 1628 383.2 1636.4C393.6 1644.8 403.7 1651.5 415.9 1654.4C428.1 1657.3 443.1 1655.2 456.3 1653.7C469.5 1652.2 485.2 1649 495.1 1645.1C504.9 1641.3 515 1637.5 515.5 1630.8C516 1624 506.2 1613.7 498.2 1604.8C490.1 1595.8 472.6 1586.4 467.1 1577.2C461.6 1567.9 467.2 1555.6 465.1 1549.1C463 1542.5 465.8 1537 454.4 1537.8C443.1 1538.5 417.9 1555.3 397.2 1553.5C376.5 1551.7 344.6 1534.5 330.1 1527C315.6 1519.4 310.8 1502.7 310.1 1508.1Z" fill="#86a78e" fill-opacity="0.27" filter="url(#b4)"/><path d="M484.5 1430.2C491.7 1417.1 510.6 1415.8 523.6 1414.5C536.7 1413.2 554.9 1415.8 562.7 1422.4C570.5 1428.9 570.5 1441.9 570.5 1453.6C570.5 1465.4 566.6 1479.7 562.7 1492.7C558.8 1505.8 553.6 1518.8 547.1 1531.8C540.6 1544.8 531.4 1561.8 523.6 1570.9C515.8 1580 506.7 1589.8 500.2 1586.5C493.7 1583.3 487.8 1567 484.5 1551.4C481.3 1535.7 480.6 1512.9 480.6 1492.7C480.6 1472.5 477.4 1443.2 484.5 1430.2Z" fill="#cfe4ec" fill-opacity="0.55" filter="url(#b1)"/><path d="M489.2 1437.9C494.9 1426.3 512.1 1424.8 523.7 1423.5C535.2 1422.3 551.8 1424.3 558.5 1430.3C565.2 1436.3 564.6 1449.1 563.8 1459.6C563 1470.1 557.3 1482.4 553.7 1493.2C550.2 1503.9 547.3 1512.7 542.3 1524.2C537.3 1535.6 530.3 1553 523.7 1561.9C517 1570.8 508.1 1580.8 502.4 1577.8C496.8 1574.8 491.8 1558.1 489.7 1544C487.5 1529.9 489.7 1510.8 489.6 1493.1C489.5 1475.4 483.6 1449.4 489.2 1437.9Z" fill="#9ab7a1" fill-opacity="0.62" filter="url(#b2)"/><path d="M498.1 1452.4C501 1443.5 515 1441.7 523.8 1440.5C532.5 1439.4 545.9 1440.2 550.5 1445.3C555 1450.3 553.3 1462.7 551 1470.8C548.8 1479 539.7 1487.5 536.8 1494C533.8 1500.5 535.5 1501.2 533.4 1509.7C531.2 1518.2 528.2 1536.3 523.8 1544.9C519.3 1553.5 510.8 1563.8 506.7 1561.4C502.6 1558.9 499.4 1541.3 499.4 1530C499.4 1518.8 506.8 1506.8 506.6 1493.9C506.4 1480.9 495.3 1461.2 498.1 1452.4Z" fill="#86a78e" fill-opacity="0.225" filter="url(#b4)"/><path d="M562.7 1398.9C567.9 1392.4 588.8 1409.3 601.8 1414.5C614.8 1419.8 627.9 1428.9 640.9 1430.2C653.9 1431.5 667 1428.9 680 1422.4C693 1415.8 709.3 1395 719.1 1391.1C728.9 1387.2 734.7 1391.7 738.6 1398.9C742.5 1406.1 747.1 1422.4 742.5 1434.1C738 1445.8 724.3 1460.8 711.3 1469.3C698.2 1477.7 672.8 1474.5 664.4 1484.9C655.9 1495.3 661.7 1514.9 660.4 1531.8C659.1 1548.7 662.4 1570.2 656.5 1586.5C650.7 1602.8 637 1619.8 625.3 1629.5C613.5 1639.3 599.2 1644.5 586.2 1645.2C573.1 1645.8 554.9 1640.6 547.1 1633.4C539.3 1626.3 536.7 1615.2 539.3 1602.2C541.9 1589.1 556.9 1570.2 562.7 1555.3C568.6 1540.3 573.1 1529.2 574.4 1512.3C575.8 1495.3 572.5 1472.5 570.5 1453.6C568.6 1434.7 557.5 1405.4 562.7 1398.9Z" fill="#cfe4ec" fill-opacity="0.65" filter="url(#b1)"/><path d="M567.8 1406.3C572.4 1400.3 592.9 1417.5 604.9 1423C616.9 1428.5 628.1 1437.9 639.8 1439.1C651.5 1440.3 663 1436.9 675.3 1430C687.6 1423.2 704 1402.3 713.5 1398.1C722.9 1394 728.5 1398.3 732.1 1405.1C735.7 1411.9 739.7 1427.5 734.8 1438.7C729.9 1449.9 716 1464.2 702.9 1472.5C689.8 1480.8 664.2 1479.9 656.2 1488.7C648.1 1497.4 654.9 1510.2 654.5 1525C654.2 1539.9 658.9 1561.9 654.1 1577.9C649.3 1593.8 636.6 1610.8 625.8 1620.5C614.9 1630.3 601.2 1635.7 588.9 1636.6C576.6 1637.5 559.2 1632.7 551.9 1625.9C544.7 1619 542.3 1608.2 545.3 1595.5C548.3 1582.8 563.4 1563.8 569.8 1549.7C576.1 1535.5 581.9 1525.5 583.2 1510.4C584.6 1495.2 580.3 1476.3 577.8 1459C575.2 1441.7 563.3 1412.3 567.8 1406.3Z" fill="#9ab7a1" fill-opacity="0.72" filter="url(#b2)"/><path d="M577.5 1420.3C580.7 1415.3 600.6 1433.1 610.6 1439C620.7 1445 628.5 1455.1 637.8 1456C647 1456.9 655.5 1451.9 666.4 1444.5C677.2 1437.1 694 1416 702.9 1411.4C711.8 1406.8 716.9 1410.8 719.8 1416.8C722.7 1422.8 725.7 1437.1 720.2 1447.4C714.7 1457.7 700 1470.6 687 1478.6C674 1486.6 649.3 1489.6 642 1495.2C634.7 1500.8 642.1 1501.2 643.4 1512.2C644.6 1523.3 652.4 1546.3 649.6 1561.5C646.8 1576.7 636 1593.8 626.7 1603.6C617.4 1613.4 605 1619.1 594.1 1620.4C583.1 1621.7 567.3 1617.8 561.1 1611.5C554.9 1605.3 553.1 1595 556.8 1582.9C560.4 1570.9 575.9 1551.8 583 1539.1C590.2 1526.4 598.5 1518.4 599.9 1506.7C601.2 1495.1 595.1 1483.6 591.4 1469.1C587.7 1454.7 574.3 1425.3 577.5 1420.3Z" fill="#86a78e" fill-opacity="0.27" filter="url(#b4)"/><path d="M328.2 1531.8C323 1538.3 362.1 1556.6 375.1 1570.9C388.1 1585.2 393.3 1604.8 406.4 1617.8C419.4 1630.8 438.9 1645.2 453.3 1649.1C467.6 1653 487.1 1651 492.4 1641.3C497.6 1631.5 491.1 1605.4 484.5 1590.4C478 1575.5 466.3 1561.1 453.3 1551.4C440.2 1541.6 427.2 1535.1 406.4 1531.8C385.5 1528.6 333.4 1525.3 328.2 1531.8Z" fill="#98b48e" fill-opacity="0.4" filter="url(#b8)"/><path d="M523.6 1430.2C526.2 1415.8 545.8 1401.5 554.9 1398.9C564 1396.3 573.1 1404.1 578.4 1414.5C583.6 1425 588.8 1448.4 586.2 1461.4C583.6 1474.5 570.5 1488.8 562.7 1492.7C554.9 1496.6 545.8 1495.3 539.3 1484.9C532.8 1474.5 521 1444.5 523.6 1430.2Z" fill="#e2e672" fill-opacity="0.6" filter="url(#b8)"/><path d="M601.8 1453.6C605.7 1447.1 620.7 1451.7 625.3 1461.4C629.8 1471.2 630.5 1499.2 629.2 1512.3C627.9 1525.3 622 1541.6 617.4 1539.6C612.9 1537.7 604.4 1514.9 601.8 1500.5C599.2 1486.2 597.9 1460.1 601.8 1453.6Z" fill="#e2e672" fill-opacity="0.5" filter="url(#b8)"/><g opacity="0.85" fill="none" stroke-linecap="round" stroke-linejoin="round"><path d="M386.8 1531.8C388.8 1538.3 394 1559.8 398.5 1570.9C403.1 1582 409 1591.7 414.2 1598.3C419.4 1604.8 422 1608.4 429.8 1610C437.6 1611.6 448.7 1609 461.1 1608C473.5 1607.1 496.9 1604.8 504.1 1604.1" stroke="#a81414" stroke-width="29.2"/><g filter="url(#b2)"><path d="M386.8 1531.8C388.8 1538.3 394 1559.8 398.5 1570.9C403.1 1582 409 1591.7 414.2 1598.3C419.4 1604.8 422 1608.4 429.8 1610C437.6 1611.6 448.7 1609 461.1 1608C473.5 1607.1 496.9 1604.8 504.1 1604.1" stroke="#d42424" stroke-width="21"/><path d="M386.8 1531.8C388.8 1538.3 394 1559.8 398.5 1570.9C403.1 1582 409 1591.7 414.2 1598.3C419.4 1604.8 422 1608.4 429.8 1610C437.6 1611.6 448.7 1609 461.1 1608C473.5 1607.1 496.9 1604.8 504.1 1604.1" stroke="#ee4848" stroke-width="12.2" transform="translate(-1.5,-2)"/><path d="M386.8 1531.8C388.8 1538.3 394 1559.8 398.5 1570.9C403.1 1582 409 1591.7 414.2 1598.3C419.4 1604.8 422 1608.4 429.8 1610C437.6 1611.6 448.7 1609 461.1 1608C473.5 1607.1 496.9 1604.8 504.1 1604.1" stroke="#ffb4b4" stroke-width="4.1" transform="translate(-2.5,-3)" opacity=".8"/></g></g><g opacity="0.6" fill="none" stroke-linecap="round" stroke-linejoin="round"><path d="M508 1500.5C508.6 1495.3 508 1478.4 511.9 1469.3C515.8 1460.1 525.6 1452.3 531.4 1445.8C537.3 1439.3 544.5 1432.8 547.1 1430.2" stroke="#a81414" stroke-width="27"/><g filter="url(#b2)"><path d="M508 1500.5C508.6 1495.3 508 1478.4 511.9 1469.3C515.8 1460.1 525.6 1452.3 531.4 1445.8C537.3 1439.3 544.5 1432.8 547.1 1430.2" stroke="#d42424" stroke-width="19.4"/><path d="M508 1500.5C508.6 1495.3 508 1478.4 511.9 1469.3C515.8 1460.1 525.6 1452.3 531.4 1445.8C537.3 1439.3 544.5 1432.8 547.1 1430.2" stroke="#ee4848" stroke-width="11.3" transform="translate(-1.5,-2)"/><path d="M508 1500.5C508.6 1495.3 508 1478.4 511.9 1469.3C515.8 1460.1 525.6 1452.3 531.4 1445.8C537.3 1439.3 544.5 1432.8 547.1 1430.2" stroke="#ffb4b4" stroke-width="3.8" transform="translate(-2.5,-3)" opacity=".8"/></g></g><g opacity="0.6" fill="none" stroke-linecap="round" stroke-linejoin="round"><path d="M640.9 1430.2C646.1 1429.5 662.4 1428.9 672.2 1426.3C681.9 1423.7 695 1416.5 699.5 1414.5" stroke="#a81414" stroke-width="23.8"/><g filter="url(#b2)"><path d="M640.9 1430.2C646.1 1429.5 662.4 1428.9 672.2 1426.3C681.9 1423.7 695 1416.5 699.5 1414.5" stroke="#d42424" stroke-width="17.1"/><path d="M640.9 1430.2C646.1 1429.5 662.4 1428.9 672.2 1426.3C681.9 1423.7 695 1416.5 699.5 1414.5" stroke="#ee4848" stroke-width="10" transform="translate(-1.5,-2)"/><path d="M640.9 1430.2C646.1 1429.5 662.4 1428.9 672.2 1426.3C681.9 1423.7 695 1416.5 699.5 1414.5" stroke="#ffb4b4" stroke-width="3.3" transform="translate(-2.5,-3)" opacity=".8"/></g></g><g opacity="0.6" fill="none" stroke-linecap="round" stroke-linejoin="round"><path d="M453.3 1477.1C458.5 1479 475.4 1484.9 484.5 1488.8C493.7 1492.7 504.1 1498.6 508 1500.5" stroke="#121292" stroke-width="27"/><g filter="url(#b2)"><path d="M453.3 1477.1C458.5 1479 475.4 1484.9 484.5 1488.8C493.7 1492.7 504.1 1498.6 508 1500.5" stroke="#1a1ac6" stroke-width="19.4"/><path d="M453.3 1477.1C458.5 1479 475.4 1484.9 484.5 1488.8C493.7 1492.7 504.1 1498.6 508 1500.5" stroke="#3636ee" stroke-width="11.3" transform="translate(-1.5,-2)"/><path d="M453.3 1477.1C458.5 1479 475.4 1484.9 484.5 1488.8C493.7 1492.7 504.1 1498.6 508 1500.5" stroke="#9c9cff" stroke-width="3.8" transform="translate(-2.5,-3)" opacity=".8"/></g></g><g opacity="0.85" fill="none" stroke-linecap="round" stroke-linejoin="round"><path d="M586.2 1387.2C586.2 1393 583.6 1411.3 586.2 1422.4C588.8 1433.4 597.2 1443.2 601.8 1453.6C606.4 1464.1 612.2 1475.1 613.5 1484.9C614.8 1494.7 612.2 1502.5 609.6 1512.3C607 1522 602.5 1533.8 597.9 1543.5C593.3 1553.3 589.4 1563.1 582.3 1570.9C575.1 1578.7 562.7 1583.9 554.9 1590.4C547.1 1597 541.2 1604.8 535.4 1610C529.5 1615.2 524.9 1620.4 519.7 1621.7C514.5 1623 506.7 1618.5 504.1 1617.8" stroke="#121292" stroke-width="29.2"/><g filter="url(#b2)"><path d="M586.2 1387.2C586.2 1393 583.6 1411.3 586.2 1422.4C588.8 1433.4 597.2 1443.2 601.8 1453.6C606.4 1464.1 612.2 1475.1 613.5 1484.9C614.8 1494.7 612.2 1502.5 609.6 1512.3C607 1522 602.5 1533.8 597.9 1543.5C593.3 1553.3 589.4 1563.1 582.3 1570.9C575.1 1578.7 562.7 1583.9 554.9 1590.4C547.1 1597 541.2 1604.8 535.4 1610C529.5 1615.2 524.9 1620.4 519.7 1621.7C514.5 1623 506.7 1618.5 504.1 1617.8" stroke="#1a1ac6" stroke-width="21"/><path d="M586.2 1387.2C586.2 1393 583.6 1411.3 586.2 1422.4C588.8 1433.4 597.2 1443.2 601.8 1453.6C606.4 1464.1 612.2 1475.1 613.5 1484.9C614.8 1494.7 612.2 1502.5 609.6 1512.3C607 1522 602.5 1533.8 597.9 1543.5C593.3 1553.3 589.4 1563.1 582.3 1570.9C575.1 1578.7 562.7 1583.9 554.9 1590.4C547.1 1597 541.2 1604.8 535.4 1610C529.5 1615.2 524.9 1620.4 519.7 1621.7C514.5 1623 506.7 1618.5 504.1 1617.8" stroke="#3636ee" stroke-width="12.2" transform="translate(-1.5,-2)"/><path d="M586.2 1387.2C586.2 1393 583.6 1411.3 586.2 1422.4C588.8 1433.4 597.2 1443.2 601.8 1453.6C606.4 1464.1 612.2 1475.1 613.5 1484.9C614.8 1494.7 612.2 1502.5 609.6 1512.3C607 1522 602.5 1533.8 597.9 1543.5C593.3 1553.3 589.4 1563.1 582.3 1570.9C575.1 1578.7 562.7 1583.9 554.9 1590.4C547.1 1597 541.2 1604.8 535.4 1610C529.5 1615.2 524.9 1620.4 519.7 1621.7C514.5 1623 506.7 1618.5 504.1 1617.8" stroke="#9c9cff" stroke-width="4.1" transform="translate(-2.5,-3)" opacity=".8"/></g></g><path opacity=".55" d="M524.2 985.6L524.1 1451.2M137.8 1647.6L524.1 1451.2L911.4 1647.6" fill="none" stroke="#262626" stroke-width="2.6"/><path d="M287.1 1484.9C287.1 1475.8 294 1462.1 300.8 1453.6C307.7 1445.2 317.8 1438.6 328.2 1434.1C338.6 1429.5 351.6 1426.9 363.4 1426.3C375.1 1425.6 391.4 1426.3 398.5 1430.2C405.7 1434.1 403.9 1449.7 406.4 1449.7C408.8 1449.7 410.8 1436.2 413.4 1430.2C416 1424.2 418.7 1417.4 422 1413.8C425.3 1410.1 429 1408.4 432.9 1408.3C436.9 1408.2 439.5 1410.6 445.5 1413C451.4 1415.3 461.1 1418.2 468.9 1422.4C476.7 1426.5 487.1 1432.8 492.4 1438C497.6 1443.2 501.5 1448.4 500.2 1453.6C498.9 1458.8 492.4 1465.4 484.5 1469.3C476.7 1473.2 454.6 1473.8 453.3 1477.1C452 1480.3 471.5 1484.9 476.7 1488.8C481.9 1492.7 485.8 1496 484.5 1500.5C483.2 1505.1 478 1511.6 468.9 1516.2C459.8 1520.7 444.1 1525.3 429.8 1527.9C415.5 1530.5 398.5 1532.5 382.9 1531.8C367.3 1531.2 349.7 1527.9 336 1524C322.3 1520.1 309 1514.9 300.8 1508.4C292.7 1501.8 287.1 1494 287.1 1484.9Z" fill="#cbcbf6" opacity="0.96" filter="url(#b1)"/><path d="M527.5 1363.7C527.5 1358.5 539.3 1351.3 547.1 1348.1C554.9 1344.8 565.3 1343.5 574.4 1344.2C583.6 1344.8 594 1349.4 601.8 1352C609.6 1354.6 614.8 1360.5 621.4 1359.8C627.9 1359.2 632.4 1351.3 640.9 1348.1C649.4 1344.8 661.7 1340.9 672.2 1340.3C682.6 1339.6 695 1341.6 703.4 1344.2C711.9 1346.8 719.1 1350.7 723 1355.9C726.9 1361.1 728.9 1368.3 726.9 1375.5C724.9 1382.6 717.8 1392.4 711.3 1398.9C704.7 1405.4 696.9 1410.6 687.8 1414.5C678.7 1418.4 667 1422.4 656.5 1422.4C646.1 1422.4 635.7 1417.8 625.3 1414.5C614.8 1411.3 603.1 1406.7 594 1402.8C584.9 1398.9 578.4 1395 570.5 1391.1C562.7 1387.2 554.3 1383.9 547.1 1379.4C539.9 1374.8 527.5 1368.9 527.5 1363.7Z" fill="#cbcbf6" opacity="0.96" filter="url(#b1)"/><ellipse cx="355.5" cy="1477.1" rx="85" ry="36" fill="url(#core2)" transform="rotate(-5 355.5 1477.1)"/><ellipse cx="453.3" cy="1449.7" rx="64" ry="30" fill="url(#core)" transform="rotate(-6 453.3 1449.7)"/><ellipse cx="584.2" cy="1355.9" rx="56" ry="24" fill="url(#core)" transform="rotate(-6 584.2 1355.9)"/><ellipse cx="656.5" cy="1379.4" rx="60" ry="28" fill="url(#core)" transform="rotate(-6 656.5 1379.4)"/><path opacity=".22" d="M524.2 985.6L524.1 1451.2M137.8 1647.6L524.1 1451.2L911.4 1647.6" fill="none" stroke="#262626" stroke-width="2.6"/><g opacity="0.6" fill="none" stroke-linecap="round" stroke-linejoin="round"><path d="M584.2 1352C584.2 1357.2 584.2 1378.1 584.2 1383.3" stroke="#121292" stroke-width="21.6"/><g filter="url(#b2)"><path d="M584.2 1352C584.2 1357.2 584.2 1378.1 584.2 1383.3" stroke="#1a1ac6" stroke-width="15.6"/><path d="M584.2 1352C584.2 1357.2 584.2 1378.1 584.2 1383.3" stroke="#3636ee" stroke-width="9.1" transform="translate(-1.5,-2)"/><path d="M584.2 1352C584.2 1357.2 584.2 1378.1 584.2 1383.3" stroke="#9c9cff" stroke-width="3" transform="translate(-2.5,-3)" opacity=".8"/></g></g><g opacity="1" fill="none" stroke-linecap="round" stroke-linejoin="round"><path d="M386.8 1492.7C386.8 1486.2 386.8 1464.1 386.8 1453.6C386.8 1443.2 385.5 1440.6 386.8 1430.2C388.1 1419.8 390.1 1405.4 394.6 1391.1C399.2 1376.8 406.4 1359.8 414.2 1344.2C422 1328.5 433.1 1311.6 441.5 1297.3C450 1282.9 458.5 1268.3 465 1258.2C471.5 1248.1 475.4 1240.6 480.6 1236.7C485.8 1232.8 491.1 1232.4 496.3 1234.7C501.5 1237 506 1243.8 511.9 1250.4C517.8 1256.9 523 1266 531.4 1273.8C539.9 1281.6 551 1288.1 562.7 1297.3C574.4 1306.4 588.8 1318.1 601.8 1328.5C614.8 1339 630.5 1351.3 640.9 1359.8C651.3 1368.3 660.4 1376.1 664.4 1379.4" stroke="#a81414" stroke-width="29.2"/><g filter="url(#b2)"><path d="M386.8 1492.7C386.8 1486.2 386.8 1464.1 386.8 1453.6C386.8 1443.2 385.5 1440.6 386.8 1430.2C388.1 1419.8 390.1 1405.4 394.6 1391.1C399.2 1376.8 406.4 1359.8 414.2 1344.2C422 1328.5 433.1 1311.6 441.5 1297.3C450 1282.9 458.5 1268.3 465 1258.2C471.5 1248.1 475.4 1240.6 480.6 1236.7C485.8 1232.8 491.1 1232.4 496.3 1234.7C501.5 1237 506 1243.8 511.9 1250.4C517.8 1256.9 523 1266 531.4 1273.8C539.9 1281.6 551 1288.1 562.7 1297.3C574.4 1306.4 588.8 1318.1 601.8 1328.5C614.8 1339 630.5 1351.3 640.9 1359.8C651.3 1368.3 660.4 1376.1 664.4 1379.4" stroke="#d42424" stroke-width="21"/><path d="M386.8 1492.7C386.8 1486.2 386.8 1464.1 386.8 1453.6C386.8 1443.2 385.5 1440.6 386.8 1430.2C388.1 1419.8 390.1 1405.4 394.6 1391.1C399.2 1376.8 406.4 1359.8 414.2 1344.2C422 1328.5 433.1 1311.6 441.5 1297.3C450 1282.9 458.5 1268.3 465 1258.2C471.5 1248.1 475.4 1240.6 480.6 1236.7C485.8 1232.8 491.1 1232.4 496.3 1234.7C501.5 1237 506 1243.8 511.9 1250.4C517.8 1256.9 523 1266 531.4 1273.8C539.9 1281.6 551 1288.1 562.7 1297.3C574.4 1306.4 588.8 1318.1 601.8 1328.5C614.8 1339 630.5 1351.3 640.9 1359.8C651.3 1368.3 660.4 1376.1 664.4 1379.4" stroke="#ee4848" stroke-width="12.2" transform="translate(-1.5,-2)"/><path d="M386.8 1492.7C386.8 1486.2 386.8 1464.1 386.8 1453.6C386.8 1443.2 385.5 1440.6 386.8 1430.2C388.1 1419.8 390.1 1405.4 394.6 1391.1C399.2 1376.8 406.4 1359.8 414.2 1344.2C422 1328.5 433.1 1311.6 441.5 1297.3C450 1282.9 458.5 1268.3 465 1258.2C471.5 1248.1 475.4 1240.6 480.6 1236.7C485.8 1232.8 491.1 1232.4 496.3 1234.7C501.5 1237 506 1243.8 511.9 1250.4C517.8 1256.9 523 1266 531.4 1273.8C539.9 1281.6 551 1288.1 562.7 1297.3C574.4 1306.4 588.8 1318.1 601.8 1328.5C614.8 1339 630.5 1351.3 640.9 1359.8C651.3 1368.3 660.4 1376.1 664.4 1379.4" stroke="#ffb4b4" stroke-width="4.1" transform="translate(-2.5,-3)" opacity=".8"/></g></g><g opacity="1" fill="none" stroke-linecap="round" stroke-linejoin="round"><path d="M586.2 1297.3C591.4 1296 607 1292.7 617.4 1289.5C627.9 1286.2 640.2 1284.9 648.7 1277.7C657.2 1270.6 664.4 1253.9 668.3 1246.5C672.2 1239 671.5 1235.1 672.2 1232.8" stroke="#121292" stroke-width="25.9"/><g filter="url(#b2)"><path d="M586.2 1297.3C591.4 1296 607 1292.7 617.4 1289.5C627.9 1286.2 640.2 1284.9 648.7 1277.7C657.2 1270.6 664.4 1253.9 668.3 1246.5C672.2 1239 671.5 1235.1 672.2 1232.8" stroke="#1a1ac6" stroke-width="18.7"/><path d="M586.2 1297.3C591.4 1296 607 1292.7 617.4 1289.5C627.9 1286.2 640.2 1284.9 648.7 1277.7C657.2 1270.6 664.4 1253.9 668.3 1246.5C672.2 1239 671.5 1235.1 672.2 1232.8" stroke="#3636ee" stroke-width="10.9" transform="translate(-1.5,-2)"/><path d="M586.2 1297.3C591.4 1296 607 1292.7 617.4 1289.5C627.9 1286.2 640.2 1284.9 648.7 1277.7C657.2 1270.6 664.4 1253.9 668.3 1246.5C672.2 1239 671.5 1235.1 672.2 1232.8" stroke="#9c9cff" stroke-width="3.6" transform="translate(-2.5,-3)" opacity=".8"/></g></g><g opacity="1" fill="none" stroke-linecap="round" stroke-linejoin="round"><path d="M453.3 1447.8C454.6 1443.5 455.9 1433.1 461.1 1422.4C466.3 1411.6 475.4 1395 484.5 1383.3C493.7 1371.5 504.1 1361.1 515.8 1352C527.5 1342.9 541.9 1335.7 554.9 1328.5C567.9 1321.4 582.3 1316.2 594 1309C605.7 1301.8 616.1 1294.7 625.3 1285.5C634.4 1276.4 642.2 1264 648.7 1254.3C655.2 1244.5 660.8 1232.4 664.4 1226.9C667.9 1221.4 669.2 1222 670.2 1221" stroke="#121292" stroke-width="30.2"/><g filter="url(#b2)"><path d="M453.3 1447.8C454.6 1443.5 455.9 1433.1 461.1 1422.4C466.3 1411.6 475.4 1395 484.5 1383.3C493.7 1371.5 504.1 1361.1 515.8 1352C527.5 1342.9 541.9 1335.7 554.9 1328.5C567.9 1321.4 582.3 1316.2 594 1309C605.7 1301.8 616.1 1294.7 625.3 1285.5C634.4 1276.4 642.2 1264 648.7 1254.3C655.2 1244.5 660.8 1232.4 664.4 1226.9C667.9 1221.4 669.2 1222 670.2 1221" stroke="#1a1ac6" stroke-width="21.8"/><path d="M453.3 1447.8C454.6 1443.5 455.9 1433.1 461.1 1422.4C466.3 1411.6 475.4 1395 484.5 1383.3C493.7 1371.5 504.1 1361.1 515.8 1352C527.5 1342.9 541.9 1335.7 554.9 1328.5C567.9 1321.4 582.3 1316.2 594 1309C605.7 1301.8 616.1 1294.7 625.3 1285.5C634.4 1276.4 642.2 1264 648.7 1254.3C655.2 1244.5 660.8 1232.4 664.4 1226.9C667.9 1221.4 669.2 1222 670.2 1221" stroke="#3636ee" stroke-width="12.7" transform="translate(-1.5,-2)"/><path d="M453.3 1447.8C454.6 1443.5 455.9 1433.1 461.1 1422.4C466.3 1411.6 475.4 1395 484.5 1383.3C493.7 1371.5 504.1 1361.1 515.8 1352C527.5 1342.9 541.9 1335.7 554.9 1328.5C567.9 1321.4 582.3 1316.2 594 1309C605.7 1301.8 616.1 1294.7 625.3 1285.5C634.4 1276.4 642.2 1264 648.7 1254.3C655.2 1244.5 660.8 1232.4 664.4 1226.9C667.9 1221.4 669.2 1222 670.2 1221" stroke="#9c9cff" stroke-width="4.2" transform="translate(-2.5,-3)" opacity=".8"/></g></g><path d="M524.2 985.6L114.4 1158.6L137.8 1647.6L524.1 1872.6L911.4 1647.6L934.6 1158.6Z" fill="none" stroke="#202020" stroke-width="3.6" stroke-linejoin="miter"/><text x="99" y="1057" font-size="86" font-weight="bold">c</text><g font-size="72" font-style="italic" text-anchor="middle"><text transform="translate(91.8 1373.6) rotate(-90)">y</text><text transform="translate(278.8 1818.6) rotate(31)">τ</text><text transform="translate(781.8 1818.6) rotate(-31)">x</text></g><path d="M1484 985.6L1483.9 1451.2M1097.6 1647.6L1483.9 1451.2L1871.2 1647.6" fill="none" stroke="#262626" stroke-width="2.6"/><path d="M1246.9 1492.7C1235.2 1496 1256 1531.8 1262.5 1551.4C1269.1 1570.9 1275.6 1593.1 1286 1610C1296.4 1626.9 1310.1 1641.9 1325.1 1653C1340.1 1664.1 1357.7 1671.6 1375.9 1676.4C1394.1 1681.3 1414.3 1682.6 1434.5 1682.3C1454.7 1682 1480.1 1679.4 1497.1 1674.5C1514 1669.6 1524.4 1662.4 1536.2 1653C1547.9 1643.5 1558.3 1631.5 1567.4 1617.8C1576.6 1604.1 1580.5 1581.3 1590.9 1570.9C1601.3 1560.5 1618.9 1561.8 1630 1555.3C1641.1 1548.7 1652.1 1543.5 1657.4 1531.8C1662.6 1520.1 1655.4 1501.8 1661.3 1484.9C1667.1 1468 1684.7 1444.5 1692.5 1430.2C1700.4 1415.8 1706.2 1409.3 1708.2 1398.9C1710.1 1388.5 1710.8 1376.8 1704.3 1367.6C1697.7 1358.5 1688 1349.4 1669.1 1344.2C1650.2 1339 1617 1336.4 1590.9 1336.4C1564.8 1336.4 1534.9 1333.8 1512.7 1344.2C1490.6 1354.6 1469.7 1380.7 1458 1398.9C1446.3 1417.1 1448.9 1434.1 1442.4 1453.6C1435.8 1473.2 1437.1 1503.1 1418.9 1516.2C1400.7 1529.2 1361.6 1535.7 1332.9 1531.8C1304.2 1527.9 1258.6 1489.5 1246.9 1492.7Z" fill="#b4ccc0" fill-opacity=".62" filter="url(#b2)"/><path d="M1246.9 1492.7C1246.3 1499.2 1256 1531.8 1262.5 1551.4C1269.1 1570.9 1275.6 1593.1 1286 1610C1296.4 1626.9 1310.1 1641.9 1325.1 1653C1340.1 1664.1 1357.7 1671.9 1375.9 1676.4C1394.1 1681 1414.3 1681 1434.5 1680.4C1454.7 1679.7 1480.1 1677.7 1497.1 1672.5C1514 1667.3 1525.8 1659.5 1536.2 1649.1C1546.6 1638.7 1557 1623 1559.6 1610C1562.2 1597 1559.6 1583.9 1551.8 1570.9C1544 1557.9 1525.8 1539.6 1512.7 1531.8C1499.7 1524 1489.3 1526.6 1473.6 1524C1458 1521.4 1442.4 1514.9 1418.9 1516.2C1395.5 1517.5 1358.3 1532.5 1332.9 1531.8C1307.5 1531.2 1280.8 1518.8 1266.5 1512.3C1252.1 1505.8 1247.6 1486.2 1246.9 1492.7Z" fill="#cfe4ec" fill-opacity="0.65" filter="url(#b1)"/><path d="M1254.7 1497.3C1254.2 1503.4 1264.6 1535 1271.3 1553.4C1278 1571.9 1284.7 1592.6 1294.8 1608.2C1304.9 1623.8 1318 1637.2 1332 1647.2C1346 1657.1 1362 1663.8 1378.7 1667.9C1395.3 1672 1413.2 1672 1431.9 1671.7C1450.5 1671.5 1474.5 1670.8 1490.6 1666.3C1506.6 1661.9 1518 1654.8 1528.1 1645.1C1538.1 1635.5 1548.3 1620.8 1550.7 1608.6C1553.2 1596.4 1550.5 1583.9 1542.9 1571.8C1535.2 1559.7 1517.3 1542.8 1504.7 1535.8C1492 1528.9 1481.5 1531.8 1466.9 1530C1452.4 1528.2 1438.3 1523.8 1417.2 1525C1396 1526.2 1363.9 1538.6 1340.1 1537.2C1316.3 1535.7 1288.7 1523.1 1274.4 1516.5C1260.2 1509.8 1255.2 1491.1 1254.7 1497.3Z" fill="#9ab7a1" fill-opacity="0.72" filter="url(#b2)"/><path d="M1269.3 1505.9C1269.1 1511.4 1280.8 1540.9 1287.8 1557.4C1294.9 1573.9 1301.9 1591.6 1311.5 1604.8C1321 1617.9 1332.9 1628.4 1345 1636.3C1357.1 1644.1 1370.3 1648.5 1383.9 1651.7C1397.6 1654.9 1411.2 1655 1426.9 1655.5C1442.6 1656 1463.9 1657.6 1478.2 1654.6C1492.5 1651.7 1503.5 1645.8 1512.8 1637.7C1522.1 1629.6 1531.8 1616.6 1533.9 1605.9C1536.1 1595.2 1533.4 1583.9 1525.9 1573.5C1518.5 1563.1 1501.4 1548.8 1489.5 1543.4C1477.5 1538.1 1466.9 1541.7 1454.3 1541.4C1441.7 1541.1 1430.7 1540.7 1413.9 1541.7C1397.2 1542.7 1374.5 1550.2 1353.8 1547.3C1333.1 1544.4 1303.5 1531.3 1289.5 1524.4C1275.4 1517.5 1269.6 1500.4 1269.3 1505.9Z" fill="#86a78e" fill-opacity="0.27" filter="url(#b4)"/><path d="M1450.2 1406.7C1458 1398.9 1476.9 1397.6 1489.3 1398.9C1501.6 1400.2 1514 1405.4 1524.4 1414.5C1534.9 1423.7 1544.6 1440.6 1551.8 1453.6C1559 1466.7 1567.4 1479.7 1567.4 1492.7C1567.4 1505.8 1560.9 1522.7 1551.8 1531.8C1542.7 1540.9 1525.8 1547.4 1512.7 1547.4C1499.7 1547.4 1484.1 1540.9 1473.6 1531.8C1463.2 1522.7 1455.4 1507.1 1450.2 1492.7C1445 1478.4 1442.4 1460.1 1442.4 1445.8C1442.4 1431.5 1442.4 1414.5 1450.2 1406.7Z" fill="#cfe4ec" fill-opacity="0.55" filter="url(#b1)"/><path d="M1455.8 1413.8C1462.4 1406.8 1479.9 1406.3 1490.7 1407.8C1501.6 1409.3 1512.3 1414.7 1521.1 1422.9C1529.8 1431 1537 1445.5 1543.3 1456.7C1549.6 1467.8 1558.4 1478.6 1558.9 1490C1559.3 1501.4 1553.9 1516.8 1546 1524.9C1538.1 1533 1522.8 1538.8 1511.4 1538.5C1500 1538.3 1486.2 1531.8 1477.4 1523.6C1468.6 1515.4 1463 1501.7 1458.5 1489.3C1454 1476.9 1451.1 1462 1450.6 1449.4C1450.1 1436.8 1449.1 1420.7 1455.8 1413.8Z" fill="#9ab7a1" fill-opacity="0.62" filter="url(#b2)"/><path d="M1466.3 1427.1C1470.8 1421.9 1485.5 1422.6 1493.5 1424.6C1501.6 1426.5 1509.1 1432.3 1514.7 1438.6C1520.3 1444.9 1522.7 1454.7 1527.3 1462.4C1532 1470.1 1541.4 1476.6 1542.7 1484.8C1544 1493.1 1540.7 1505.7 1535.1 1511.9C1529.5 1518 1517.3 1522.3 1508.9 1521.7C1500.4 1521.1 1490.3 1514.7 1484.5 1508.2C1478.7 1501.7 1477.3 1491.5 1474.2 1482.8C1471.2 1474.1 1467.5 1465.5 1466.2 1456.2C1464.9 1446.9 1461.7 1432.4 1466.3 1427.1Z" fill="#86a78e" fill-opacity="0.225" filter="url(#b4)"/><path d="M1528.4 1402.8C1532.3 1397.6 1558.3 1411.3 1575.3 1414.5C1592.2 1417.8 1612.4 1423.7 1630 1422.4C1647.6 1421.1 1668.4 1414.5 1680.8 1406.7C1693.2 1398.9 1699.7 1376.8 1704.3 1375.5C1708.8 1374.1 1710.1 1389.8 1708.2 1398.9C1706.2 1408 1700.4 1421.1 1692.5 1430.2C1684.7 1439.3 1667.8 1443.2 1661.3 1453.6C1654.7 1464.1 1654.1 1479.7 1653.4 1492.7C1652.8 1505.8 1661.3 1521.4 1657.4 1531.8C1653.4 1542.2 1641.1 1551.4 1630 1555.3C1618.9 1559.2 1601.3 1560.5 1590.9 1555.3C1580.5 1550.1 1570.1 1537 1567.4 1524C1564.8 1511 1577.9 1490.1 1575.3 1477.1C1572.7 1464.1 1559.6 1458.2 1551.8 1445.8C1544 1433.4 1524.4 1408 1528.4 1402.8Z" fill="#cfe4ec" fill-opacity="0.65" filter="url(#b1)"/><path d="M1536.2 1407.3C1539.7 1402.8 1566.6 1416.4 1582.1 1420.4C1597.6 1424.4 1613.9 1432.6 1629.3 1431.3C1644.7 1430.1 1662.9 1421.2 1674.4 1413C1685.8 1404.8 1693.7 1383.5 1698.2 1382.1C1702.6 1380.6 1703.3 1395.6 1700.9 1404.3C1698.6 1412.9 1692.4 1425.4 1684.3 1433.8C1676.2 1442.3 1658.4 1446.4 1652.4 1455.1C1646.3 1463.7 1647.6 1474.2 1647.9 1485.6C1648.1 1497 1656.9 1513.4 1653.9 1523.5C1650.9 1533.6 1639.7 1542.4 1629.7 1546.3C1619.8 1550.2 1603.4 1551.7 1594.1 1546.8C1584.7 1542 1575.3 1529.5 1573.5 1517.4C1571.8 1505.2 1585.9 1485.8 1583.8 1474.1C1581.6 1462.5 1568.6 1458.5 1560.7 1447.4C1552.7 1436.2 1532.6 1411.8 1536.2 1407.3Z" fill="#9ab7a1" fill-opacity="0.72" filter="url(#b2)"/><path d="M1550.9 1415.7C1553.9 1412.5 1582.1 1426.1 1595 1431.5C1607.8 1436.9 1616.8 1449.2 1628 1448.1C1639.2 1447 1652.4 1433.8 1662.2 1424.9C1672 1416 1682.5 1396.3 1686.6 1394.6C1690.8 1392.8 1690.3 1406.7 1687.3 1414.4C1684.3 1422.1 1677.1 1433.5 1668.8 1440.7C1660.4 1447.9 1642.6 1452.2 1637.4 1457.5C1632.1 1462.7 1635.7 1463.9 1637.4 1472.2C1639.1 1480.6 1648.7 1498.3 1647.4 1507.8C1646 1517.3 1637.1 1525.4 1629.2 1529.3C1621.3 1533.1 1607.4 1535 1600.1 1530.9C1592.7 1526.9 1585.1 1515.2 1585 1504.9C1585 1494.5 1601.1 1477.7 1599.8 1468.6C1598.6 1459.5 1585.6 1459.1 1577.4 1450.3C1569.3 1441.5 1548 1418.8 1550.9 1415.7Z" fill="#86a78e" fill-opacity="0.27" filter="url(#b4)"/><path d="M1286 1531.8C1280.8 1539.6 1312.1 1563.1 1325.1 1578.7C1338.1 1594.4 1348.5 1613.2 1364.2 1625.6C1379.8 1638 1400.7 1649.1 1418.9 1653C1437.1 1656.9 1458 1654.9 1473.6 1649.1C1489.3 1643.2 1508.8 1630.8 1512.7 1617.8C1516.6 1604.8 1510.1 1582 1497.1 1570.9C1484.1 1559.8 1458 1557.9 1434.5 1551.4C1411.1 1544.8 1381.1 1535.1 1356.4 1531.8C1331.6 1528.6 1291.2 1524 1286 1531.8Z" fill="#98b48e" fill-opacity="0.4" filter="url(#b8)"/><path d="M1489.3 1414.5C1491.9 1405.4 1511.4 1396.3 1520.5 1398.9C1529.7 1401.5 1538.8 1418.4 1544 1430.2C1549.2 1441.9 1554.4 1461.4 1551.8 1469.3C1549.2 1477.1 1536.2 1479.7 1528.4 1477.1C1520.5 1474.5 1511.4 1464.1 1504.9 1453.6C1498.4 1443.2 1486.7 1423.7 1489.3 1414.5Z" fill="#e2e672" fill-opacity="0.6" filter="url(#b8)"/><path d="M1583.1 1430.2C1588.3 1423.7 1607.8 1435.4 1614.4 1445.8C1620.9 1456.2 1624.8 1481 1622.2 1492.7C1619.6 1504.4 1605.2 1517.5 1598.7 1516.2C1592.2 1514.9 1585.7 1499.2 1583.1 1484.9C1580.5 1470.6 1577.9 1436.7 1583.1 1430.2Z" fill="#e6c860" fill-opacity="0.5" filter="url(#b8)"/><g opacity="0.85" fill="none" stroke-linecap="round" stroke-linejoin="round"><path d="M1348.5 1531.8C1350.5 1537.7 1354.4 1556.6 1360.3 1567C1366.1 1577.4 1374 1587.2 1383.7 1594.4C1393.5 1601.5 1407.2 1606.1 1418.9 1610C1430.6 1613.9 1443.7 1617.2 1454.1 1617.8C1464.5 1618.5 1476.9 1614.6 1481.4 1613.9" stroke="#a81414" stroke-width="29.2"/><g filter="url(#b2)"><path d="M1348.5 1531.8C1350.5 1537.7 1354.4 1556.6 1360.3 1567C1366.1 1577.4 1374 1587.2 1383.7 1594.4C1393.5 1601.5 1407.2 1606.1 1418.9 1610C1430.6 1613.9 1443.7 1617.2 1454.1 1617.8C1464.5 1618.5 1476.9 1614.6 1481.4 1613.9" stroke="#d42424" stroke-width="21"/><path d="M1348.5 1531.8C1350.5 1537.7 1354.4 1556.6 1360.3 1567C1366.1 1577.4 1374 1587.2 1383.7 1594.4C1393.5 1601.5 1407.2 1606.1 1418.9 1610C1430.6 1613.9 1443.7 1617.2 1454.1 1617.8C1464.5 1618.5 1476.9 1614.6 1481.4 1613.9" stroke="#ee4848" stroke-width="12.2" transform="translate(-1.5,-2)"/><path d="M1348.5 1531.8C1350.5 1537.7 1354.4 1556.6 1360.3 1567C1366.1 1577.4 1374 1587.2 1383.7 1594.4C1393.5 1601.5 1407.2 1606.1 1418.9 1610C1430.6 1613.9 1443.7 1617.2 1454.1 1617.8C1464.5 1618.5 1476.9 1614.6 1481.4 1613.9" stroke="#ffb4b4" stroke-width="4.1" transform="translate(-2.5,-3)" opacity=".8"/></g></g><g opacity="0.7" fill="none" stroke-linecap="round" stroke-linejoin="round"><path d="M1544 1383.3C1547.9 1387.2 1559 1397.6 1567.4 1406.7C1575.9 1415.8 1587.6 1427.6 1594.8 1438C1602 1448.4 1608.5 1459.5 1610.4 1469.3C1612.4 1479 1611.1 1489.5 1606.5 1496.6C1602 1503.8 1592.2 1510.3 1583.1 1512.3C1574 1514.2 1562.2 1511.6 1551.8 1508.4C1541.4 1505.1 1531 1497.3 1520.5 1492.7C1510.1 1488.2 1499.7 1483.6 1489.3 1481C1478.8 1478.4 1463.2 1477.7 1458 1477.1" stroke="#a81414" stroke-width="27"/><g filter="url(#b2)"><path d="M1544 1383.3C1547.9 1387.2 1559 1397.6 1567.4 1406.7C1575.9 1415.8 1587.6 1427.6 1594.8 1438C1602 1448.4 1608.5 1459.5 1610.4 1469.3C1612.4 1479 1611.1 1489.5 1606.5 1496.6C1602 1503.8 1592.2 1510.3 1583.1 1512.3C1574 1514.2 1562.2 1511.6 1551.8 1508.4C1541.4 1505.1 1531 1497.3 1520.5 1492.7C1510.1 1488.2 1499.7 1483.6 1489.3 1481C1478.8 1478.4 1463.2 1477.7 1458 1477.1" stroke="#d42424" stroke-width="19.4"/><path d="M1544 1383.3C1547.9 1387.2 1559 1397.6 1567.4 1406.7C1575.9 1415.8 1587.6 1427.6 1594.8 1438C1602 1448.4 1608.5 1459.5 1610.4 1469.3C1612.4 1479 1611.1 1489.5 1606.5 1496.6C1602 1503.8 1592.2 1510.3 1583.1 1512.3C1574 1514.2 1562.2 1511.6 1551.8 1508.4C1541.4 1505.1 1531 1497.3 1520.5 1492.7C1510.1 1488.2 1499.7 1483.6 1489.3 1481C1478.8 1478.4 1463.2 1477.7 1458 1477.1" stroke="#ee4848" stroke-width="11.3" transform="translate(-1.5,-2)"/><path d="M1544 1383.3C1547.9 1387.2 1559 1397.6 1567.4 1406.7C1575.9 1415.8 1587.6 1427.6 1594.8 1438C1602 1448.4 1608.5 1459.5 1610.4 1469.3C1612.4 1479 1611.1 1489.5 1606.5 1496.6C1602 1503.8 1592.2 1510.3 1583.1 1512.3C1574 1514.2 1562.2 1511.6 1551.8 1508.4C1541.4 1505.1 1531 1497.3 1520.5 1492.7C1510.1 1488.2 1499.7 1483.6 1489.3 1481C1478.8 1478.4 1463.2 1477.7 1458 1477.1" stroke="#ffb4b4" stroke-width="3.8" transform="translate(-2.5,-3)" opacity=".8"/></g></g><g opacity="0.85" fill="none" stroke-linecap="round" stroke-linejoin="round"><path d="M1516.6 1430.2C1516.6 1435.4 1514 1451 1516.6 1461.4C1519.2 1471.9 1527.7 1482.3 1532.3 1492.7C1536.8 1503.1 1541.4 1513.6 1544 1524C1546.6 1534.4 1549.2 1544.8 1547.9 1555.3C1546.6 1565.7 1541.4 1578.1 1536.2 1586.5C1531 1595 1522.5 1601.5 1516.6 1606.1C1510.8 1610.6 1503.6 1612.6 1501 1613.9" stroke="#121292" stroke-width="29.2"/><g filter="url(#b2)"><path d="M1516.6 1430.2C1516.6 1435.4 1514 1451 1516.6 1461.4C1519.2 1471.9 1527.7 1482.3 1532.3 1492.7C1536.8 1503.1 1541.4 1513.6 1544 1524C1546.6 1534.4 1549.2 1544.8 1547.9 1555.3C1546.6 1565.7 1541.4 1578.1 1536.2 1586.5C1531 1595 1522.5 1601.5 1516.6 1606.1C1510.8 1610.6 1503.6 1612.6 1501 1613.9" stroke="#1a1ac6" stroke-width="21"/><path d="M1516.6 1430.2C1516.6 1435.4 1514 1451 1516.6 1461.4C1519.2 1471.9 1527.7 1482.3 1532.3 1492.7C1536.8 1503.1 1541.4 1513.6 1544 1524C1546.6 1534.4 1549.2 1544.8 1547.9 1555.3C1546.6 1565.7 1541.4 1578.1 1536.2 1586.5C1531 1595 1522.5 1601.5 1516.6 1606.1C1510.8 1610.6 1503.6 1612.6 1501 1613.9" stroke="#3636ee" stroke-width="12.2" transform="translate(-1.5,-2)"/><path d="M1516.6 1430.2C1516.6 1435.4 1514 1451 1516.6 1461.4C1519.2 1471.9 1527.7 1482.3 1532.3 1492.7C1536.8 1503.1 1541.4 1513.6 1544 1524C1546.6 1534.4 1549.2 1544.8 1547.9 1555.3C1546.6 1565.7 1541.4 1578.1 1536.2 1586.5C1531 1595 1522.5 1601.5 1516.6 1606.1C1510.8 1610.6 1503.6 1612.6 1501 1613.9" stroke="#9c9cff" stroke-width="4.1" transform="translate(-2.5,-3)" opacity=".8"/></g></g><path opacity=".55" d="M1484 985.6L1483.9 1451.2M1097.6 1647.6L1483.9 1451.2L1871.2 1647.6" fill="none" stroke="#262626" stroke-width="2.6"/><path d="M1246.9 1481C1248.2 1471.2 1258 1458.2 1266.5 1449.7C1274.9 1441.3 1287.3 1434.1 1297.7 1430.2C1308.1 1426.3 1321.8 1423.7 1329 1426.3C1336.2 1428.9 1334.9 1439.9 1340.7 1445.8C1346.6 1451.7 1359.1 1463.4 1364.2 1461.4C1369.3 1459.5 1368.5 1441.9 1371.2 1434.1C1374 1426.3 1377.2 1419.2 1380.6 1414.5C1384 1409.8 1387.4 1407.4 1391.5 1405.9C1395.6 1404.5 1398.1 1403.2 1405.2 1405.9C1412.4 1408.7 1426.4 1415.7 1434.5 1422.4C1442.7 1429 1450.2 1439.3 1454.1 1445.8C1458 1452.3 1461.3 1456.9 1458 1461.4C1454.7 1466 1442.4 1470.6 1434.5 1473.2C1426.7 1475.8 1411.1 1474.5 1411.1 1477.1C1411.1 1479.7 1430 1484.9 1434.5 1488.8C1439.1 1492.7 1441.1 1496 1438.4 1500.5C1435.8 1505.1 1428.7 1511.6 1418.9 1516.2C1409.1 1520.7 1394.1 1525.3 1379.8 1527.9C1365.5 1530.5 1347.9 1532.5 1332.9 1531.8C1317.9 1531.2 1302.3 1527.9 1289.9 1524C1277.5 1520.1 1265.8 1515.5 1258.6 1508.4C1251.5 1501.2 1245.6 1490.8 1246.9 1481Z" fill="#cbcbf6" opacity="0.96" filter="url(#b1)"/><path d="M1461.9 1348.1C1463.9 1345.5 1473 1341.2 1481.4 1340.3C1489.9 1339.3 1503.6 1341.6 1512.7 1342.2C1521.8 1342.9 1527.7 1342.5 1536.2 1344.2C1544.6 1345.8 1555.7 1352 1563.5 1352C1571.4 1352 1573.3 1346.1 1583.1 1344.2C1592.9 1342.2 1609.1 1340.3 1622.2 1340.3C1635.2 1340.3 1650.8 1340.3 1661.3 1344.2C1671.7 1348.1 1680.2 1357.2 1684.7 1363.7C1689.3 1370.2 1691.2 1376.1 1688.6 1383.3C1686 1390.4 1677.5 1400.9 1669.1 1406.7C1660.6 1412.6 1648.2 1415.8 1637.8 1418.4C1627.4 1421.1 1617 1423 1606.5 1422.4C1596.1 1421.7 1585.7 1417.5 1575.3 1414.5C1564.8 1411.6 1552.5 1407.4 1544 1404.8C1535.5 1402.2 1524.4 1402.5 1524.4 1398.9C1524.4 1395.3 1539.4 1388.5 1544 1383.3C1548.6 1378.1 1554.4 1369.6 1551.8 1367.6C1549.2 1365.7 1537.5 1372.2 1528.4 1371.5C1519.2 1370.9 1506.9 1366.3 1497.1 1363.7C1487.3 1361.1 1475.6 1358.5 1469.7 1355.9C1463.9 1353.3 1459.9 1350.7 1461.9 1348.1Z" fill="#cbcbf6" opacity="0.96" filter="url(#b1)"/><ellipse cx="1317.3" cy="1481" rx="85" ry="36" fill="url(#core2)" transform="rotate(-5 1317.3 1481)"/><ellipse cx="1409.1" cy="1449.7" rx="64" ry="30" fill="url(#core)" transform="rotate(-6 1409.1 1449.7)"/><ellipse cx="1540.1" cy="1352" rx="58" ry="25" fill="url(#core)" transform="rotate(-6 1540.1 1352)"/><ellipse cx="1622.2" cy="1383.3" rx="62" ry="28" fill="url(#core)" transform="rotate(-6 1622.2 1383.3)"/><path opacity=".22" d="M1484 985.6L1483.9 1451.2M1097.6 1647.6L1483.9 1451.2L1871.2 1647.6" fill="none" stroke="#262626" stroke-width="2.6"/><g opacity="0.9" fill="none" stroke-linecap="round" stroke-linejoin="round"><path d="M1540.1 1336.4C1540.7 1339.6 1543.3 1352.6 1544 1355.9" stroke="#a81414" stroke-width="23.8"/><g filter="url(#b2)"><path d="M1540.1 1336.4C1540.7 1339.6 1543.3 1352.6 1544 1355.9" stroke="#d42424" stroke-width="17.1"/><path d="M1540.1 1336.4C1540.7 1339.6 1543.3 1352.6 1544 1355.9" stroke="#ee4848" stroke-width="10" transform="translate(-1.5,-2)"/><path d="M1540.1 1336.4C1540.7 1339.6 1543.3 1352.6 1544 1355.9" stroke="#ffb4b4" stroke-width="3.3" transform="translate(-2.5,-3)" opacity=".8"/></g></g><g opacity="1" fill="none" stroke-linecap="round" stroke-linejoin="round"><path d="M1571.4 1312.9C1577.2 1312.3 1596.1 1312.9 1606.5 1309C1617 1305.1 1626.7 1295.3 1633.9 1289.5C1641.1 1283.6 1646.9 1276.4 1649.5 1273.8" stroke="#a81414" stroke-width="25.9"/><g filter="url(#b2)"><path d="M1571.4 1312.9C1577.2 1312.3 1596.1 1312.9 1606.5 1309C1617 1305.1 1626.7 1295.3 1633.9 1289.5C1641.1 1283.6 1646.9 1276.4 1649.5 1273.8" stroke="#d42424" stroke-width="18.7"/><path d="M1571.4 1312.9C1577.2 1312.3 1596.1 1312.9 1606.5 1309C1617 1305.1 1626.7 1295.3 1633.9 1289.5C1641.1 1283.6 1646.9 1276.4 1649.5 1273.8" stroke="#ee4848" stroke-width="10.9" transform="translate(-1.5,-2)"/><path d="M1571.4 1312.9C1577.2 1312.3 1596.1 1312.9 1606.5 1309C1617 1305.1 1626.7 1295.3 1633.9 1289.5C1641.1 1283.6 1646.9 1276.4 1649.5 1273.8" stroke="#ffb4b4" stroke-width="3.6" transform="translate(-2.5,-3)" opacity=".8"/></g></g><g opacity="1" fill="none" stroke-linecap="round" stroke-linejoin="round"><path d="M1346.6 1492.7C1347.2 1487.5 1348.2 1474.5 1350.5 1461.4C1352.8 1448.4 1356.7 1428.9 1360.3 1414.5C1363.9 1400.2 1369.4 1387.2 1372 1375.5C1374.6 1363.7 1375.9 1354.6 1375.9 1344.2C1375.9 1333.8 1370 1322.7 1372 1312.9C1374 1303.1 1379.8 1290.8 1387.6 1285.5C1395.5 1280.3 1405.9 1281 1418.9 1281.6C1431.9 1282.3 1450.2 1286.2 1465.8 1289.5C1481.4 1292.7 1498.4 1297.9 1512.7 1301.2C1527.1 1304.4 1538.8 1309 1551.8 1309C1564.8 1309 1579.2 1305.7 1590.9 1301.2C1602.6 1296.6 1613.1 1287.2 1622.2 1281.6C1631.3 1276.1 1641.7 1270.2 1645.6 1268" stroke="#a81414" stroke-width="29.2"/><g filter="url(#b2)"><path d="M1346.6 1492.7C1347.2 1487.5 1348.2 1474.5 1350.5 1461.4C1352.8 1448.4 1356.7 1428.9 1360.3 1414.5C1363.9 1400.2 1369.4 1387.2 1372 1375.5C1374.6 1363.7 1375.9 1354.6 1375.9 1344.2C1375.9 1333.8 1370 1322.7 1372 1312.9C1374 1303.1 1379.8 1290.8 1387.6 1285.5C1395.5 1280.3 1405.9 1281 1418.9 1281.6C1431.9 1282.3 1450.2 1286.2 1465.8 1289.5C1481.4 1292.7 1498.4 1297.9 1512.7 1301.2C1527.1 1304.4 1538.8 1309 1551.8 1309C1564.8 1309 1579.2 1305.7 1590.9 1301.2C1602.6 1296.6 1613.1 1287.2 1622.2 1281.6C1631.3 1276.1 1641.7 1270.2 1645.6 1268" stroke="#d42424" stroke-width="21"/><path d="M1346.6 1492.7C1347.2 1487.5 1348.2 1474.5 1350.5 1461.4C1352.8 1448.4 1356.7 1428.9 1360.3 1414.5C1363.9 1400.2 1369.4 1387.2 1372 1375.5C1374.6 1363.7 1375.9 1354.6 1375.9 1344.2C1375.9 1333.8 1370 1322.7 1372 1312.9C1374 1303.1 1379.8 1290.8 1387.6 1285.5C1395.5 1280.3 1405.9 1281 1418.9 1281.6C1431.9 1282.3 1450.2 1286.2 1465.8 1289.5C1481.4 1292.7 1498.4 1297.9 1512.7 1301.2C1527.1 1304.4 1538.8 1309 1551.8 1309C1564.8 1309 1579.2 1305.7 1590.9 1301.2C1602.6 1296.6 1613.1 1287.2 1622.2 1281.6C1631.3 1276.1 1641.7 1270.2 1645.6 1268" stroke="#ee4848" stroke-width="12.2" transform="translate(-1.5,-2)"/><path d="M1346.6 1492.7C1347.2 1487.5 1348.2 1474.5 1350.5 1461.4C1352.8 1448.4 1356.7 1428.9 1360.3 1414.5C1363.9 1400.2 1369.4 1387.2 1372 1375.5C1374.6 1363.7 1375.9 1354.6 1375.9 1344.2C1375.9 1333.8 1370 1322.7 1372 1312.9C1374 1303.1 1379.8 1290.8 1387.6 1285.5C1395.5 1280.3 1405.9 1281 1418.9 1281.6C1431.9 1282.3 1450.2 1286.2 1465.8 1289.5C1481.4 1292.7 1498.4 1297.9 1512.7 1301.2C1527.1 1304.4 1538.8 1309 1551.8 1309C1564.8 1309 1579.2 1305.7 1590.9 1301.2C1602.6 1296.6 1613.1 1287.2 1622.2 1281.6C1631.3 1276.1 1641.7 1270.2 1645.6 1268" stroke="#ffb4b4" stroke-width="4.1" transform="translate(-2.5,-3)" opacity=".8"/></g></g><g opacity="1" fill="none" stroke-linecap="round" stroke-linejoin="round"><path d="M1516.6 1262.1C1517.3 1266.6 1516.6 1279 1520.5 1289.5C1524.4 1299.9 1531 1314.9 1540.1 1324.6C1549.2 1334.4 1562.9 1340.9 1575.3 1348.1C1587.6 1355.3 1603.3 1362.9 1614.4 1367.6C1625.4 1372.4 1637.2 1375.1 1641.7 1376.6" stroke="#121292" stroke-width="29.2"/><g filter="url(#b2)"><path d="M1516.6 1262.1C1517.3 1266.6 1516.6 1279 1520.5 1289.5C1524.4 1299.9 1531 1314.9 1540.1 1324.6C1549.2 1334.4 1562.9 1340.9 1575.3 1348.1C1587.6 1355.3 1603.3 1362.9 1614.4 1367.6C1625.4 1372.4 1637.2 1375.1 1641.7 1376.6" stroke="#1a1ac6" stroke-width="21"/><path d="M1516.6 1262.1C1517.3 1266.6 1516.6 1279 1520.5 1289.5C1524.4 1299.9 1531 1314.9 1540.1 1324.6C1549.2 1334.4 1562.9 1340.9 1575.3 1348.1C1587.6 1355.3 1603.3 1362.9 1614.4 1367.6C1625.4 1372.4 1637.2 1375.1 1641.7 1376.6" stroke="#3636ee" stroke-width="12.2" transform="translate(-1.5,-2)"/><path d="M1516.6 1262.1C1517.3 1266.6 1516.6 1279 1520.5 1289.5C1524.4 1299.9 1531 1314.9 1540.1 1324.6C1549.2 1334.4 1562.9 1340.9 1575.3 1348.1C1587.6 1355.3 1603.3 1362.9 1614.4 1367.6C1625.4 1372.4 1637.2 1375.1 1641.7 1376.6" stroke="#9c9cff" stroke-width="4.1" transform="translate(-2.5,-3)" opacity=".8"/></g></g><g opacity="1" fill="none" stroke-linecap="round" stroke-linejoin="round"><path d="M1409.1 1449.7C1409.5 1446.5 1407.5 1438.6 1411.1 1430.2C1414.7 1421.7 1422.2 1408.7 1430.6 1398.9C1439.1 1389.1 1452.1 1380 1461.9 1371.5C1471.7 1363.1 1480.8 1357.2 1489.3 1348.1C1497.7 1339 1505.6 1327.2 1512.7 1316.8C1519.9 1306.4 1526.4 1296.6 1532.3 1285.5C1538.1 1274.5 1544 1261.4 1547.9 1250.4C1551.8 1239.3 1554.7 1226.6 1555.7 1219.1C1556.7 1211.6 1555.7 1206.7 1553.8 1205.4C1551.8 1204.1 1548.2 1207 1544 1211.3C1539.8 1215.5 1532.9 1224.3 1528.4 1230.8C1523.8 1237.3 1518.6 1245.2 1516.6 1250.4C1514.7 1255.6 1516.6 1260.1 1516.6 1262.1" stroke="#121292" stroke-width="29.2"/><g filter="url(#b2)"><path d="M1409.1 1449.7C1409.5 1446.5 1407.5 1438.6 1411.1 1430.2C1414.7 1421.7 1422.2 1408.7 1430.6 1398.9C1439.1 1389.1 1452.1 1380 1461.9 1371.5C1471.7 1363.1 1480.8 1357.2 1489.3 1348.1C1497.7 1339 1505.6 1327.2 1512.7 1316.8C1519.9 1306.4 1526.4 1296.6 1532.3 1285.5C1538.1 1274.5 1544 1261.4 1547.9 1250.4C1551.8 1239.3 1554.7 1226.6 1555.7 1219.1C1556.7 1211.6 1555.7 1206.7 1553.8 1205.4C1551.8 1204.1 1548.2 1207 1544 1211.3C1539.8 1215.5 1532.9 1224.3 1528.4 1230.8C1523.8 1237.3 1518.6 1245.2 1516.6 1250.4C1514.7 1255.6 1516.6 1260.1 1516.6 1262.1" stroke="#1a1ac6" stroke-width="21"/><path d="M1409.1 1449.7C1409.5 1446.5 1407.5 1438.6 1411.1 1430.2C1414.7 1421.7 1422.2 1408.7 1430.6 1398.9C1439.1 1389.1 1452.1 1380 1461.9 1371.5C1471.7 1363.1 1480.8 1357.2 1489.3 1348.1C1497.7 1339 1505.6 1327.2 1512.7 1316.8C1519.9 1306.4 1526.4 1296.6 1532.3 1285.5C1538.1 1274.5 1544 1261.4 1547.9 1250.4C1551.8 1239.3 1554.7 1226.6 1555.7 1219.1C1556.7 1211.6 1555.7 1206.7 1553.8 1205.4C1551.8 1204.1 1548.2 1207 1544 1211.3C1539.8 1215.5 1532.9 1224.3 1528.4 1230.8C1523.8 1237.3 1518.6 1245.2 1516.6 1250.4C1514.7 1255.6 1516.6 1260.1 1516.6 1262.1" stroke="#3636ee" stroke-width="12.2" transform="translate(-1.5,-2)"/><path d="M1409.1 1449.7C1409.5 1446.5 1407.5 1438.6 1411.1 1430.2C1414.7 1421.7 1422.2 1408.7 1430.6 1398.9C1439.1 1389.1 1452.1 1380 1461.9 1371.5C1471.7 1363.1 1480.8 1357.2 1489.3 1348.1C1497.7 1339 1505.6 1327.2 1512.7 1316.8C1519.9 1306.4 1526.4 1296.6 1532.3 1285.5C1538.1 1274.5 1544 1261.4 1547.9 1250.4C1551.8 1239.3 1554.7 1226.6 1555.7 1219.1C1556.7 1211.6 1555.7 1206.7 1553.8 1205.4C1551.8 1204.1 1548.2 1207 1544 1211.3C1539.8 1215.5 1532.9 1224.3 1528.4 1230.8C1523.8 1237.3 1518.6 1245.2 1516.6 1250.4C1514.7 1255.6 1516.6 1260.1 1516.6 1262.1" stroke="#9c9cff" stroke-width="4.1" transform="translate(-2.5,-3)" opacity=".8"/></g></g><path d="M1484 985.6L1074.2 1158.6L1097.6 1647.6L1483.9 1872.6L1871.2 1647.6L1894.4 1158.6Z" fill="none" stroke="#202020" stroke-width="3.6" stroke-linejoin="miter"/><text x="1050" y="1057" font-size="86" font-weight="bold">d</text><g font-size="72" font-style="italic" text-anchor="middle"><text transform="translate(1051.6 1373.6) rotate(-90)">y</text><text transform="translate(1238.6 1818.6) rotate(31)">τ</text><text transform="translate(1741.6 1818.6) rotate(-31)">x</text></g><path d="M1904.5 1378 L1942.5 1380 L1931.2 1647 L1893.2 1645 Z" fill="url(#cbar)" stroke="#c8c8c8" stroke-width="3.6" stroke-linejoin="miter"/><g font-size="54"><text x="1951" y="1408">1</text><text x="1936" y="1643">0</text></g><rect x="2144.6" y="72.5" width="316.6" height="381" fill="#000"/><rect x="2150" y="76.5" width="308" height="45.3" fill="url(#hotbar)"/><rect x="2147" y="128" width="312" height="322" fill="url(#inten)"/><g clip-path="url(#aclip)"><path d="M2234.0 192.5 A116 116 0 0 1 2395.5 354.0" fill="none" stroke="#fff2d8" stroke-width="34" stroke-linecap="round" opacity=".8" filter="url(#crb)"/></g><path d="M2463.6 72.5H2780V453.5H2463.6Z M2467 128H2777V450H2467Z" fill="#000" fill-rule="evenodd"/><rect x="2469" y="76.5" width="306" height="45.3" fill="url(#hsvbar)"/><g font-size="53.5"><text x="2147" y="61.6">0</text><text x="2433" y="61.6">1</text><text x="2466" y="61.6">-π</text><text x="2739" y="61.6">π</text></g><g font-size="65" font-weight="bold" fill="#fff"><text x="2159" y="175">a</text><text x="2480" y="188">b</text></g><circle cx="2325.7" cy="258" r="9.8" fill="#e0101c"/><g fill="#e0101c" font-family="Liberation Serif,serif" font-style="italic"><text x="2371" y="240" font-size="46">r</text><text x="2387" y="246" font-size="27" font-style="normal">2</text><text x="2369" y="212" font-size="34" font-style="normal">→</text></g><rect x="2147.6" y="467" width="629.4" height="1302" fill="#000"/><g clip-path="url(#cclip)"><g filter="url(#cblur)"><rect x="2147" y="440.7" width="630.6" height="51.2" fill="url(#cr0)"/><rect x="2147" y="490.9" width="630.6" height="21.2" fill="url(#cr1)"/><rect x="2147" y="511.1" width="630.6" height="21.2" fill="url(#cr2)"/><rect x="2147" y="531.3" width="630.6" height="21.2" fill="url(#cr3)"/><rect x="2147" y="551.6" width="630.6" height="21.2" fill="url(#cr4)"/><rect x="2147" y="571.8" width="630.6" height="21.2" fill="url(#cr5)"/><rect x="2147" y="592" width="630.6" height="21.2" fill="url(#cr6)"/><rect x="2147" y="612.2" width="630.6" height="21.2" fill="url(#cr7)"/><rect x="2147" y="632.4" width="630.6" height="21.2" fill="url(#cr8)"/><rect x="2147" y="652.6" width="630.6" height="21.2" fill="url(#cr9)"/><rect x="2147" y="672.9" width="630.6" height="21.2" fill="url(#cr10)"/><rect x="2147" y="693.1" width="630.6" height="21.2" fill="url(#cr11)"/><rect x="2147" y="713.3" width="630.6" height="21.2" fill="url(#cr12)"/><rect x="2147" y="733.5" width="630.6" height="21.2" fill="url(#cr13)"/><rect x="2147" y="753.7" width="630.6" height="21.2" fill="url(#cr14)"/><rect x="2147" y="773.9" width="630.6" height="21.2" fill="url(#cr15)"/><rect x="2147" y="794.1" width="630.6" height="21.2" fill="url(#cr16)"/><rect x="2147" y="814.4" width="630.6" height="21.2" fill="url(#cr17)"/><rect x="2147" y="834.6" width="630.6" height="21.2" fill="url(#cr18)"/><rect x="2147" y="854.8" width="630.6" height="21.2" fill="url(#cr19)"/><rect x="2147" y="875" width="630.6" height="21.2" fill="url(#cr20)"/><rect x="2147" y="895.2" width="630.6" height="21.2" fill="url(#cr21)"/><rect x="2147" y="915.4" width="630.6" height="21.2" fill="url(#cr22)"/><rect x="2147" y="935.7" width="630.6" height="21.2" fill="url(#cr23)"/><rect x="2147" y="955.9" width="630.6" height="21.2" fill="url(#cr24)"/><rect x="2147" y="976.1" width="630.6" height="21.2" fill="url(#cr25)"/><rect x="2147" y="996.3" width="630.6" height="21.2" fill="url(#cr26)"/><rect x="2147" y="1016.5" width="630.6" height="21.2" fill="url(#cr27)"/><rect x="2147" y="1036.7" width="630.6" height="21.2" fill="url(#cr28)"/><rect x="2147" y="1057" width="630.6" height="21.2" fill="url(#cr29)"/><rect x="2147" y="1077.2" width="630.6" height="21.2" fill="url(#cr30)"/><rect x="2147" y="1097.4" width="630.6" height="21.2" fill="url(#cr31)"/><rect x="2147" y="1117.6" width="630.6" height="21.2" fill="url(#cr32)"/><rect x="2147" y="1137.8" width="630.6" height="21.2" fill="url(#cr33)"/><rect x="2147" y="1158" width="630.6" height="21.2" fill="url(#cr34)"/><rect x="2147" y="1178.2" width="630.6" height="21.2" fill="url(#cr35)"/><rect x="2147" y="1198.5" width="630.6" height="21.2" fill="url(#cr36)"/><rect x="2147" y="1218.7" width="630.6" height="21.2" fill="url(#cr37)"/><rect x="2147" y="1238.9" width="630.6" height="21.2" fill="url(#cr38)"/><rect x="2147" y="1259.1" width="630.6" height="21.2" fill="url(#cr39)"/><rect x="2147" y="1279.3" width="630.6" height="21.2" fill="url(#cr40)"/><rect x="2147" y="1299.5" width="630.6" height="21.2" fill="url(#cr41)"/><rect x="2147" y="1319.8" width="630.6" height="21.2" fill="url(#cr42)"/><rect x="2147" y="1340" width="630.6" height="21.2" fill="url(#cr43)"/><rect x="2147" y="1360.2" width="630.6" height="21.2" fill="url(#cr44)"/><rect x="2147" y="1380.4" width="630.6" height="21.2" fill="url(#cr45)"/><rect x="2147" y="1400.6" width="630.6" height="21.2" fill="url(#cr46)"/><rect x="2147" y="1420.8" width="630.6" height="21.2" fill="url(#cr47)"/><rect x="2147" y="1441" width="630.6" height="21.2" fill="url(#cr48)"/><rect x="2147" y="1461.3" width="630.6" height="21.2" fill="url(#cr49)"/><rect x="2147" y="1481.5" width="630.6" height="21.2" fill="url(#cr50)"/><rect x="2147" y="1501.7" width="630.6" height="21.2" fill="url(#cr51)"/><rect x="2147" y="1521.9" width="630.6" height="21.2" fill="url(#cr52)"/><rect x="2147" y="1542.1" width="630.6" height="21.2" fill="url(#cr53)"/><rect x="2147" y="1562.3" width="630.6" height="21.2" fill="url(#cr54)"/><rect x="2147" y="1582.6" width="630.6" height="21.2" fill="url(#cr55)"/><rect x="2147" y="1602.8" width="630.6" height="21.2" fill="url(#cr56)"/><rect x="2147" y="1623" width="630.6" height="21.2" fill="url(#cr57)"/><rect x="2147" y="1643.2" width="630.6" height="21.2" fill="url(#cr58)"/><rect x="2147" y="1663.4" width="630.6" height="21.2" fill="url(#cr59)"/><rect x="2147" y="1683.6" width="630.6" height="21.2" fill="url(#cr60)"/><rect x="2147" y="1703.9" width="630.6" height="21.2" fill="url(#cr61)"/><rect x="2147" y="1724.1" width="630.6" height="21.2" fill="url(#cr62)"/><rect x="2147" y="1744.3" width="630.6" height="51.2" fill="url(#cr63)"/></g></g><g stroke="#000" stroke-width="3.4"><path d="M2152 475 h12 M2772.6 475 h-12"/><path d="M2152 1117.4 h12 M2772.6 1117.4 h-12"/><path d="M2152 1760.2 h12 M2772.6 1760.2 h-12"/><path d="M2462.6 470 v12 M2462.6 1766 v-13"/></g><g font-size="52"><text x="2131.5" y="492" text-anchor="end">1</text><text x="2130.5" y="1135.5" text-anchor="end">0</text><text x="2131.5" y="1766" text-anchor="end">-1</text><text x="2143.5" y="1821.8" text-anchor="middle">-1</text><text x="2466" y="1821.8" text-anchor="middle">0</text><text x="2778" y="1821.8" text-anchor="middle">1</text></g><text x="2478" y="1883.5" font-size="60.5" text-anchor="middle">x(mm)</text><text transform="translate(2073 1104) rotate(-90)" font-size="60.5" text-anchor="middle">z/z<tspan font-size="42" dy="14">R</tspan></text><text x="2164" y="525.4" font-size="64" font-weight="bold">c</text><rect x="2328.6" y="487" width="246" height="78" rx="11" fill="#ececec" fill-opacity=".82"/><g font-family="Liberation Serif,serif" font-style="italic" font-size="62" fill="#111"><text x="2333" y="542">G(</text><text x="2398" y="542">r</text><text x="2419" y="556" font-size="40" font-style="normal">1</text><text x="2438" y="542" font-style="normal">,</text><text x="2458" y="542">r</text><text x="2479" y="556" font-size="40" font-style="normal">2</text><text x="2500" y="542" font-style="normal">,</text><text x="2524" y="542">z)</text><text x="2396" y="510" font-size="40" font-style="normal">→</text><text x="2456" y="510" font-size="40" font-style="normal">→</text></g><g mask="url(#shc0)"><path d="M2935 175L3308.3 68L3682.8 171.4L3640 619.6L3310 853.7L2986 617.5Z" fill="#000" opacity=".3" filter="url(#shb)" transform="translate(46,-18)"/><path d="M2935 175L3308.3 68L3682.8 171.4L3640 619.6L3310 853.7L2986 617.5Z" fill="#000" opacity=".13" filter="url(#shb)" transform="translate(10,30)"/></g><path d="M2935 175L3308.3 68L3682.8 171.4L3640 619.6L3310 853.7L2986 617.5Z" fill="#000"/><path d="M2978 162.7L3022.4 599.4M3022.4 599.4L3348.3 826.5M3019.5 150.8L3057.8 581.8M3057.7 581.9L3385.3 800.3M3059.5 139.3L3092 564.8M3091.9 564.9L3420.8 775.1M3098 128.3L3125.1 548.3M3125 548.4L3454.9 750.9M3135.1 117.6L3157.2 532.4M3157 532.5L3487.7 727.6M3170.9 107.4L3188.3 516.9M3188.1 517L3519.3 705.2M3205.5 97.5L3218.4 501.9M3218.3 502L3549.8 683.6M3238.9 87.9L3247.6 487.4M3247.5 487.5L3579.1 662.8M3271.1 78.7L3276 473.3M3275.9 473.4L3607.4 642.7M3302.3 69.7L3303.5 459.6M3303.5 459.6L3634.7 623.3M3340.3 76.8L3337.6 471.2M3013 637.2L3337.3 471M3372.5 85.7L3366.5 485.3M3040.2 657L3365.8 485M3405.8 94.9L3396.3 500M3068.6 677.7L3395.4 499.5M3440.3 104.4L3427 515.1M3098.1 699.2L3426 514.5M3476.1 114.3L3458.8 530.7M3128.9 721.7L3457.7 530.1M3513.2 124.6L3491.7 546.8M3161 745.1L3490.5 546.2M3551.8 135.2L3525.6 563.4M3194.5 769.5L3524.6 562.9M3591.8 146.3L3560.7 580.7M3229.6 795.1L3559.9 580.3M3633.5 157.8L3597.1 598.5M3266.2 821.8L3596.6 598.3M3676.8 169.7L3634.8 617M3304.7 849.8L3634.7 617M2937 192.4L3308.3 83M3308.3 82.7L3681.1 188.7M2945.7 267.7L3308.4 148M3308.4 146.8L3674 263.6M2954.3 342.3L3308.5 213M3308.5 211.3L3666.8 338.6M2962.8 416.4L3308.6 278M3308.6 276.2L3659.7 413.5M2971.3 489.9L3308.7 343M3308.7 341.5L3652.5 488.3M2979.7 562.9L3308.7 408M3308.7 407.2L3645.4 563.2" stroke="#8c8c8c" stroke-width="1.35" fill="none"/><path d="M2935 175L3308.3 68L3682.8 171.4M2986 617.5L3308.8 457L3640 619.6" stroke="#fff" stroke-width="3.2" fill="none" stroke-linejoin="round"/><path d="M3308.3 68L3308.8 457" stroke="#fff" stroke-width="4.4" fill="none"/><path d="M2992 618.5L3310 848.7L3634 620.6" stroke="#fff" stroke-width="2.6" fill="none"/><path d="M3682.8 171.4L3640 619.6" stroke="#bbb" stroke-width="2" fill="none" stroke-dasharray="5 3"/><path d="M2926.5 169L2979 620" stroke="#111" stroke-width="4" fill="none"/><path d="M2978 618L3309 856" stroke="#111" stroke-width="4" fill="none"/><path d="M3311 856L3643 620" stroke="#ddd" stroke-width="3" fill="none"/><path d="M2928.4 174l4.5 1M2933 211.6l4.5 1M2937.6 249.2l4.5 1M2942.2 286.8l4.5 1M2946.8 324.4l4.5 1M2951.4 362l4.5 1M2956 399.6l4.5 1M2960.6 437.2l4.5 1M2965.2 474.8l4.5 1M2969.8 512.4l4.5 1M2974.5 550l4.5 1M2979.1 587.6l4.5 1M3013.8 641.3l3 -4M3044.5 663.5l3 -4M3075.3 685.8l3 -4M3106 708.1l3 -4M3136.8 730.3l3 -4M3167.5 752.6l3 -4M3198.3 774.8l3 -4M3229 797.1l3 -4M3259.8 819.4l3 -4M3290.5 841.6l3 -4" stroke="#111" stroke-width="2" fill="none"/><text x="2972" y="229" font-size="64" font-weight="bold" fill="#fff">d</text><g font-size="53" text-anchor="middle"><text transform="translate(2864 283) rotate(-3)">0.2</text><text transform="translate(2895 436) rotate(-3)">0</text><text transform="translate(2893 594) rotate(-3)">-0.2</text><text transform="translate(2840 413) rotate(-90)" font-size="60">z/z<tspan font-size="38" dy="12">R</tspan></text><text transform="translate(2930 676) rotate(41)">-0.5</text><text transform="translate(3062 781) rotate(41)">0</text><text transform="translate(3203 880) rotate(41)">0.5</text><text transform="translate(3028 835) rotate(41)" font-size="60">x(mm)</text><text transform="translate(3375 890) rotate(-37)">-0.5</text><text transform="translate(3521 792) rotate(-37)">0</text><text transform="translate(3664 675) rotate(-37)">0.5</text><text transform="translate(3572 836) rotate(-40)" font-size="60">y(mm)</text></g><g filter="url(#rb)" opacity=".78"><path d="M3102.1 338.1L3109 306.1L3109 400.7L3102.1 338.1Z" fill="url(#rg0)"/><path d="M3108.5 306.1L3115.4 293L3115.4 448.5L3108.5 400.7Z" fill="url(#rg1)"/><path d="M3114.9 293L3121.8 284.2L3121.8 479.1L3114.9 448.5Z" fill="url(#rg2)"/><path d="M3121.2 284.2L3128.1 281.7L3128.1 490.8L3121.2 479.1Z" fill="url(#rg3)"/><path d="M3127.6 281.7L3134.5 279.4L3134.5 500L3127.6 490.8Z" fill="url(#rg4)"/><path d="M3134 279.4L3140.9 277.5L3140.9 505.6L3134 500Z" fill="url(#rg5)"/><path d="M3140.4 277.5L3147.3 277.9L3147.3 387.4L3140.4 390.6Z" fill="url(#rg6)"/><path d="M3140.4 392.1L3147.3 400.9L3147.3 511.2L3140.4 505.6Z" fill="url(#rg7)"/><path d="M3146.7 277.9L3153.6 278.3L3153.6 384.2L3146.7 387.4Z" fill="url(#rg8)"/><path d="M3146.7 400.9L3153.6 407.9L3153.6 516.5L3146.7 511.2Z" fill="url(#rg9)"/><path d="M3153.1 278.3L3160 278.7L3160 382.3L3153.1 384.2Z" fill="url(#rg10)"/><path d="M3153.1 407.9L3160 413.2L3160 519.7L3153.1 516.5Z" fill="url(#rg11)"/><path d="M3159.5 278.7L3166.4 280.7L3166.4 380.8L3159.5 382.3Z" fill="url(#rg12)"/><path d="M3159.5 413.2L3166.4 418.4L3166.4 522.9L3159.5 519.7Z" fill="url(#rg13)"/><path d="M3165.9 280.7L3172.7 282.9L3172.7 379.4L3165.9 380.8Z" fill="url(#rg14)"/><path d="M3165.9 418.4L3172.7 423L3172.7 526L3165.9 522.9Z" fill="url(#rg15)"/><path d="M3172.2 282.9L3179.1 285.2L3179.1 378L3172.2 379.4Z" fill="url(#rg16)"/><path d="M3172.2 423L3179.1 427.5L3179.1 529.2L3172.2 526Z" fill="url(#rg17)"/><path d="M3178.6 285.2L3185.5 287.4L3185.5 377.3L3178.6 378Z" fill="url(#rg18)"/><path d="M3178.6 427.5L3185.5 432L3185.5 531.2L3178.6 529.2Z" fill="url(#rg19)"/><path d="M3185 287.4L3191.9 289L3191.9 376.6L3185 377.3Z" fill="url(#rg20)"/><path d="M3185 432L3191.9 435.9L3191.9 533.2L3185 531.2Z" fill="url(#rg21)"/><path d="M3191.3 289L3198.2 290.4L3198.2 375.8L3191.3 376.6Z" fill="url(#rg22)"/><path d="M3191.3 435.9L3198.2 439.9L3198.2 535.3L3191.3 533.2Z" fill="url(#rg23)"/><path d="M3197.7 290.4L3204.6 291.9L3204.6 375.1L3197.7 375.8Z" fill="url(#rg24)"/><path d="M3197.7 439.9L3204.6 443.9L3204.6 537.3L3197.7 535.3Z" fill="url(#rg25)"/><path d="M3204.1 291.9L3211 293.3L3211 374.4L3204.1 375.1Z" fill="url(#rg26)"/><path d="M3204.1 443.9L3211 446.7L3211 538.6L3204.1 537.3Z" fill="url(#rg27)"/><path d="M3210.5 293.3L3217.3 294.5L3217.3 373.7L3210.5 374.4Z" fill="url(#rg28)"/><path d="M3210.5 446.7L3217.3 449.5L3217.3 539.4L3210.5 538.6Z" fill="url(#rg29)"/><path d="M3216.8 294.5L3223.7 295.1L3223.7 373.1L3216.8 373.7Z" fill="url(#rg30)"/><path d="M3216.8 449.5L3223.7 452.3L3223.7 540.2L3216.8 539.4Z" fill="url(#rg31)"/><path d="M3223.2 295.1L3230.1 295.8L3230.1 372.4L3223.2 373.1Z" fill="url(#rg32)"/><path d="M3223.2 452.3L3230.1 453.9L3230.1 541L3223.2 540.2Z" fill="url(#rg33)"/><path d="M3229.6 295.8L3236.5 296.5L3236.5 371.8L3229.6 372.4Z" fill="url(#rg34)"/><path d="M3229.6 453.9L3236.5 455.2L3236.5 541.8L3229.6 541Z" fill="url(#rg35)"/><path d="M3235.9 296.5L3242.8 297.2L3242.8 371.2L3235.9 371.8Z" fill="url(#rg36)"/><path d="M3235.9 455.2L3242.8 456.4L3242.8 541.7L3235.9 541.8Z" fill="url(#rg37)"/><path d="M3242.3 297.2L3249.2 297.9L3249.2 370.5L3242.3 371.2Z" fill="url(#rg38)"/><path d="M3242.3 456.4L3249.2 457.7L3249.2 541.2L3242.3 541.7Z" fill="url(#rg39)"/><path d="M3248.7 297.9L3255.6 298.2L3255.6 369.9L3248.7 370.5Z" fill="url(#rg40)"/><path d="M3248.7 457.7L3255.6 458.3L3255.6 540.8L3248.7 541.2Z" fill="url(#rg41)"/><path d="M3255.1 298.2L3261.9 298.4L3261.9 369.3L3255.1 369.9Z" fill="url(#rg42)"/><path d="M3255.1 458.3L3261.9 458.6L3261.9 540.4L3255.1 540.8Z" fill="url(#rg43)"/><path d="M3261.4 298.4L3268.3 298.6L3268.3 368.6L3261.4 369.3Z" fill="url(#rg44)"/><path d="M3261.4 458.6L3268.3 459L3268.3 540L3261.4 540.4Z" fill="url(#rg45)"/><path d="M3267.8 298.6L3274.7 298.9L3274.7 368L3267.8 368.6Z" fill="url(#rg46)"/><path d="M3267.8 459L3274.7 459.3L3274.7 539.5L3267.8 540Z" fill="url(#rg47)"/><path d="M3274.2 298.9L3281.1 299.1L3281.1 367.3L3274.2 368Z" fill="url(#rg48)"/><path d="M3274.2 459.3L3281.1 459.2L3281.1 538.8L3274.2 539.5Z" fill="url(#rg49)"/><path d="M3280.5 299.1L3287.4 299.3L3287.4 366.7L3280.5 367.3Z" fill="url(#rg50)"/><path d="M3280.5 459.2L3287.4 459L3287.4 538L3280.5 538.8Z" fill="url(#rg51)"/><path d="M3286.9 299.3L3293.8 299.2L3293.8 366.1L3286.9 366.7Z" fill="url(#rg52)"/><path d="M3286.9 459L3293.8 458.8L3293.8 537.1L3286.9 538Z" fill="url(#rg53)"/><path d="M3293.3 299.2L3300.2 299L3300.2 365.4L3293.3 366.1Z" fill="url(#rg54)"/><path d="M3293.3 458.8L3300.2 458.6L3300.2 536.3L3293.3 537.1Z" fill="url(#rg55)"/><path d="M3299.7 299L3306.5 298.8L3306.5 364.8L3299.7 365.4Z" fill="url(#rg56)"/><path d="M3299.7 458.6L3306.5 458.4L3306.5 535.4L3299.7 536.3Z" fill="url(#rg57)"/><path d="M3306 298.8L3312.9 298.6L3312.9 364.2L3306 364.8Z" fill="url(#rg58)"/><path d="M3306 458.4L3312.9 458.2L3312.9 534.6L3306 535.4Z" fill="url(#rg59)"/><path d="M3312.4 298.6L3319.3 298.4L3319.3 363.5L3312.4 364.2Z" fill="url(#rg60)"/><path d="M3312.4 458.2L3319.3 458.1L3319.3 533.9L3312.4 534.6Z" fill="url(#rg61)"/><path d="M3318.8 298.4L3325.7 298.2L3325.7 362.9L3318.8 363.5Z" fill="url(#rg62)"/><path d="M3318.8 458.1L3325.7 458.1L3325.7 533.2L3318.8 533.9Z" fill="url(#rg63)"/><path d="M3325.1 298.2L3332 297.4L3332 362.2L3325.1 362.9Z" fill="url(#rg64)"/><path d="M3325.1 458.1L3332 458.1L3332 532.6L3325.1 533.2Z" fill="url(#rg65)"/><path d="M3331.5 297.4L3338.4 296.1L3338.4 361.6L3331.5 362.2Z" fill="url(#rg66)"/><path d="M3331.5 458.1L3338.4 458.1L3338.4 532L3331.5 532.6Z" fill="url(#rg67)"/><path d="M3337.9 296.1L3344.8 294.8L3344.8 361L3337.9 361.6Z" fill="url(#rg68)"/><path d="M3337.9 458.1L3344.8 458.1L3344.8 531.3L3337.9 532Z" fill="url(#rg69)"/><path d="M3344.3 294.8L3351.2 293.5L3351.2 360.3L3344.3 361Z" fill="url(#rg70)"/><path d="M3344.3 458.1L3351.2 458.1L3351.2 530.7L3344.3 531.3Z" fill="url(#rg71)"/><path d="M3350.6 293.5L3357.5 292.7L3357.5 359.8L3350.6 360.3Z" fill="url(#rg72)"/><path d="M3350.6 458.1L3357.5 458.1L3357.5 529.8L3350.6 530.7Z" fill="url(#rg73)"/><path d="M3357 292.7L3363.9 292.4L3363.9 359.3L3357 359.8Z" fill="url(#rg74)"/><path d="M3357 458.1L3363.9 458.1L3363.9 528.8L3357 529.8Z" fill="url(#rg75)"/><path d="M3363.4 292.4L3370.3 292.1L3370.3 358.9L3363.4 359.3Z" fill="url(#rg76)"/><path d="M3363.4 458.1L3370.3 458.1L3370.3 527.7L3363.4 528.8Z" fill="url(#rg77)"/><path d="M3369.8 292.1L3376.6 291.8L3376.6 358.5L3369.8 358.9Z" fill="url(#rg78)"/><path d="M3369.8 458.1L3376.6 458.1L3376.6 526.6L3369.8 527.7Z" fill="url(#rg79)"/><path d="M3376.1 291.8L3383 291.8L3383 358.3L3376.1 358.5Z" fill="url(#rg80)"/><path d="M3376.1 458.1L3383 458.1L3383 525.6L3376.1 526.6Z" fill="url(#rg81)"/><path d="M3382.5 291.8L3389.4 292.1L3389.4 358.4L3382.5 358.3Z" fill="url(#rg82)"/><path d="M3382.5 458.1L3389.4 458.1L3389.4 524.5L3382.5 525.6Z" fill="url(#rg83)"/><path d="M3388.9 292.1L3395.8 292.4L3395.8 358.5L3388.9 358.4Z" fill="url(#rg84)"/><path d="M3388.9 458.1L3395.8 458L3395.8 523.6L3388.9 524.5Z" fill="url(#rg85)"/><path d="M3395.2 292.4L3402.1 292.7L3402.1 358.7L3395.2 358.5Z" fill="url(#rg86)"/><path d="M3395.2 458L3402.1 457.8L3402.1 522.9L3395.2 523.6Z" fill="url(#rg87)"/><path d="M3401.6 292.7L3408.5 293.8L3408.5 359.2L3401.6 358.7Z" fill="url(#rg88)"/><path d="M3401.6 457.8L3408.5 457.6L3408.5 522.1L3401.6 522.9Z" fill="url(#rg89)"/><path d="M3408 293.8L3414.9 296L3414.9 360.5L3408 359.2Z" fill="url(#rg90)"/><path d="M3408 457.6L3414.9 457.4L3414.9 521.4L3408 522.1Z" fill="url(#rg91)"/><path d="M3414.4 296L3421.2 298.3L3421.2 361.8L3414.4 360.5Z" fill="url(#rg92)"/><path d="M3414.4 457.4L3421.2 457.2L3421.2 520.7L3414.4 521.4Z" fill="url(#rg93)"/><path d="M3420.7 298.3L3427.6 300.5L3427.6 363.1L3420.7 361.8Z" fill="url(#rg94)"/><path d="M3420.7 457.2L3427.6 456.9L3427.6 519.9L3420.7 520.7Z" fill="url(#rg95)"/><path d="M3427.1 300.5L3434 303.8L3434 365L3427.1 363.1Z" fill="url(#rg96)"/><path d="M3427.1 456.9L3434 456.5L3434 519.3L3427.1 519.9Z" fill="url(#rg97)"/><path d="M3433.5 303.8L3440.4 308.8L3440.4 368.2L3433.5 365Z" fill="url(#rg98)"/><path d="M3433.5 456.5L3440.4 455.7L3440.4 518.7L3433.5 519.3Z" fill="url(#rg99)"/><path d="M3439.8 308.8L3446.7 313.9L3446.7 371.4L3439.8 368.2Z" fill="url(#rg100)"/><path d="M3439.8 455.7L3446.7 454.9L3446.7 518L3439.8 518.7Z" fill="url(#rg101)"/><path d="M3446.2 313.9L3453.1 319L3453.1 374.6L3446.2 371.4Z" fill="url(#rg102)"/><path d="M3446.2 454.9L3453.1 454.1L3453.1 517.2L3446.2 518Z" fill="url(#rg103)"/><path d="M3452.6 319L3459.5 324.7L3459.5 378.5L3452.6 374.6Z" fill="url(#rg104)"/><path d="M3452.6 454.1L3459.5 453.3L3459.5 515.2L3452.6 517.2Z" fill="url(#rg105)"/><path d="M3459 324.7L3465.8 331.7L3465.8 384.3L3459 378.5Z" fill="url(#rg106)"/><path d="M3459 453.3L3465.8 451.4L3465.8 513.2L3459 515.2Z" fill="url(#rg107)"/><path d="M3465.3 331.7L3472.2 338.7L3472.2 390L3465.3 384.3Z" fill="url(#rg108)"/><path d="M3465.3 451.4L3472.2 448.2L3472.2 511.3L3465.3 513.2Z" fill="url(#rg109)"/><path d="M3471.7 338.7L3478.6 345.7L3478.6 395.7L3471.7 390Z" fill="url(#rg110)"/><path d="M3471.7 448.2L3478.6 445L3478.6 505.4L3471.7 511.3Z" fill="url(#rg111)"/><path d="M3478.1 345.7L3485 353L3485 402.1L3478.1 395.7Z" fill="url(#rg112)"/><path d="M3478.1 445L3485 439.7L3485 499.1L3478.1 505.4Z" fill="url(#rg113)"/><path d="M3484.4 353L3491.3 361L3491.3 410.5L3484.4 402.1Z" fill="url(#rg114)"/><path d="M3484.4 439.7L3491.3 433.3L3491.3 489.2L3484.4 499.1Z" fill="url(#rg115)"/><path d="M3490.8 361L3497.7 368.9L3497.7 418.8L3490.8 410.5Z" fill="url(#rg116)"/><path d="M3490.8 433.3L3497.7 425.3L3497.7 474.8L3490.8 489.2Z" fill="url(#rg117)"/><path d="M3497.2 368.9L3504.1 377.1L3504.1 454.8L3497.2 474.8Z" fill="url(#rg118)"/><path d="M3503.6 377.1L3510.4 400L3510.4 400L3503.6 454.8Z" fill="url(#rg119)"/></g><g mask="url(#shc944)"><path d="M2939 1119L3312.3 1012L3686.8 1115.4L3644 1563.6L3314 1797.7L2990 1561.5Z" fill="#000" opacity=".3" filter="url(#shb)" transform="translate(46,-18)"/><path d="M2939 1119L3312.3 1012L3686.8 1115.4L3644 1563.6L3314 1797.7L2990 1561.5Z" fill="#000" opacity=".13" filter="url(#shb)" transform="translate(10,30)"/></g><path d="M2939 1119L3312.3 1012L3686.8 1115.4L3644 1563.6L3314 1797.7L2990 1561.5Z" fill="#000"/><path d="M2982 1106.7L3026.4 1543.4M3026.4 1543.4L3352.3 1770.5M3023.5 1094.8L3061.8 1525.8M3061.7 1525.9L3389.3 1744.3M3063.5 1083.3L3096 1508.8M3095.9 1508.9L3424.8 1719.1M3102 1072.3L3129.1 1492.3M3129 1492.4L3458.9 1694.9M3139.1 1061.6L3161.2 1476.4M3161 1476.5L3491.7 1671.6M3174.9 1051.4L3192.3 1460.9M3192.1 1461L3523.3 1649.2M3209.5 1041.5L3222.4 1445.9M3222.3 1446L3553.8 1627.6M3242.9 1031.9L3251.6 1431.4M3251.5 1431.5L3583.1 1606.8M3275.1 1022.7L3280 1417.3M3279.9 1417.4L3611.4 1586.7M3306.3 1013.7L3307.5 1403.6M3307.5 1403.6L3638.7 1567.3M3344.3 1020.8L3341.6 1415.2M3017 1581.2L3341.3 1415M3376.5 1029.7L3370.5 1429.3M3044.2 1601L3369.8 1429M3409.8 1038.9L3400.3 1444M3072.6 1621.7L3399.4 1443.5M3444.3 1048.4L3431 1459.1M3102.1 1643.2L3430 1458.5M3480.1 1058.3L3462.8 1474.7M3132.9 1665.7L3461.7 1474.1M3517.2 1068.6L3495.7 1490.8M3165 1689.1L3494.5 1490.2M3555.8 1079.2L3529.6 1507.4M3198.5 1713.5L3528.6 1506.9M3595.8 1090.3L3564.7 1524.7M3233.6 1739.1L3563.9 1524.3M3637.5 1101.8L3601.1 1542.5M3270.2 1765.8L3600.6 1542.3M3680.8 1113.7L3638.8 1561M3308.7 1793.8L3638.7 1561M2941 1136.4L3312.3 1027M3312.3 1026.7L3685.1 1132.7M2949.7 1211.7L3312.4 1092M3312.4 1090.8L3678 1207.6M2958.3 1286.3L3312.5 1157M3312.5 1155.3L3670.8 1282.6M2966.8 1360.4L3312.6 1222M3312.6 1220.2L3663.7 1357.5M2975.3 1433.9L3312.7 1287M3312.7 1285.5L3656.5 1432.3M2983.7 1506.9L3312.7 1352M3312.7 1351.2L3649.4 1507.2" stroke="#8c8c8c" stroke-width="1.35" fill="none"/><path d="M2939 1119L3312.3 1012L3686.8 1115.4M2990 1561.5L3312.8 1401L3644 1563.6" stroke="#fff" stroke-width="3.2" fill="none" stroke-linejoin="round"/><path d="M3312.3 1012L3312.8 1401" stroke="#fff" stroke-width="4.4" fill="none"/><path d="M2996 1562.5L3314 1792.7L3638 1564.6" stroke="#fff" stroke-width="2.6" fill="none"/><path d="M3686.8 1115.4L3644 1563.6" stroke="#bbb" stroke-width="2" fill="none" stroke-dasharray="5 3"/><path d="M2930.5 1113L2983 1564" stroke="#111" stroke-width="4" fill="none"/><path d="M2982 1562L3313 1800" stroke="#111" stroke-width="4" fill="none"/><path d="M3315 1800L3647 1564" stroke="#ddd" stroke-width="3" fill="none"/><path d="M2932.4 1118l4.5 1M2937 1155.6l4.5 1M2941.6 1193.2l4.5 1M2946.2 1230.8l4.5 1M2950.8 1268.4l4.5 1M2955.4 1306l4.5 1M2960 1343.6l4.5 1M2964.6 1381.2l4.5 1M2969.2 1418.8l4.5 1M2973.8 1456.4l4.5 1M2978.5 1494l4.5 1M2983.1 1531.6l4.5 1M3017.8 1585.3l3 -4M3048.5 1607.5l3 -4M3079.3 1629.8l3 -4M3110 1652.1l3 -4M3140.8 1674.3l3 -4M3171.5 1696.6l3 -4M3202.3 1718.8l3 -4M3233 1741.1l3 -4M3263.8 1763.4l3 -4M3294.5 1785.6l3 -4" stroke="#111" stroke-width="2" fill="none"/><text x="2976" y="1180" font-size="64" font-weight="bold" fill="#fff">e</text><g font-size="53" text-anchor="middle"><text transform="translate(2868 1227) rotate(-3)">0.2</text><text transform="translate(2899 1380) rotate(-3)">0</text><text transform="translate(2897 1538) rotate(-3)">-0.2</text><text transform="translate(2844 1357) rotate(-90)" font-size="60">z/z<tspan font-size="38" dy="12">R</tspan></text><text transform="translate(2934 1620) rotate(41)">-0.5</text><text transform="translate(3066 1725) rotate(41)">0</text><text transform="translate(3207 1824) rotate(41)">0.5</text><text transform="translate(3032 1779) rotate(41)" font-size="60">x(mm)</text><text transform="translate(3379 1834) rotate(-37)">-0.5</text><text transform="translate(3525 1736) rotate(-37)">0</text><text transform="translate(3668 1619) rotate(-37)">0.5</text><text transform="translate(3576 1780) rotate(-40)" font-size="60">y(mm)</text><text transform="translate(3566 1698) rotate(-37)">0</text></g><path d="M3107.4 1283.2C3108.1 1276.4 3108.9 1269 3111.3 1262.6C3113.7 1256.1 3116.9 1250.1 3121.6 1244.5C3126.4 1238.9 3133.2 1232.5 3139.7 1229C3146.1 1225.6 3152.6 1224.1 3160.3 1223.9C3168.1 1223.7 3177.1 1226.2 3186.1 1227.7C3195.2 1229.3 3205.9 1232.3 3214.5 1232.9C3223.1 1233.6 3229.6 1232.5 3237.8 1231.6C3245.9 1230.8 3255 1229 3263.6 1227.7C3272.2 1226.5 3280.8 1224.9 3289.4 1223.9C3298 1222.9 3306.6 1222 3315.2 1221.8C3323.8 1221.6 3332.4 1222 3341 1222.6C3349.6 1223.1 3358.2 1223.4 3366.8 1225.2C3375.4 1226.9 3384 1229.3 3392.6 1232.9C3401.2 1236.6 3409.8 1241.7 3418.4 1247.1C3427 1252.5 3435.6 1258.7 3444.2 1265.2C3452.8 1271.6 3461.5 1278.5 3470.1 1285.8C3478.7 1293.1 3489.4 1302.6 3495.9 1309C3502.3 1315.5 3506 1319.4 3508.8 1324.5C3511.6 1329.7 3512.6 1334 3512.6 1340C3512.6 1346 3509.8 1352.9 3508.8 1360.7C3507.7 1368.4 3507.9 1378.7 3506.2 1386.5C3504.5 1394.2 3502.3 1401.1 3498.4 1407.1C3494.6 1413.2 3489.8 1417.9 3483 1422.6C3476.1 1427.3 3465.8 1431.2 3457.2 1435.5C3448.5 1439.8 3439.9 1444.1 3431.3 1448.4C3422.7 1452.7 3414.1 1457 3405.5 1461.3C3396.9 1465.6 3388.3 1470.4 3379.7 1474.2C3371.1 1478.1 3362.5 1481.8 3353.9 1484.6C3345.3 1487.4 3336.7 1489.3 3328.1 1491C3319.5 1492.7 3310.9 1494.5 3302.3 1494.9C3293.7 1495.3 3285.1 1494.9 3276.5 1493.6C3267.9 1492.3 3259.3 1489.9 3250.7 1487.1C3242.1 1484.3 3233.5 1480.7 3224.9 1476.8C3216.3 1472.9 3207.7 1468.6 3199.1 1463.9C3190.4 1459.2 3181.8 1454.9 3173.2 1448.4C3164.6 1442 3154.7 1433.4 3147.4 1425.2C3140.1 1417 3134.1 1408 3129.4 1399.4C3124.6 1390.8 3122.1 1384.3 3119 1373.6C3116 1362.8 3113.2 1346.5 3111.3 1334.9C3109.4 1323.2 3108.1 1312.5 3107.4 1303.9C3106.8 1295.3 3106.8 1290.1 3107.4 1283.2Z M3155.2 1345.2C3156 1342.2 3166.8 1338.3 3173.2 1334.9C3179.7 1331.4 3187 1328 3193.9 1324.5C3200.8 1321.1 3207.2 1317.7 3214.5 1314.2C3221.8 1310.8 3229.6 1306.9 3237.8 1303.9C3245.9 1300.9 3255 1298.3 3263.6 1296.1C3272.2 1294 3280.8 1292.1 3289.4 1291C3298 1289.9 3306.6 1289.5 3315.2 1289.7C3323.8 1289.9 3332.4 1290.8 3341 1292.3C3349.6 1293.8 3358.2 1295.9 3366.8 1298.7C3375.4 1301.5 3384 1305.2 3392.6 1309C3401.2 1312.9 3409.8 1317.2 3418.4 1322C3427 1326.7 3435.6 1332.3 3444.2 1337.4C3452.8 1342.6 3461.9 1348.2 3470.1 1352.9C3478.2 1357.7 3492.9 1363.3 3493.3 1365.8C3493.7 1368.4 3480.8 1366.7 3472.6 1368.4C3464.5 1370.1 3453.3 1373.1 3444.2 1376.2C3435.2 1379.2 3427 1383 3418.4 1386.5C3409.8 1389.9 3401.2 1393.8 3392.6 1396.8C3384 1399.8 3375.4 1402.4 3366.8 1404.5C3358.2 1406.7 3349.6 1408.4 3341 1409.7C3332.4 1411 3323.8 1412.5 3315.2 1412.3C3306.6 1412.1 3298 1410.4 3289.4 1408.4C3280.8 1406.5 3272.2 1403.7 3263.6 1400.7C3255 1397.7 3246.4 1394 3237.8 1390.4C3229.2 1386.7 3220.6 1383 3212 1378.7C3203.4 1374.4 3193.5 1368.8 3186.1 1364.5C3178.8 1360.2 3173.2 1356.2 3168.1 1352.9C3162.9 1349.7 3154.3 1348.2 3155.2 1345.2Z" fill="url(#gband)" fill-rule="evenodd" opacity=".72" filter="url(#rb)"/><path d="M3129.4 1306.5C3134.4 1304.6 3138.1 1299.9 3147.4 1298.7C3156.7 1297.5 3185.3 1298.6 3199.1 1297.4C3212.8 1296.2 3235.2 1291.6 3250.7 1289.7C3266.2 1287.8 3299.7 1283.8 3315.2 1283.2C3330.7 1282.7 3354.8 1283.8 3366.8 1285.8C3378.9 1287.9 3393.5 1293.2 3405.5 1298.7C3417.6 1304.2 3444.1 1319.9 3457.2 1327.1C3470.2 1334.3 3497.4 1348.5 3503.6 1352.9C3509.8 1357.4 3506 1356.2 3503.6 1360.7C3501.2 1365.1 3491.7 1383.2 3485.5 1386.5C3479.3 1389.7 3467.8 1384.2 3457.2 1385.2C3446.5 1386.2 3419.3 1391.5 3405.5 1394.2C3391.8 1397 3366.6 1403.1 3353.9 1405.8C3341.2 1408.6 3322.1 1414.7 3310 1414.9C3298 1415 3276.7 1410.9 3263.6 1407.1C3250.5 1403.3 3225.7 1394.1 3212 1386.5C3198.2 1378.9 3173.9 1360.2 3160.3 1350.3C3146.7 1340.5 3114.1 1318.8 3110 1312.9C3105.9 1307.1 3124.4 1308.4 3129.4 1306.5Z" fill="none" stroke="#1010f0" stroke-width="5.6" stroke-linejoin="round"/><path d="M3113.9 1275.5C3113.9 1268.6 3118.9 1258.5 3121.6 1252.3C3124.4 1246.1 3131.4 1233.2 3134.5 1229C3137.6 1224.9 3139.7 1221.8 3144.8 1221.3C3150 1220.8 3165.3 1223.8 3173.2 1225.2C3181.2 1226.5 3196.6 1230.4 3204.2 1231.6C3211.8 1232.8 3223.8 1234.4 3230 1234.2C3236.2 1234 3244.5 1231.2 3250.7 1230.3C3256.9 1229.5 3269.6 1228.1 3276.5 1227.7C3283.4 1227.4 3295.4 1227.4 3302.3 1227.7C3309.2 1228.1 3321.2 1229.1 3328.1 1230.3C3335 1231.5 3347 1234.4 3353.9 1236.8C3360.8 1239.2 3372.8 1244.6 3379.7 1248.4C3386.6 1252.2 3398.6 1260.2 3405.5 1265.2C3412.4 1270.2 3424.5 1280 3431.3 1285.8C3438.2 1291.7 3450.3 1302.9 3457.2 1309C3464 1315.2 3477.1 1326.4 3483 1332.3C3488.8 1338.1 3497.6 1346.4 3501 1352.9C3504.5 1359.5 3508.4 1375.1 3508.8 1381.3C3509.1 1387.5 3507 1394.2 3503.6 1399.4C3500.2 1404.5 3489.2 1414.9 3483 1420C3476.8 1425.2 3464 1433.6 3457.2 1438.1C3450.3 1442.6 3438.2 1449.8 3431.3 1453.6C3424.5 1457.4 3412.4 1463.6 3405.5 1466.5C3398.6 1469.4 3386.6 1473.6 3379.7 1475.5C3372.8 1477.4 3360.8 1479.8 3353.9 1480.7C3347 1481.5 3335 1481.8 3328.1 1482C3321.2 1482.1 3309.2 1482.3 3302.3 1482C3295.4 1481.6 3283.4 1481.1 3276.5 1479.4C3269.6 1477.7 3257.6 1472.5 3250.7 1469.1C3243.8 1465.6 3231.7 1458.7 3224.9 1453.6C3218 1448.4 3205.9 1437.6 3199.1 1430.4C3192.2 1423.1 3179.4 1407.6 3173.2 1399.4C3167 1391.1 3157.8 1377 3152.6 1368.4C3147.4 1359.8 3138.7 1343.5 3134.5 1334.9C3130.4 1326.3 3124.4 1311.8 3121.6 1303.9C3118.9 1296 3113.9 1282.4 3113.9 1275.5Z" fill="none" stroke="#f01818" stroke-width="5.6" stroke-linejoin="round"/><path d="M3122.9 1386.5C3124.5 1381.7 3132.8 1367.9 3137.1 1360.7C3141.4 1353.4 3151.4 1337.6 3155.2 1332.3C3159 1326.9 3161.4 1324.1 3165.5 1320.7C3169.6 1317.2 3180 1310.8 3186.1 1306.5C3192.3 1302.2 3205.1 1292.9 3212 1288.4C3218.8 1283.9 3230.9 1276.7 3237.8 1272.9C3244.6 1269.1 3256.7 1263.1 3263.6 1260C3270.5 1256.9 3282.5 1251.8 3289.4 1249.7C3296.3 1247.6 3308.3 1245 3315.2 1244C3322.1 1243 3334.1 1242.4 3341 1241.9C3347.9 1241.5 3359.9 1240.3 3366.8 1240.7C3373.7 1241 3385.7 1242.6 3392.6 1244.5C3399.5 1246.4 3411.6 1251.4 3418.4 1254.8C3425.3 1258.3 3437.4 1265.5 3444.2 1270.3C3451.1 1275.2 3463.2 1284.8 3470.1 1291C3476.9 1297.2 3490.4 1310.9 3495.9 1316.8C3501.4 1322.6 3509.3 1331.1 3511.4 1334.9C3513.4 1338.6 3512.4 1341.7 3511.4 1345.2C3510.3 1348.6 3507.4 1356.5 3503.6 1360.7C3499.8 1364.8 3489.2 1372 3483 1376.2C3476.8 1380.3 3464 1387.5 3457.2 1391.6C3450.3 1395.8 3438.2 1403 3431.3 1407.1C3424.5 1411.3 3412.4 1418.8 3405.5 1422.6C3398.6 1426.4 3386.6 1432.1 3379.7 1435.5C3372.8 1439 3360.8 1445.2 3353.9 1448.4C3347 1451.7 3335 1457.3 3328.1 1460C3321.2 1462.8 3307.8 1467.4 3302.3 1469.1C3296.8 1470.8 3292 1472.9 3286.8 1472.9C3281.6 1472.9 3270.1 1470.3 3263.6 1469.1C3257 1467.9 3244.6 1465.6 3237.8 1463.9C3230.9 1462.2 3218.8 1458.6 3212 1456.2C3205.1 1453.8 3193 1449.3 3186.1 1445.8C3179.3 1442.4 3166.5 1434.8 3160.3 1430.4C3154.1 1425.9 3144.3 1416.8 3139.7 1412.3C3135 1407.8 3127.7 1400.2 3125.5 1396.8C3123.3 1393.4 3121.4 1391.3 3122.9 1386.5Z" fill="none" stroke="#18f030" stroke-width="5.6" stroke-linejoin="round"/><path d="M3450 1085 L3563 1118.5" stroke="#18f030" stroke-width="7.5"/><path d="M3450 1149 L3563 1182.5" stroke="#1010f0" stroke-width="7.5"/><path d="M3450 1207.5 L3563 1241" stroke="#f01818" stroke-width="7.5"/><g font-size="31" fill="#fff" text-anchor="middle"><text transform="translate(3638 1145) rotate(14)">1.4π</text><text transform="translate(3627 1211) rotate(14)">0.1π</text><text transform="translate(3612 1271) rotate(14)">0.75π</text></g></svg><div class="abs" style="left:2467px;top:128px;width:310px;height:322px;overflow:hidden;"><div class="abs" style="left:-247px;top:-238.5px;width:800px;height:800px;background:conic-gradient(from 0deg,#6aff00 0deg,#bfff00 10deg,#ffff00 18deg,#ffd400 30deg,#ffae00 45deg,#ff8800 70deg,#ff6a00 90deg,#ff2f00 120deg,#ff1100 135deg,#ff0000 160deg,#ff0033 168deg,#ff0080 172deg,#d400ff 180deg,#8000ff 187deg,#4000ff 200deg,#0000ff 225deg,#0015ff 250deg,#0040ff 270deg,#0080ff 285deg,#00aeff 300deg,#00e1ff 315deg,#00ffff 322deg,#00ff91 335deg,#00ff00 350deg,#6aff00 360deg)"></div><div class="abs" style="left:91px;top:99.5px;width:124px;height:124px;border-radius:50%;background:conic-gradient(from 0deg,#9500ff 0deg,#4000ff 20deg,#0000ff 45deg,#0055ff 70deg,#00aaff 90deg,#00ffff 110deg,#00ff80 135deg,#00ff00 160deg,#55ff00 180deg,#ffff00 200deg,#ffbf00 225deg,#ff5500 270deg,#ff1500 315deg,#ff0015 335deg,#ff0080 350deg,#9500ff 360deg)"></div></div><div class="abs" style="left:2195.5px;top:1577.5px;width:144px;height:144px;border-radius:50%;background:radial-gradient(circle closest-side,#fff 0%,rgba(255,255,255,.82) 28%,rgba(255,255,255,.58) 55%,rgba(255,255,255,.34) 80%,rgba(255,255,255,0.16) 100%),conic-gradient(from 0deg,#80ff00 0deg,#ffff00 30deg,#ff8000 60deg,#ff0000 90deg,#ff0080 120deg,#ff00ff 150deg,#8000ff 180deg,#0000ff 210deg,#0080ff 240deg,#00ffff 270deg,#00ff80 300deg,#00ff00 330deg,#80ff00 360deg)"></div><svg width="3871" height="1922" viewBox="0 0 3871 1922" font-family="Liberation Sans, sans-serif"><g font-family="DejaVu Sans,Liberation Sans,sans-serif" font-size="30"><text x="2272.5" y="1569.5" fill="#3ad890" text-anchor="middle">π/2</text><text x="2272.5" y="1747.5" fill="#b030e0" text-anchor="middle">3π/2</text><text x="2173.5" y="1657.5" fill="#50c0f8" text-anchor="middle">π</text><text x="2355.5" y="1659.5" fill="#ff40a0" text-anchor="middle">0</text><text x="2265.5" y="1640.5" fill="#5a6a50" text-anchor="middle">0</text><text x="2327.5" y="1640.5" fill="#7a5a50" text-anchor="middle">1</text></g><path d="M2267.5 1649.5 h58" stroke="#8a5048" stroke-width="2.6"/><path d="M2339.5 1649.5 l-14 -7 v14z" fill="#8a4840"/><g font-size="65" font-weight="bold" fill="#fff"><text x="2480" y="188">b</text></g></svg></body></html>
